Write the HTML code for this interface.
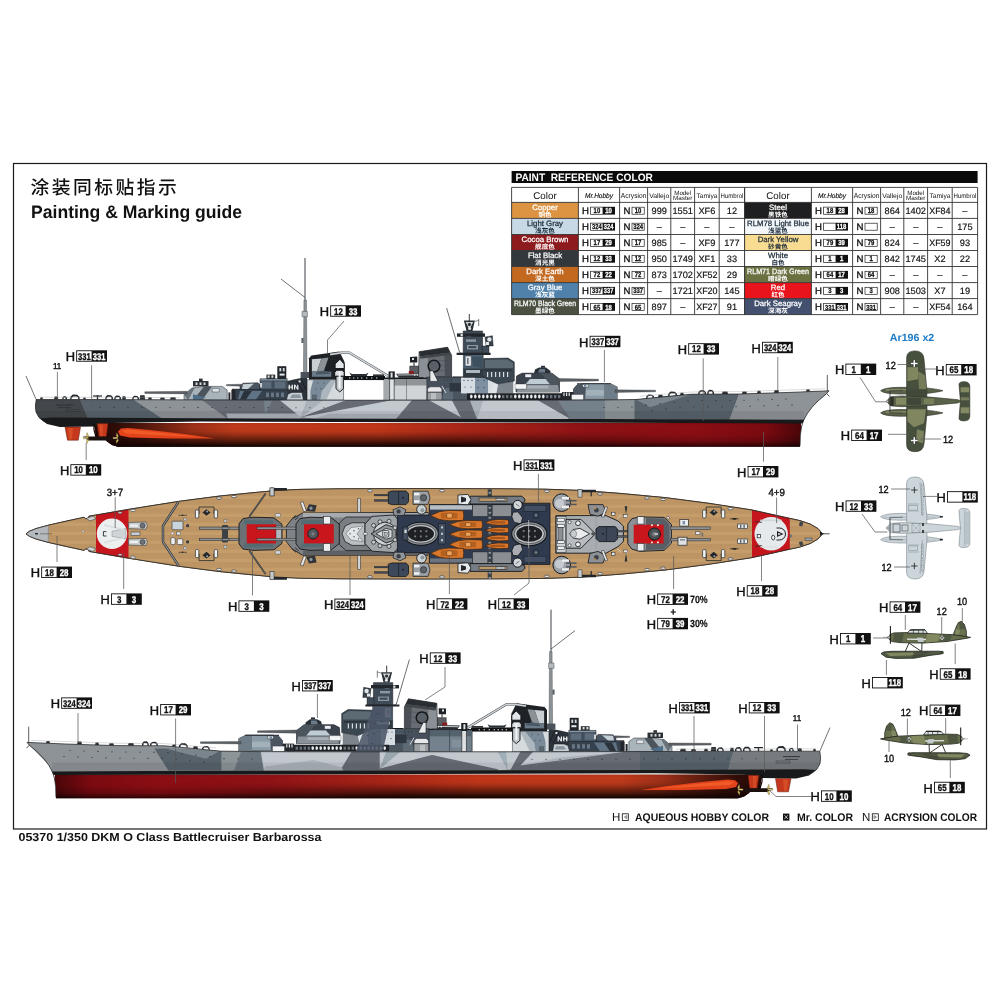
<!DOCTYPE html>
<html lang="zh"><head><meta charset="utf-8"><title>05370 1/350 DKM O Class Battlecruiser Barbarossa - Painting &amp; Marking guide</title>
<style>
html,body{margin:0;padding:0;background:#fff;}
body{width:1000px;height:1000px;overflow:hidden;position:relative;font-family:"Liberation Sans","Noto Sans CJK SC",sans-serif;}
svg{position:absolute;left:0;top:0;display:block;will-change:transform;text-rendering:geometricPrecision}
svg text{font-family:"Liberation Sans","Noto Sans CJK SC",sans-serif;}
.b{font-weight:bold}
</style></head><body>
<svg width="1000" height="1000" viewBox="0 0 1000 1000">
<defs>
<linearGradient id="redTop" x1="0" y1="0" x2="1" y2="0">
 <stop offset="0" stop-color="#5a1810"/><stop offset="0.08" stop-color="#7e2614"/><stop offset="0.2" stop-color="#c23c1c"/><stop offset="0.4" stop-color="#c4381a"/><stop offset="0.55" stop-color="#a82418"/><stop offset="0.7" stop-color="#921216"/><stop offset="0.85" stop-color="#8c0e14"/><stop offset="0.95" stop-color="#7c0a10"/><stop offset="1" stop-color="#4a0608"/>
</linearGradient>
<linearGradient id="redBot" x1="1" y1="0" x2="0" y2="0">
 <stop offset="0" stop-color="#5a1810"/><stop offset="0.08" stop-color="#7e2614"/><stop offset="0.2" stop-color="#c23c1c"/><stop offset="0.4" stop-color="#c4381a"/><stop offset="0.55" stop-color="#a82418"/><stop offset="0.7" stop-color="#921216"/><stop offset="0.85" stop-color="#8c0e14"/><stop offset="0.95" stop-color="#7c0a10"/><stop offset="1" stop-color="#4a0608"/>
</linearGradient>
<linearGradient id="shadeV" x1="0" y1="0" x2="0" y2="1">
 <stop offset="0" stop-color="#000" stop-opacity="0.10"/><stop offset="0.12" stop-color="#000" stop-opacity="0"/><stop offset="0.5" stop-color="#000" stop-opacity="0.04"/><stop offset="0.78" stop-color="#000" stop-opacity="0.22"/><stop offset="0.92" stop-color="#000" stop-opacity="0.5"/><stop offset="1" stop-color="#000" stop-opacity="0.8"/>
</linearGradient>
<linearGradient id="shadeMid" x1="0" y1="0" x2="0" y2="1">
 <stop offset="0" stop-color="#000" stop-opacity="0"/><stop offset="0.35" stop-color="#000" stop-opacity="0.03"/><stop offset="0.7" stop-color="#000" stop-opacity="0.38"/><stop offset="1" stop-color="#000" stop-opacity="0.7"/>
</linearGradient>
<linearGradient id="fadeR" x1="0" y1="0" x2="1" y2="0">
 <stop offset="0" stop-color="#fff" stop-opacity="1"/><stop offset="0.6" stop-color="#fff" stop-opacity="1"/><stop offset="1" stop-color="#fff" stop-opacity="0"/>
</linearGradient>
<linearGradient id="fadeL" x1="1" y1="0" x2="0" y2="0">
 <stop offset="0" stop-color="#fff" stop-opacity="1"/><stop offset="0.6" stop-color="#fff" stop-opacity="1"/><stop offset="1" stop-color="#fff" stop-opacity="0"/>
</linearGradient>
<mask id="mMidT" maskUnits="userSpaceOnUse" x="0" y="0" width="1000" height="1000"><rect x="90" y="400" width="600" height="60" fill="url(#fadeR)"/></mask>
<mask id="mMidB" maskUnits="userSpaceOnUse" x="0" y="0" width="1000" height="1000"><rect x="166" y="750" width="600" height="60" fill="url(#fadeL)"/></mask>

<linearGradient id="sternDark" x1="0" y1="0" x2="1" y2="0">
 <stop offset="0" stop-color="#1a0604" stop-opacity="0.85"/><stop offset="0.12" stop-color="#1a0604" stop-opacity="0.7"/><stop offset="0.3" stop-color="#1a0604" stop-opacity="0.3"/><stop offset="0.5" stop-color="#1a0604" stop-opacity="0"/><stop offset="1" stop-color="#1a0604" stop-opacity="0"/>
</linearGradient>
<linearGradient id="sternDarkM" x1="1" y1="0" x2="0" y2="0">
 <stop offset="0" stop-color="#1a0604" stop-opacity="0.85"/><stop offset="0.12" stop-color="#1a0604" stop-opacity="0.7"/><stop offset="0.3" stop-color="#1a0604" stop-opacity="0.3"/><stop offset="0.5" stop-color="#1a0604" stop-opacity="0"/><stop offset="1" stop-color="#1a0604" stop-opacity="0"/>
</linearGradient>
<linearGradient id="wood" x1="0" y1="0" x2="0" y2="1">
 <stop offset="0" stop-color="#b98f5e"/><stop offset="0.5" stop-color="#c49a68"/><stop offset="1" stop-color="#b98f5e"/>
</linearGradient>
<pattern id="planks" width="60" height="9" patternUnits="userSpaceOnUse">
 <rect width="60" height="9" fill="#c49d6b"/><rect y="4.5" width="60" height="4.5" fill="#bd9564"/><rect y="0" width="60" height="0.5" fill="#a98252" opacity="0.5"/><rect y="4.5" width="60" height="0.5" fill="#a98252" opacity="0.4"/><rect x="29.6" y="0" width="0.5" height="4.5" fill="#a98252" opacity="0.35"/><rect x="0" y="4.5" width="0.5" height="4.5" fill="#a98252" opacity="0.35"/>
</pattern>
</defs>
<rect x="13.5" y="163.5" width="973" height="665.5" fill="#fff" stroke="#1a1a1a" stroke-width="1.2"/>
<text x="30.4" y="193.8" font-size="18.8" letter-spacing="2.5" font-weight="500" fill="#111">涂装同标贴指示</text>
<text x="31" y="217.6" font-size="18" class="b" fill="#111" textLength="211" lengthAdjust="spacingAndGlyphs">Painting &amp; Marking guide</text>
<text x="18.5" y="841.3" font-size="11.6" class="b" fill="#111" textLength="303" lengthAdjust="spacingAndGlyphs">05370 1/350 DKM O Class Battlecruiser Barbarossa</text>
<rect x="511.6" y="171" width="466" height="12" fill="#0a0a0a"/>
<text x="515.4" y="181" font-size="10.8" class="b" fill="#fff" textLength="137.5" lengthAdjust="spacingAndGlyphs" xml:space="preserve">PAINT  REFERENCE COLOR</text>
<text x="545.0" y="199.4" font-size="9.8" text-anchor="middle" fill="#111">Color</text>
<text x="599.0" y="197.6" font-size="6.8" font-style="italic" text-anchor="middle" fill="#111" stroke="#111" stroke-width="0.15" textLength="28" lengthAdjust="spacingAndGlyphs">Mr.Hobby</text>
<text x="633.6" y="198" font-size="7.2" text-anchor="middle" fill="#111" textLength="25.5" lengthAdjust="spacingAndGlyphs">Acrysion</text>
<text x="659.2" y="197.6" font-size="6.6" text-anchor="middle" fill="#111" textLength="20" lengthAdjust="spacingAndGlyphs">Vallejo</text>
<text x="682.7" y="194.6" font-size="6.2" text-anchor="middle" fill="#111" textLength="17" lengthAdjust="spacingAndGlyphs">Model</text>
<text x="682.7" y="200.2" font-size="6.2" text-anchor="middle" fill="#111" textLength="19.5" lengthAdjust="spacingAndGlyphs">Master</text>
<text x="706.9" y="197.6" font-size="6.6" text-anchor="middle" fill="#111" textLength="21" lengthAdjust="spacingAndGlyphs">Tamiya</text>
<text x="731.9" y="197.8" font-size="6.6" text-anchor="middle" fill="#111" textLength="23" lengthAdjust="spacingAndGlyphs">Humbrol</text>
<rect x="511.6" y="202.4" width="66.8" height="16.03" fill="#dd9442"/>
<text x="545.0" y="209.6" font-size="7.8" text-anchor="middle" fill="#fff" stroke="#fff" stroke-width="0.25">Copper</text>
<text x="545.0" y="217.0" font-size="6.6" class="b" text-anchor="middle" fill="#fff" font-family="'Liberation Sans','Noto Sans CJK SC',sans-serif">铜色</text>
<text x="589.0" y="214.0" font-size="9.6" text-anchor="end" fill="#111" stroke="#111" stroke-width="0.32">H</text><rect x="590.2" y="206.8" width="24.8" height="7.8" fill="#111"/><rect x="590.85" y="207.45" width="11.75" height="6.50" fill="#fff"/><text x="596.9" y="213.3" font-size="7.3" class="b" text-anchor="middle" fill="#111" stroke="#111" stroke-width="0.26" textLength="6.6" lengthAdjust="spacingAndGlyphs">10</text><text x="608.6" y="213.3" font-size="7.3" class="b" text-anchor="middle" fill="#fff" stroke="#fff" stroke-width="0.26" textLength="6.6" lengthAdjust="spacingAndGlyphs">10</text>
<text x="630.4" y="214.0" font-size="9.6" text-anchor="end" fill="#111" stroke="#111" stroke-width="0.32">N</text><rect x="632.0" y="207.2" width="12.2" height="7.0" fill="#fff" stroke="#111" stroke-width="0.65"/><text x="638.1" y="213.3" font-size="7.3" class="b" text-anchor="middle" fill="#111" stroke="#111" stroke-width="0.26" textLength="6.6" lengthAdjust="spacingAndGlyphs">10</text>
<text x="659.2" y="214.0" font-size="9.2" text-anchor="middle" fill="#111" stroke="#111" stroke-width="0.18">999</text>
<text x="682.7" y="214.0" font-size="9.2" text-anchor="middle" fill="#111" stroke="#111" stroke-width="0.18" textLength="20.6" lengthAdjust="spacingAndGlyphs">1551</text>
<text x="706.9" y="214.0" font-size="9.2" text-anchor="middle" fill="#111" stroke="#111" stroke-width="0.18">XF6</text>
<text x="731.9" y="214.0" font-size="9.2" text-anchor="middle" fill="#111" stroke="#111" stroke-width="0.18">12</text>
<rect x="511.6" y="218.4" width="66.8" height="16.03" fill="#c6d9e5"/>
<text x="545.0" y="225.6" font-size="7.8" text-anchor="middle" fill="#1c2b3a" stroke="#1c2b3a" stroke-width="0.25">Light Gray</text>
<text x="545.0" y="233.0" font-size="6.6" class="b" text-anchor="middle" fill="#1c2b3a" font-family="'Liberation Sans','Noto Sans CJK SC',sans-serif">浅灰色</text>
<text x="589.0" y="230.0" font-size="9.6" text-anchor="end" fill="#111" stroke="#111" stroke-width="0.32">H</text><rect x="590.2" y="222.8" width="24.8" height="7.8" fill="#111"/><rect x="590.85" y="223.48" width="11.75" height="6.50" fill="#fff"/><text x="596.9" y="229.3" font-size="7.3" class="b" text-anchor="middle" fill="#111" stroke="#111" stroke-width="0.26" textLength="9.6" lengthAdjust="spacingAndGlyphs">324</text><text x="608.6" y="229.3" font-size="7.3" class="b" text-anchor="middle" fill="#fff" stroke="#fff" stroke-width="0.26" textLength="9.6" lengthAdjust="spacingAndGlyphs">324</text>
<text x="630.4" y="230.0" font-size="9.6" text-anchor="end" fill="#111" stroke="#111" stroke-width="0.32">N</text><rect x="632.0" y="223.2" width="12.2" height="7.0" fill="#fff" stroke="#111" stroke-width="0.65"/><text x="638.1" y="229.3" font-size="7.3" class="b" text-anchor="middle" fill="#111" stroke="#111" stroke-width="0.26" textLength="9.9" lengthAdjust="spacingAndGlyphs">324</text>
<text x="659.2" y="229.6" font-size="9.2" text-anchor="middle" fill="#111" stroke="#111" stroke-width="0.2">–</text>
<text x="682.7" y="229.6" font-size="9.2" text-anchor="middle" fill="#111" stroke="#111" stroke-width="0.2">–</text>
<text x="706.9" y="229.6" font-size="9.2" text-anchor="middle" fill="#111" stroke="#111" stroke-width="0.2">–</text>
<text x="731.9" y="229.6" font-size="9.2" text-anchor="middle" fill="#111" stroke="#111" stroke-width="0.2">–</text>
<rect x="511.6" y="234.5" width="66.8" height="16.03" fill="#8d1b1d"/>
<text x="545.0" y="241.7" font-size="7.8" text-anchor="middle" fill="#fff" stroke="#fff" stroke-width="0.25">Cocoa Brown</text>
<text x="545.0" y="249.1" font-size="6.6" class="b" text-anchor="middle" fill="#fff" font-family="'Liberation Sans','Noto Sans CJK SC',sans-serif">舰底色</text>
<text x="589.0" y="246.1" font-size="9.6" text-anchor="end" fill="#111" stroke="#111" stroke-width="0.32">H</text><rect x="590.2" y="238.9" width="24.8" height="7.8" fill="#111"/><rect x="590.85" y="239.51" width="11.75" height="6.50" fill="#fff"/><text x="596.9" y="245.4" font-size="7.3" class="b" text-anchor="middle" fill="#111" stroke="#111" stroke-width="0.26" textLength="6.6" lengthAdjust="spacingAndGlyphs">17</text><text x="608.6" y="245.4" font-size="7.3" class="b" text-anchor="middle" fill="#fff" stroke="#fff" stroke-width="0.26" textLength="6.6" lengthAdjust="spacingAndGlyphs">29</text>
<text x="630.4" y="246.1" font-size="9.6" text-anchor="end" fill="#111" stroke="#111" stroke-width="0.32">N</text><rect x="632.0" y="239.3" width="12.2" height="7.0" fill="#fff" stroke="#111" stroke-width="0.65"/><text x="638.1" y="245.4" font-size="7.3" class="b" text-anchor="middle" fill="#111" stroke="#111" stroke-width="0.26" textLength="6.6" lengthAdjust="spacingAndGlyphs">17</text>
<text x="659.2" y="246.1" font-size="9.2" text-anchor="middle" fill="#111" stroke="#111" stroke-width="0.18">985</text>
<text x="682.7" y="245.7" font-size="9.2" text-anchor="middle" fill="#111" stroke="#111" stroke-width="0.2">–</text>
<text x="706.9" y="246.1" font-size="9.2" text-anchor="middle" fill="#111" stroke="#111" stroke-width="0.18">XF9</text>
<text x="731.9" y="246.1" font-size="9.2" text-anchor="middle" fill="#111" stroke="#111" stroke-width="0.18">177</text>
<rect x="511.6" y="250.5" width="66.8" height="16.03" fill="#33383d"/>
<text x="545.0" y="257.7" font-size="7.8" text-anchor="middle" fill="#fff" stroke="#fff" stroke-width="0.25">Flat Black</text>
<text x="545.0" y="265.1" font-size="6.6" class="b" text-anchor="middle" fill="#fff" font-family="'Liberation Sans','Noto Sans CJK SC',sans-serif">消光黑</text>
<text x="589.0" y="262.1" font-size="9.6" text-anchor="end" fill="#111" stroke="#111" stroke-width="0.32">H</text><rect x="590.2" y="254.9" width="24.8" height="7.8" fill="#111"/><rect x="590.85" y="255.54" width="11.75" height="6.50" fill="#fff"/><text x="596.9" y="261.4" font-size="7.3" class="b" text-anchor="middle" fill="#111" stroke="#111" stroke-width="0.26" textLength="6.6" lengthAdjust="spacingAndGlyphs">12</text><text x="608.6" y="261.4" font-size="7.3" class="b" text-anchor="middle" fill="#fff" stroke="#fff" stroke-width="0.26" textLength="6.6" lengthAdjust="spacingAndGlyphs">33</text>
<text x="630.4" y="262.1" font-size="9.6" text-anchor="end" fill="#111" stroke="#111" stroke-width="0.32">N</text><rect x="632.0" y="255.3" width="12.2" height="7.0" fill="#fff" stroke="#111" stroke-width="0.65"/><text x="638.1" y="261.4" font-size="7.3" class="b" text-anchor="middle" fill="#111" stroke="#111" stroke-width="0.26" textLength="6.6" lengthAdjust="spacingAndGlyphs">12</text>
<text x="659.2" y="262.1" font-size="9.2" text-anchor="middle" fill="#111" stroke="#111" stroke-width="0.18">950</text>
<text x="682.7" y="262.1" font-size="9.2" text-anchor="middle" fill="#111" stroke="#111" stroke-width="0.18" textLength="20.6" lengthAdjust="spacingAndGlyphs">1749</text>
<text x="706.9" y="262.1" font-size="9.2" text-anchor="middle" fill="#111" stroke="#111" stroke-width="0.18">XF1</text>
<text x="731.9" y="262.1" font-size="9.2" text-anchor="middle" fill="#111" stroke="#111" stroke-width="0.18">33</text>
<rect x="511.6" y="266.5" width="66.8" height="16.03" fill="#c3691f"/>
<text x="545.0" y="273.7" font-size="7.8" text-anchor="middle" fill="#fff" stroke="#fff" stroke-width="0.25">Dark Earth</text>
<text x="545.0" y="281.1" font-size="6.6" class="b" text-anchor="middle" fill="#fff" font-family="'Liberation Sans','Noto Sans CJK SC',sans-serif">深土色</text>
<text x="589.0" y="278.1" font-size="9.6" text-anchor="end" fill="#111" stroke="#111" stroke-width="0.32">H</text><rect x="590.2" y="270.9" width="24.8" height="7.8" fill="#111"/><rect x="590.85" y="271.57" width="11.75" height="6.50" fill="#fff"/><text x="596.9" y="277.4" font-size="7.3" class="b" text-anchor="middle" fill="#111" stroke="#111" stroke-width="0.26" textLength="6.6" lengthAdjust="spacingAndGlyphs">72</text><text x="608.6" y="277.4" font-size="7.3" class="b" text-anchor="middle" fill="#fff" stroke="#fff" stroke-width="0.26" textLength="6.6" lengthAdjust="spacingAndGlyphs">22</text>
<text x="630.4" y="278.1" font-size="9.6" text-anchor="end" fill="#111" stroke="#111" stroke-width="0.32">N</text><rect x="632.0" y="271.3" width="12.2" height="7.0" fill="#fff" stroke="#111" stroke-width="0.65"/><text x="638.1" y="277.4" font-size="7.3" class="b" text-anchor="middle" fill="#111" stroke="#111" stroke-width="0.26" textLength="6.6" lengthAdjust="spacingAndGlyphs">72</text>
<text x="659.2" y="278.1" font-size="9.2" text-anchor="middle" fill="#111" stroke="#111" stroke-width="0.18">873</text>
<text x="682.7" y="278.1" font-size="9.2" text-anchor="middle" fill="#111" stroke="#111" stroke-width="0.18" textLength="20.6" lengthAdjust="spacingAndGlyphs">1702</text>
<text x="706.9" y="278.1" font-size="9.2" text-anchor="middle" fill="#111" stroke="#111" stroke-width="0.18" textLength="21.4" lengthAdjust="spacingAndGlyphs">XF52</text>
<text x="731.9" y="278.1" font-size="9.2" text-anchor="middle" fill="#111" stroke="#111" stroke-width="0.18">29</text>
<rect x="511.6" y="282.6" width="66.8" height="16.03" fill="#4f81ab"/>
<text x="545.0" y="289.8" font-size="7.8" text-anchor="middle" fill="#fff" stroke="#fff" stroke-width="0.25">Gray Blue</text>
<text x="545.0" y="297.2" font-size="6.6" class="b" text-anchor="middle" fill="#fff" font-family="'Liberation Sans','Noto Sans CJK SC',sans-serif">浅灰蓝</text>
<text x="589.0" y="294.1" font-size="9.6" text-anchor="end" fill="#111" stroke="#111" stroke-width="0.32">H</text><rect x="590.2" y="286.9" width="24.8" height="7.8" fill="#111"/><rect x="590.85" y="287.60" width="11.75" height="6.50" fill="#fff"/><text x="596.9" y="293.4" font-size="7.3" class="b" text-anchor="middle" fill="#111" stroke="#111" stroke-width="0.26" textLength="9.6" lengthAdjust="spacingAndGlyphs">337</text><text x="608.6" y="293.4" font-size="7.3" class="b" text-anchor="middle" fill="#fff" stroke="#fff" stroke-width="0.26" textLength="9.6" lengthAdjust="spacingAndGlyphs">337</text>
<text x="630.4" y="294.1" font-size="9.6" text-anchor="end" fill="#111" stroke="#111" stroke-width="0.32">N</text><rect x="632.0" y="287.3" width="12.2" height="7.0" fill="#fff" stroke="#111" stroke-width="0.65"/><text x="638.1" y="293.4" font-size="7.3" class="b" text-anchor="middle" fill="#111" stroke="#111" stroke-width="0.26" textLength="9.9" lengthAdjust="spacingAndGlyphs">337</text>
<text x="659.2" y="293.8" font-size="9.2" text-anchor="middle" fill="#111" stroke="#111" stroke-width="0.2">–</text>
<text x="682.7" y="294.2" font-size="9.2" text-anchor="middle" fill="#111" stroke="#111" stroke-width="0.18" textLength="20.6" lengthAdjust="spacingAndGlyphs">1721</text>
<text x="706.9" y="294.2" font-size="9.2" text-anchor="middle" fill="#111" stroke="#111" stroke-width="0.18" textLength="21.4" lengthAdjust="spacingAndGlyphs">XF20</text>
<text x="731.9" y="294.2" font-size="9.2" text-anchor="middle" fill="#111" stroke="#111" stroke-width="0.18">145</text>
<rect x="511.6" y="298.6" width="66.8" height="16.03" fill="#4b5141"/>
<text x="545.0" y="305.8" font-size="7.8" text-anchor="middle" fill="#fff" stroke="#fff" stroke-width="0.25" textLength="62" lengthAdjust="spacingAndGlyphs">RLM70 Black Green</text>
<text x="545.0" y="313.2" font-size="6.6" class="b" text-anchor="middle" fill="#fff" font-family="'Liberation Sans','Noto Sans CJK SC',sans-serif">墨绿色</text>
<text x="589.0" y="310.2" font-size="9.6" text-anchor="end" fill="#111" stroke="#111" stroke-width="0.32">H</text><rect x="590.2" y="303.0" width="24.8" height="7.8" fill="#111"/><rect x="590.85" y="303.63" width="11.75" height="6.50" fill="#fff"/><text x="596.9" y="309.5" font-size="7.3" class="b" text-anchor="middle" fill="#111" stroke="#111" stroke-width="0.26" textLength="6.6" lengthAdjust="spacingAndGlyphs">65</text><text x="608.6" y="309.5" font-size="7.3" class="b" text-anchor="middle" fill="#fff" stroke="#fff" stroke-width="0.26" textLength="6.6" lengthAdjust="spacingAndGlyphs">18</text>
<text x="630.4" y="310.2" font-size="9.6" text-anchor="end" fill="#111" stroke="#111" stroke-width="0.32">N</text><rect x="632.0" y="303.4" width="12.2" height="7.0" fill="#fff" stroke="#111" stroke-width="0.65"/><text x="638.1" y="309.5" font-size="7.3" class="b" text-anchor="middle" fill="#111" stroke="#111" stroke-width="0.26" textLength="6.6" lengthAdjust="spacingAndGlyphs">65</text>
<text x="659.2" y="310.2" font-size="9.2" text-anchor="middle" fill="#111" stroke="#111" stroke-width="0.18">897</text>
<text x="682.7" y="309.8" font-size="9.2" text-anchor="middle" fill="#111" stroke="#111" stroke-width="0.2">–</text>
<text x="706.9" y="310.2" font-size="9.2" text-anchor="middle" fill="#111" stroke="#111" stroke-width="0.18" textLength="21.4" lengthAdjust="spacingAndGlyphs">XF27</text>
<text x="731.9" y="310.2" font-size="9.2" text-anchor="middle" fill="#111" stroke="#111" stroke-width="0.18">91</text>
<path d="M511.6 187.4 V314.6" stroke="#333" stroke-width="0.9"/>
<path d="M578.4 187.4 V314.6" stroke="#333" stroke-width="0.9"/>
<path d="M619.6 187.4 V314.6" stroke="#333" stroke-width="0.9"/>
<path d="M647.6 187.4 V314.6" stroke="#333" stroke-width="0.9"/>
<path d="M670.8 187.4 V314.6" stroke="#333" stroke-width="0.9"/>
<path d="M694.6 187.4 V314.6" stroke="#333" stroke-width="0.9"/>
<path d="M719.2 187.4 V314.6" stroke="#333" stroke-width="0.9"/>
<path d="M744.6 187.4 V314.6" stroke="#333" stroke-width="0.9"/>
<text x="778.0" y="199.4" font-size="9.8" text-anchor="middle" fill="#111">Color</text>
<text x="832.0" y="197.6" font-size="6.8" font-style="italic" text-anchor="middle" fill="#111" stroke="#111" stroke-width="0.15" textLength="28" lengthAdjust="spacingAndGlyphs">Mr.Hobby</text>
<text x="866.6" y="198" font-size="7.2" text-anchor="middle" fill="#111" textLength="25.5" lengthAdjust="spacingAndGlyphs">Acrysion</text>
<text x="892.2" y="197.6" font-size="6.6" text-anchor="middle" fill="#111" textLength="20" lengthAdjust="spacingAndGlyphs">Vallejo</text>
<text x="915.7" y="194.6" font-size="6.2" text-anchor="middle" fill="#111" textLength="17" lengthAdjust="spacingAndGlyphs">Model</text>
<text x="915.7" y="200.2" font-size="6.2" text-anchor="middle" fill="#111" textLength="19.5" lengthAdjust="spacingAndGlyphs">Master</text>
<text x="939.9" y="197.6" font-size="6.6" text-anchor="middle" fill="#111" textLength="21" lengthAdjust="spacingAndGlyphs">Tamiya</text>
<text x="964.9" y="197.8" font-size="6.6" text-anchor="middle" fill="#111" textLength="23" lengthAdjust="spacingAndGlyphs">Humbrol</text>
<rect x="744.6" y="202.4" width="66.8" height="16.03" fill="#1e1f21"/>
<text x="778.0" y="209.6" font-size="7.8" text-anchor="middle" fill="#fff" stroke="#fff" stroke-width="0.25">Steel</text>
<text x="778.0" y="217.0" font-size="6.6" class="b" text-anchor="middle" fill="#fff" font-family="'Liberation Sans','Noto Sans CJK SC',sans-serif">黑铁色</text>
<text x="822.0" y="214.0" font-size="9.6" text-anchor="end" fill="#111" stroke="#111" stroke-width="0.32">H</text><rect x="823.2" y="206.8" width="24.8" height="7.8" fill="#111"/><rect x="823.85" y="207.45" width="11.75" height="6.50" fill="#fff"/><text x="829.9" y="213.3" font-size="7.3" class="b" text-anchor="middle" fill="#111" stroke="#111" stroke-width="0.26" textLength="6.6" lengthAdjust="spacingAndGlyphs">18</text><text x="841.6" y="213.3" font-size="7.3" class="b" text-anchor="middle" fill="#fff" stroke="#fff" stroke-width="0.26" textLength="6.6" lengthAdjust="spacingAndGlyphs">28</text>
<text x="863.4" y="214.0" font-size="9.6" text-anchor="end" fill="#111" stroke="#111" stroke-width="0.32">N</text><rect x="865.0" y="207.2" width="12.2" height="7.0" fill="#fff" stroke="#111" stroke-width="0.65"/><text x="871.1" y="213.3" font-size="7.3" class="b" text-anchor="middle" fill="#111" stroke="#111" stroke-width="0.26" textLength="6.6" lengthAdjust="spacingAndGlyphs">18</text>
<text x="892.2" y="214.0" font-size="9.2" text-anchor="middle" fill="#111" stroke="#111" stroke-width="0.18">864</text>
<text x="915.7" y="214.0" font-size="9.2" text-anchor="middle" fill="#111" stroke="#111" stroke-width="0.18" textLength="20.6" lengthAdjust="spacingAndGlyphs">1402</text>
<text x="939.9" y="214.0" font-size="9.2" text-anchor="middle" fill="#111" stroke="#111" stroke-width="0.18" textLength="21.4" lengthAdjust="spacingAndGlyphs">XF84</text>
<text x="964.9" y="213.6" font-size="9.2" text-anchor="middle" fill="#111" stroke="#111" stroke-width="0.2">–</text>
<rect x="744.6" y="218.4" width="66.8" height="16.03" fill="#f4f7fa"/>
<text x="778.0" y="225.6" font-size="7.8" text-anchor="middle" fill="#1c2b3a" stroke="#1c2b3a" stroke-width="0.25" textLength="62" lengthAdjust="spacingAndGlyphs">RLM78 Light Blue</text>
<text x="778.0" y="233.0" font-size="6.6" class="b" text-anchor="middle" fill="#1c2b3a" font-family="'Liberation Sans','Noto Sans CJK SC',sans-serif">浅蓝色</text>
<text x="822.0" y="230.0" font-size="9.6" text-anchor="end" fill="#111" stroke="#111" stroke-width="0.32">H</text><rect x="823.2" y="222.8" width="24.8" height="7.8" fill="#111"/><rect x="823.85" y="223.48" width="11.75" height="6.50" fill="#fff"/><text x="841.6" y="229.3" font-size="7.3" class="b" text-anchor="middle" fill="#fff" stroke="#fff" stroke-width="0.26" textLength="9.6" lengthAdjust="spacingAndGlyphs">118</text>
<text x="863.4" y="230.0" font-size="9.6" text-anchor="end" fill="#111" stroke="#111" stroke-width="0.32">N</text><rect x="865.0" y="223.2" width="12.2" height="7.0" fill="#fff" stroke="#111" stroke-width="0.65"/>
<text x="892.2" y="229.6" font-size="9.2" text-anchor="middle" fill="#111" stroke="#111" stroke-width="0.2">–</text>
<text x="915.7" y="229.6" font-size="9.2" text-anchor="middle" fill="#111" stroke="#111" stroke-width="0.2">–</text>
<text x="939.9" y="229.6" font-size="9.2" text-anchor="middle" fill="#111" stroke="#111" stroke-width="0.2">–</text>
<text x="964.9" y="230.0" font-size="9.2" text-anchor="middle" fill="#111" stroke="#111" stroke-width="0.18">175</text>
<rect x="744.6" y="234.5" width="66.8" height="16.03" fill="#f7dc92"/>
<text x="778.0" y="241.7" font-size="7.8" text-anchor="middle" fill="#1c2b3a" stroke="#1c2b3a" stroke-width="0.25">Dark Yellow</text>
<text x="778.0" y="249.1" font-size="6.6" class="b" text-anchor="middle" fill="#1c2b3a" font-family="'Liberation Sans','Noto Sans CJK SC',sans-serif">砂黄色</text>
<text x="822.0" y="246.1" font-size="9.6" text-anchor="end" fill="#111" stroke="#111" stroke-width="0.32">H</text><rect x="823.2" y="238.9" width="24.8" height="7.8" fill="#111"/><rect x="823.85" y="239.51" width="11.75" height="6.50" fill="#fff"/><text x="829.9" y="245.4" font-size="7.3" class="b" text-anchor="middle" fill="#111" stroke="#111" stroke-width="0.26" textLength="6.6" lengthAdjust="spacingAndGlyphs">79</text><text x="841.6" y="245.4" font-size="7.3" class="b" text-anchor="middle" fill="#fff" stroke="#fff" stroke-width="0.26" textLength="6.6" lengthAdjust="spacingAndGlyphs">39</text>
<text x="863.4" y="246.1" font-size="9.6" text-anchor="end" fill="#111" stroke="#111" stroke-width="0.32">N</text><rect x="865.0" y="239.3" width="12.2" height="7.0" fill="#fff" stroke="#111" stroke-width="0.65"/><text x="871.1" y="245.4" font-size="7.3" class="b" text-anchor="middle" fill="#111" stroke="#111" stroke-width="0.26" textLength="6.6" lengthAdjust="spacingAndGlyphs">79</text>
<text x="892.2" y="246.1" font-size="9.2" text-anchor="middle" fill="#111" stroke="#111" stroke-width="0.18">824</text>
<text x="915.7" y="245.7" font-size="9.2" text-anchor="middle" fill="#111" stroke="#111" stroke-width="0.2">–</text>
<text x="939.9" y="246.1" font-size="9.2" text-anchor="middle" fill="#111" stroke="#111" stroke-width="0.18" textLength="21.4" lengthAdjust="spacingAndGlyphs">XF59</text>
<text x="964.9" y="246.1" font-size="9.2" text-anchor="middle" fill="#111" stroke="#111" stroke-width="0.18">93</text>
<rect x="744.6" y="250.5" width="66.8" height="16.03" fill="#ffffff"/>
<text x="778.0" y="257.7" font-size="7.8" text-anchor="middle" fill="#1c2b3a" stroke="#1c2b3a" stroke-width="0.25">White</text>
<text x="778.0" y="265.1" font-size="6.6" class="b" text-anchor="middle" fill="#1c2b3a" font-family="'Liberation Sans','Noto Sans CJK SC',sans-serif">白色</text>
<text x="822.0" y="262.1" font-size="9.6" text-anchor="end" fill="#111" stroke="#111" stroke-width="0.32">H</text><rect x="823.2" y="254.9" width="24.8" height="7.8" fill="#111"/><rect x="823.85" y="255.54" width="11.75" height="6.50" fill="#fff"/><text x="829.9" y="261.4" font-size="7.3" class="b" text-anchor="middle" fill="#111" stroke="#111" stroke-width="0.26" textLength="3.3" lengthAdjust="spacingAndGlyphs">1</text><text x="841.6" y="261.4" font-size="7.3" class="b" text-anchor="middle" fill="#fff" stroke="#fff" stroke-width="0.26" textLength="3.3" lengthAdjust="spacingAndGlyphs">1</text>
<text x="863.4" y="262.1" font-size="9.6" text-anchor="end" fill="#111" stroke="#111" stroke-width="0.32">N</text><rect x="865.0" y="255.3" width="12.2" height="7.0" fill="#fff" stroke="#111" stroke-width="0.65"/><text x="871.1" y="261.4" font-size="7.3" class="b" text-anchor="middle" fill="#111" stroke="#111" stroke-width="0.26" textLength="3.3" lengthAdjust="spacingAndGlyphs">1</text>
<text x="892.2" y="262.1" font-size="9.2" text-anchor="middle" fill="#111" stroke="#111" stroke-width="0.18">842</text>
<text x="915.7" y="262.1" font-size="9.2" text-anchor="middle" fill="#111" stroke="#111" stroke-width="0.18" textLength="20.6" lengthAdjust="spacingAndGlyphs">1745</text>
<text x="939.9" y="262.1" font-size="9.2" text-anchor="middle" fill="#111" stroke="#111" stroke-width="0.18">X2</text>
<text x="964.9" y="262.1" font-size="9.2" text-anchor="middle" fill="#111" stroke="#111" stroke-width="0.18">22</text>
<rect x="744.6" y="266.5" width="66.8" height="16.03" fill="#6c7141"/>
<text x="778.0" y="273.7" font-size="7.8" text-anchor="middle" fill="#fff" stroke="#fff" stroke-width="0.25" textLength="62" lengthAdjust="spacingAndGlyphs">RLM71 Dark Green</text>
<text x="778.0" y="281.1" font-size="6.6" class="b" text-anchor="middle" fill="#fff" font-family="'Liberation Sans','Noto Sans CJK SC',sans-serif">暗绿色</text>
<text x="822.0" y="278.1" font-size="9.6" text-anchor="end" fill="#111" stroke="#111" stroke-width="0.32">H</text><rect x="823.2" y="270.9" width="24.8" height="7.8" fill="#111"/><rect x="823.85" y="271.57" width="11.75" height="6.50" fill="#fff"/><text x="829.9" y="277.4" font-size="7.3" class="b" text-anchor="middle" fill="#111" stroke="#111" stroke-width="0.26" textLength="6.6" lengthAdjust="spacingAndGlyphs">64</text><text x="841.6" y="277.4" font-size="7.3" class="b" text-anchor="middle" fill="#fff" stroke="#fff" stroke-width="0.26" textLength="6.6" lengthAdjust="spacingAndGlyphs">17</text>
<text x="863.4" y="278.1" font-size="9.6" text-anchor="end" fill="#111" stroke="#111" stroke-width="0.32">N</text><rect x="865.0" y="271.3" width="12.2" height="7.0" fill="#fff" stroke="#111" stroke-width="0.65"/><text x="871.1" y="277.4" font-size="7.3" class="b" text-anchor="middle" fill="#111" stroke="#111" stroke-width="0.26" textLength="6.6" lengthAdjust="spacingAndGlyphs">64</text>
<text x="892.2" y="277.7" font-size="9.2" text-anchor="middle" fill="#111" stroke="#111" stroke-width="0.2">–</text>
<text x="915.7" y="277.7" font-size="9.2" text-anchor="middle" fill="#111" stroke="#111" stroke-width="0.2">–</text>
<text x="939.9" y="277.7" font-size="9.2" text-anchor="middle" fill="#111" stroke="#111" stroke-width="0.2">–</text>
<text x="964.9" y="277.7" font-size="9.2" text-anchor="middle" fill="#111" stroke="#111" stroke-width="0.2">–</text>
<rect x="744.6" y="282.6" width="66.8" height="16.03" fill="#e8131b"/>
<text x="778.0" y="289.8" font-size="7.8" text-anchor="middle" fill="#fff" stroke="#fff" stroke-width="0.25">Red</text>
<text x="778.0" y="297.2" font-size="6.6" class="b" text-anchor="middle" fill="#fff" font-family="'Liberation Sans','Noto Sans CJK SC',sans-serif">红色</text>
<text x="822.0" y="294.1" font-size="9.6" text-anchor="end" fill="#111" stroke="#111" stroke-width="0.32">H</text><rect x="823.2" y="286.9" width="24.8" height="7.8" fill="#111"/><rect x="823.85" y="287.60" width="11.75" height="6.50" fill="#fff"/><text x="829.9" y="293.4" font-size="7.3" class="b" text-anchor="middle" fill="#111" stroke="#111" stroke-width="0.26" textLength="3.3" lengthAdjust="spacingAndGlyphs">3</text><text x="841.6" y="293.4" font-size="7.3" class="b" text-anchor="middle" fill="#fff" stroke="#fff" stroke-width="0.26" textLength="3.3" lengthAdjust="spacingAndGlyphs">3</text>
<text x="863.4" y="294.1" font-size="9.6" text-anchor="end" fill="#111" stroke="#111" stroke-width="0.32">N</text><rect x="865.0" y="287.3" width="12.2" height="7.0" fill="#fff" stroke="#111" stroke-width="0.65"/><text x="871.1" y="293.4" font-size="7.3" class="b" text-anchor="middle" fill="#111" stroke="#111" stroke-width="0.26" textLength="3.3" lengthAdjust="spacingAndGlyphs">3</text>
<text x="892.2" y="294.2" font-size="9.2" text-anchor="middle" fill="#111" stroke="#111" stroke-width="0.18">908</text>
<text x="915.7" y="294.2" font-size="9.2" text-anchor="middle" fill="#111" stroke="#111" stroke-width="0.18" textLength="20.6" lengthAdjust="spacingAndGlyphs">1503</text>
<text x="939.9" y="294.2" font-size="9.2" text-anchor="middle" fill="#111" stroke="#111" stroke-width="0.18">X7</text>
<text x="964.9" y="294.2" font-size="9.2" text-anchor="middle" fill="#111" stroke="#111" stroke-width="0.18">19</text>
<rect x="744.6" y="298.6" width="66.8" height="16.03" fill="#43516f"/>
<text x="778.0" y="305.8" font-size="7.8" text-anchor="middle" fill="#fff" stroke="#fff" stroke-width="0.25">Dark Seagray</text>
<text x="778.0" y="313.2" font-size="6.6" class="b" text-anchor="middle" fill="#fff" font-family="'Liberation Sans','Noto Sans CJK SC',sans-serif">深海灰</text>
<text x="822.0" y="310.2" font-size="9.6" text-anchor="end" fill="#111" stroke="#111" stroke-width="0.32">H</text><rect x="823.2" y="303.0" width="24.8" height="7.8" fill="#111"/><rect x="823.85" y="303.63" width="11.75" height="6.50" fill="#fff"/><text x="829.9" y="309.5" font-size="7.3" class="b" text-anchor="middle" fill="#111" stroke="#111" stroke-width="0.26" textLength="9.6" lengthAdjust="spacingAndGlyphs">331</text><text x="841.6" y="309.5" font-size="7.3" class="b" text-anchor="middle" fill="#fff" stroke="#fff" stroke-width="0.26" textLength="9.6" lengthAdjust="spacingAndGlyphs">331</text>
<text x="863.4" y="310.2" font-size="9.6" text-anchor="end" fill="#111" stroke="#111" stroke-width="0.32">N</text><rect x="865.0" y="303.4" width="12.2" height="7.0" fill="#fff" stroke="#111" stroke-width="0.65"/><text x="871.1" y="309.5" font-size="7.3" class="b" text-anchor="middle" fill="#111" stroke="#111" stroke-width="0.26" textLength="9.9" lengthAdjust="spacingAndGlyphs">331</text>
<text x="892.2" y="309.8" font-size="9.2" text-anchor="middle" fill="#111" stroke="#111" stroke-width="0.2">–</text>
<text x="915.7" y="309.8" font-size="9.2" text-anchor="middle" fill="#111" stroke="#111" stroke-width="0.2">–</text>
<text x="939.9" y="310.2" font-size="9.2" text-anchor="middle" fill="#111" stroke="#111" stroke-width="0.18" textLength="21.4" lengthAdjust="spacingAndGlyphs">XF54</text>
<text x="964.9" y="310.2" font-size="9.2" text-anchor="middle" fill="#111" stroke="#111" stroke-width="0.18">164</text>
<path d="M744.6 187.4 V314.6" stroke="#333" stroke-width="0.9"/>
<path d="M811.4 187.4 V314.6" stroke="#333" stroke-width="0.9"/>
<path d="M852.6 187.4 V314.6" stroke="#333" stroke-width="0.9"/>
<path d="M880.6 187.4 V314.6" stroke="#333" stroke-width="0.9"/>
<path d="M903.8 187.4 V314.6" stroke="#333" stroke-width="0.9"/>
<path d="M927.6 187.4 V314.6" stroke="#333" stroke-width="0.9"/>
<path d="M952.2 187.4 V314.6" stroke="#333" stroke-width="0.9"/>
<path d="M977.6 187.4 V314.6" stroke="#333" stroke-width="0.9"/>
<path d="M511.6 187.4 H977.6" stroke="#333" stroke-width="0.9"/>
<path d="M511.6 202.4 H977.6" stroke="#333" stroke-width="0.9"/>
<path d="M511.6 218.4 H977.6" stroke="#333" stroke-width="0.9"/>
<path d="M511.6 234.5 H977.6" stroke="#333" stroke-width="0.9"/>
<path d="M511.6 250.5 H977.6" stroke="#333" stroke-width="0.9"/>
<path d="M511.6 266.5 H977.6" stroke="#333" stroke-width="0.9"/>
<path d="M511.6 282.6 H977.6" stroke="#333" stroke-width="0.9"/>
<path d="M511.6 298.6 H977.6" stroke="#333" stroke-width="0.9"/>
<path d="M511.6 314.6 H977.6" stroke="#333" stroke-width="0.9"/>
<g id="ship-top"><path d="M26 376 L36.2 399.6" fill="none" stroke="#33373b" stroke-width="0.7"/>
<path d="M827.3 375 L827.3 391" fill="none" stroke="#33373b" stroke-width="0.8"/>
<path d="M826 393 L829.5 396.5" fill="none" stroke="#222" stroke-width="0.8"/>
<path d="M40 399.6 L40.6 397.2 L42.4 397.2 L43 399.6Z" fill="#2a2d31"/>
<path d="M54 399.6 L54.6 396.6 L57.8 396.6 L58.4 399.6Z" fill="#2a2d31"/>
<path d="M62 399.6 L62.6 397.56 L63.5 396.2 L65.75 396.37 L67 397.9 L67 399.6 L65.6 399.6 L65.4 398.07 L65.5 397.492 L63.75 397.56 L63.6 398.58 L63.6 399.6Z" fill="#23262a"/>
<path d="M70 399.6 L70.6 396.48 L72.88 394.4 L77.2 394.66 L79.6 397 L79.6 399.6 L78.2 399.6 L78 397.26 L76.72 396.376 L73.36 396.48 L71.6 398.04 L71.6 399.6Z" fill="#23262a"/>
<path d="M83 399.6 L83.6 397.6 L85.4 397.6 L86 399.6Z" fill="#2a2d31"/>
<path d="M93 395.4 L102 395.4 L102 396.6 L93 396.6Z" fill="#23262a"/>
<path d="M96.8 395.4 L98.2 395.4 L98.2 399.6 L96.8 399.6Z" fill="#23262a"/>
<path d="M105 399.627 L105.6 396.867 L107.4 395.027 L111 395.257 L113 397.327 L113 399.627 L111.6 399.627 L111.4 397.557 L110.6 396.775 L107.8 396.867 L106.6 398.247 L106.6 399.627Z" fill="#23262a"/>
<path d="M114 399.653 L114.6 397.133 L116.1 395.453 L119.25 395.663 L121 397.553 L121 399.653 L119.6 399.653 L119.4 397.763 L118.9 397.049 L116.45 397.133 L115.6 398.393 L115.6 399.653Z" fill="#23262a"/>
<path d="M122 399.666 L122.6 396.266 L125.4 396.266 L126 399.666Z" fill="#2a2d31"/>
<path d="M132 399.707 L132.6 397.307 L134.1 395.707 L137.25 395.906 L139 397.707 L139 399.707 L137.6 399.707 L137.4 397.906 L136.9 397.226 L134.45 397.307 L133.6 398.507 L133.6 399.707Z" fill="#23262a"/>
<path d="M139.6 399.719 L140.2 395.319 L144.6 395.319 L145.2 399.719Z" fill="#2a2d31"/>
<path d="M148 399.744 L148.6 397.144 L151.4 397.144 L152 399.744Z" fill="#2a2d31"/>
<path d="M160 399.78 L160.6 397.38 L164.4 397.38 L165 399.78Z" fill="#2a2d31"/>
<path d="M170 399.81 L170.6 397.21 L175.4 397.21 L176 399.81Z" fill="#2a2d31"/>
<path d="M646 398.1 L646.6 395.94 L648.4 394.5 L652 394.68 L654 396.3 L654 398.1 L652.6 398.1 L652.4 396.48 L651.6 395.868 L648.8 395.94 L647.6 397.02 L647.6 398.1Z" fill="#23262a"/>
<path d="M658 397.3 L658.6 394.7 L662.4 394.7 L663 397.3Z" fill="#2a2d31"/>
<path d="M668 395.933 L668.6 393.293 L670.7 391.533 L674.75 391.753 L677 393.733 L677 395.933 L675.6 395.933 L675.4 393.953 L674.3 393.205 L671.15 393.293 L669.6 394.613 L669.6 395.933Z" fill="#23262a"/>
<path d="M680 395.267 L680.6 392.867 L683.4 392.867 L684 395.267Z" fill="#2a2d31"/>
<path d="M698 394.158 L698.6 391.758 L700.4 390.158 L704 390.358 L706 392.158 L706 394.158 L704.6 394.158 L704.4 392.358 L703.6 391.678 L700.8 391.758 L699.6 392.958 L699.6 394.158Z" fill="#23262a"/>
<path d="M707 394.123 L707.6 391.483 L709.1 389.723 L712.25 389.943 L714 391.923 L714 394.123 L712.6 394.123 L712.4 392.143 L711.9 391.395 L709.45 391.483 L708.6 392.803 L708.6 394.123Z" fill="#23262a"/>
<path d="M722 394.075 L722.6 391.475 L727.4 391.475 L728 394.075Z" fill="#2a2d31"/>
<path d="M742 393.936 L742.6 391.536 L746.4 391.536 L747 393.936Z" fill="#2a2d31"/>
<path d="M757 393.456 L757.6 390.856 L760.4 390.856 L761 393.456Z" fill="#2a2d31"/>
<path d="M774 392.912 L774.6 389.912 L778.4 389.912 L779 392.912Z" fill="#2a2d31"/>
<path d="M806 391.744 L806.6 389.344 L809.4 389.344 L810 391.744Z" fill="#2a2d31"/>
<circle cx="765" cy="395.4" r="1.5" fill="#dfe3e5" stroke="#23262a" stroke-width="0.5"/>
<path d="M40 397.2 L180 397.6" fill="none" stroke="#9a9ea2" stroke-width="0.4"/>
<path d="M640 396.2 L692 392 L740 391.6 L825 388.8" fill="none" stroke="#a0a4a8" stroke-width="0.4"/>
<path d="M184 400.2 L184 394.7 L192 388 L204 386.4 L222.2 386.4 L227.2 390 L227.2 400.2Z" fill="#a9b3ba" stroke="#20242a" stroke-width="0.5" stroke-linejoin="round"/>
<path d="M204 386.4 L212 386.4 L202 400.2 L193 400.2Z" fill="#4c545c"/>
<path d="M212.2 388.4 L219.2 388.4 L219.2 392 L212.2 392Z" fill="#dfe4e6" stroke="#20242a" stroke-width="0.4" stroke-linejoin="round"/>
<path d="M184 394.7 L192 388 L195 387.6 L188 400.2Z" fill="#6a737b"/>
<path d="M193 394.2 L206 397.7 L198 400.2 L193 400.2Z" fill="#4e6e88"/>
<path d="M144.8 391.7 L187 391.3 L187 393.9 L144.8 393.5Z" fill="#5d6166" stroke="#25282c" stroke-width="0.3" stroke-linejoin="round"/>
<path d="M193 381 L208.5 381 L208.5 386.4 L193 386.4Z" fill="#2c3035"/>
<path d="M195.5 382.4 L197.5 382.4 L197.5 385 L195.5 385Z" fill="#d0d5d8"/>
<path d="M199.5 382.4 L201.5 382.4 L201.5 385 L199.5 385Z" fill="#d0d5d8"/>
<path d="M203.5 382.4 L205.5 382.4 L205.5 385 L203.5 385Z" fill="#d0d5d8"/>
<path d="M199 378.6 L202.6 378.6 L202.6 381.2 L199 381.2Z" fill="#2c3035"/>
<path d="M232 389 L290 389 L290 400.2 L232 400.2Z" fill="#36414e" stroke="#15171a" stroke-width="0.4" stroke-linejoin="round"/>
<path d="M240 389.4 L240 386 L243 383.2 L258 382.8 L260 385 L260 389.4Z" fill="#4b5561" stroke="#15171a" stroke-width="0.5" stroke-linejoin="round"/>
<path d="M243 384.2 L254 383.6 L248 389 L242 389Z" fill="#c5d0d6"/>
<path d="M226.4 384.6 L241 384.2 L241 386.2 L226.4 385.8Z" fill="#5d6166" stroke="#25282c" stroke-width="0.3" stroke-linejoin="round"/>
<path d="M231.5 390 L235.5 390 L235.5 400 L231.5 400Z" fill="#23272c"/>
<path d="M228.4 392.4 L230.4 392.4 L230.4 400 L228.4 400Z" fill="#23272c"/>
<path d="M240 391 L262 391 L256 399.6 L238 399.6Z" fill="#6a7f94" opacity="0.8"/>
<path d="M244 391 L252 391 L246 399.6 L240 399.6Z" fill="#2a323c"/>
<path d="M266 392.6 L269 392.6 L269 397 L266 397Z" fill="#8a9aa8" opacity="0.6"/>
<path d="M271 392.6 L274 392.6 L274 397 L271 397Z" fill="#8a9aa8" opacity="0.6"/>
<path d="M276 392.6 L279 392.6 L279 397 L276 397Z" fill="#8a9aa8" opacity="0.6"/>
<path d="M281 392.6 L284 392.6 L284 397 L281 397Z" fill="#8a9aa8" opacity="0.6"/>
<path d="M260 378.8 L287.2 378.8 L287.2 389.8 L260 389.8Z" fill="#4a5866" stroke="#15171a" stroke-width="0.5" stroke-linejoin="round"/>
<path d="M260.4 379.2 L286.8 379.2 L286.8 380.4 L260.4 380.4Z" fill="#8a98a4"/>
<path d="M272.4 380.4 L273.6 380.4 L273.6 389.4 L272.4 389.4Z" fill="#3b4754"/>
<path d="M262 382 L271 382 L271 388 L262 388Z" fill="#5d6c7a"/>
<path d="M275 382 L285 382 L285 388 L275 388Z" fill="#5d6c7a"/>
<path d="M260.2 383 L261.8 383 L261.8 387.6 L260.2 387.6Z" fill="#eef0f1"/>
<path d="M277.3 366.2 L286.3 366.2 L286.3 379 L277.3 379Z" fill="#22262a"/>
<path d="M279.4 368 L281.2 368 L281.2 371.4 L279.4 371.4Z" fill="#d5dade"/>
<path d="M282.8 368 L284.6 368 L284.6 371.4 L282.8 371.4Z" fill="#d5dade"/>
<path d="M279.6 373.6 L284.6 373.6 L284.6 375.6 L279.6 375.6Z" fill="#e8ebed"/>
<path d="M266.4 374.6 L275.2 374.6 L275.2 379 L266.4 379Z" fill="#2a2f34"/>
<path d="M267.6 375.4 L269.6 375.4 L269.6 377.8 L267.6 377.8Z" fill="#d5dade"/>
<path d="M271.4 375.4 L273.4 375.4 L273.4 377.8 L271.4 377.8Z" fill="#d5dade"/>
<path d="M287.2 381 L296 379 L307 377 L307 400.2 L287.2 400.2Z" fill="#2c333b"/>
<path d="M288.6 384.8 L289.9 384.8 L289.9 389.6 L288.6 389.6Z" fill="#eef0f1"/>
<path d="M291.6 384.8 L292.9 384.8 L292.9 389.6 L291.6 389.6Z" fill="#eef0f1"/>
<path d="M288.6 386.6 L292.9 386.6 L292.9 387.7 L288.6 387.7Z" fill="#eef0f1"/>
<path d="M294 384.8 L295.2 384.8 L295.2 389.6 L294 389.6Z" fill="#eef0f1"/>
<path d="M297.2 384.8 L298.4 384.8 L298.4 389.6 L297.2 389.6Z" fill="#eef0f1"/>
<path d="M294 384.8 L295.2 384.8 L298.4 389.6 L297.2 389.6Z" fill="#eef0f1"/>
<path d="M286.4 400 L288 394 L292 392.4 L302 392.4 L303.4 400Z" fill="#c8cfd5" stroke="#15171a" stroke-width="0.5" stroke-linejoin="round"/>
<path d="M290 398 L292 394.6 L300 394.6 L301 398Z" fill="#8a949c"/>
<path d="M297 381 L303 392" fill="none" stroke="#15171a" stroke-width="0.7"/>
<path d="M301 378.6 L306 390" fill="none" stroke="#15171a" stroke-width="0.7"/>
<path d="M298.6 380.4 L300.6 380.4 L300.6 382.4 L298.6 382.4Z" fill="#dfe3e6"/>
<path d="M303.9 300 L306.5 300 L307 375 L303.4 375Z" fill="#8b9298" stroke="#30343a" stroke-width="0.35" stroke-linejoin="round"/>
<path d="M305 258 L305 300" fill="none" stroke="#3c4046" stroke-width="1.0"/>
<path d="M281 279 L305 297.5" fill="none" stroke="#30343a" stroke-width="0.7"/>
<path d="M302 311.4 L307.4 311.4 L307.4 316.8 L302 316.8Z" fill="#b4bbc0" stroke="#30343a" stroke-width="0.4" stroke-linejoin="round"/>
<path d="M301.4 338 L303.6 338 L303.6 343 L301.4 343Z" fill="#5a6168"/>
<path d="M300.6 372 L309.6 372 L309.6 378 L300.6 378Z" fill="#4a5158"/>
<path d="M307.1 379.7 L343.7 379.7 L343.7 400.2 L307.1 400.2Z" fill="#d5dadd" stroke="#15171a" stroke-width="0.5" stroke-linejoin="round"/>
<path d="M313.3 379.7 L331.3 379.7 L321.8 391.5 L320.4 400.2 L310.4 400.2 L310.4 390.6Z" fill="#7a8a98"/>
<path d="M331.3 379.7 L336 379.7 L326 400.2 L320.4 400.2 L321.8 391.5Z" fill="#9aa6b0" opacity="0.7"/>
<circle cx="318" cy="383" r="0.55" fill="#3a4450"/>
<circle cx="324" cy="383" r="0.55" fill="#3a4450"/>
<circle cx="316" cy="389" r="0.55" fill="#3a4450"/>
<circle cx="321" cy="388.6" r="0.55" fill="#3a4450"/>
<path d="M312 394.6 L317 394.6 L317 400.2 L312 400.2Z" fill="#5a6670"/>
<path d="M309 377.6 L309 358.3 L311.4 355.4 L339.4 351.6 L344.6 362 L345.2 379.6 L309 379.6Z" fill="#1e2226"/>
<path d="M311.9 359.2 L321.4 358.4 L317 371.6 L311.9 371.6Z" fill="#c8ced2"/>
<path d="M321.4 358.4 L328.5 357.6 L323.7 371.6 L317 371.6Z" fill="#8a9298"/>
<path d="M311.9 371.6 L331.3 371.6 L331.3 376.8 L311.9 376.8Z" fill="#6a7a88"/>
<path d="M316 372.6 L324 370.4 L330 372.4 L330 374 L316 374.6Z" fill="#4a5865"/>
<path d="M335.1 368.6 L335.1 364 L339.9 359.2 L344.2 364 L344.2 368.6Z" fill="#e2e5e7" stroke="#111315" stroke-width="1.0" stroke-linejoin="round"/>
<path d="M334.7 376.3 L334.7 372.4 L336.6 370.2 L342.4 370.2 L344.2 372.4 L344.2 376.3Z" fill="#dadee0" stroke="#111315" stroke-width="1.0" stroke-linejoin="round"/>
<path d="M336 376.3 L343.4 376.3 L343.4 388.7 L339.8 392 L336 388.7Z" fill="#c3c8cb" stroke="#111315" stroke-width="0.9" stroke-linejoin="round"/>
<path d="M338.6 371.4 L340.6 371.4 L340.6 388.4 L338.6 388.4Z" fill="#f2f3f4"/>
<path d="M330 354.5 L341.8 352.7 L349.4 352.6 L388.8 376.3" fill="none" stroke="#4a4e52" stroke-width="2.4"/>
<path d="M330 354.5 L341.8 352.7 L349.4 352.6 L388.8 376.3" fill="none" stroke="#d0d4d7" stroke-width="1.5"/>
<path d="M344 376 L385 376 L385 380.2 L344 380.2Z" fill="#101214"/>
<path d="M349 377.6 L350.4 377.6 L350.4 378.6 L349 378.6Z" fill="#dfe3e5"/>
<path d="M353 377.6 L354.4 377.6 L354.4 378.6 L353 378.6Z" fill="#dfe3e5"/>
<path d="M357 377.6 L358.4 377.6 L358.4 378.6 L357 378.6Z" fill="#dfe3e5"/>
<path d="M361 377.6 L362.4 377.6 L362.4 378.6 L361 378.6Z" fill="#dfe3e5"/>
<path d="M366 377.6 L367.4 377.6 L367.4 378.6 L366 378.6Z" fill="#dfe3e5"/>
<path d="M371 377.6 L372.4 377.6 L372.4 378.6 L371 378.6Z" fill="#dfe3e5"/>
<path d="M376 377.6 L377.4 377.6 L377.4 378.6 L376 378.6Z" fill="#dfe3e5"/>
<path d="M349.4 372.6 L352 374 L366 374 L368.4 372.6 L366.6 376.2 L351.4 376.2Z" fill="#2a2e32"/>
<path d="M373 374.4 L384 374.4 L384 376.2 L373 376.2Z" fill="#2d3237"/>
<path d="M344.3 380.2 L384 380.2 L384 400.9 L366 400.9 L362 399.6 L344.3 400.9Z" fill="#ffffff"/>
<path d="M384 378.7 L427.3 378.7 L427.3 400.2 L384 400.2Z" fill="#d0d4d6" stroke="#15171a" stroke-width="0.5" stroke-linejoin="round"/>
<path d="M384 378.7 L427.3 378.7 L427.3 385.5 L384 385.5Z" fill="#909498"/>
<path d="M384 378.7 L390 378.7 L390 400.2 L384 400.2Z" fill="#a4a9ad"/>
<path d="M406.5 378.7 L406.5 400" fill="none" stroke="#4a4e52" stroke-width="0.5"/>
<path d="M384 377.4 L427.3 377.4 L427.3 378.9 L384 378.9Z" fill="#15171a"/>
<path d="M389.6 378 L394.2 378 L394.2 400 L389.6 400Z" fill="#e0e3e5" stroke="#15171a" stroke-width="0.6" stroke-linejoin="round"/>
<path d="M388.6 371.4 L394.8 371.4 L394.8 379.4 L388.6 379.4Z" fill="#1d2024"/>
<path d="M390.6 372.6 L392.6 372.6 L392.6 377.6 L390.6 377.6Z" fill="#dfe3e5"/>
<path d="M396.6 374.2 L425.5 373.6 L423 377.6 L399 377.6Z" fill="#c0c6ca" stroke="#15171a" stroke-width="0.7" stroke-linejoin="round"/>
<path d="M398 375.6 L424.4 375.2 L423 377.6 L399 377.6Z" fill="#2a2e32"/>
<path d="M414 374.4 L415.4 374.4 L415.4 375.8 L414 375.8Z" fill="#e8eaec"/>
<path d="M417 374.4 L418.4 374.4 L418.4 375.8 L417 375.8Z" fill="#e8eaec"/>
<path d="M420 374.4 L421.4 374.4 L421.4 375.8 L420 375.8Z" fill="#e8eaec"/>
<path d="M409.7 366 L419.3 366 L419.3 373.4 L409.7 373.4Z" fill="#5a5e62" stroke="#15171a" stroke-width="0.4" stroke-linejoin="round"/>
<path d="M408.8 371 L413.8 371 L413.8 373.8 L408.8 373.8Z" fill="#8a1a1c"/>
<path d="M410 357 L417.3 356.6 L417.3 362.6 L410 362.6Z" fill="#1d2024"/>
<path d="M412 358 L414 358 L414 360 L412 360Z" fill="#e3e6e8"/>
<path d="M414 362.6 L414 366" fill="none" stroke="#1d2024" stroke-width="1"/>
<path d="M419.1 351.7 L447.5 347.2 L451.6 355.3 L451.6 377 L418.6 377Z" fill="#666c72" stroke="#15171a" stroke-width="0.6" stroke-linejoin="round"/>
<path d="M419.6 354 L427 352.6 L430 377 L419 377Z" fill="#8a9096"/>
<path d="M444 349 L447.5 347.2 L451.6 355.3 L451.6 377 L445 377Z" fill="#4a5056"/>
<path d="M419.1 351.7 L447.5 347.2 L450 352.4 L420 356.4Z" fill="#2a2d31"/>
<path d="M420 356.4 L450 352.4 L451 354.8 L420.4 358.8Z" fill="#40454a"/>
<path d="M428 361 L451 360.4" fill="none" stroke="#454a50" stroke-width="0.4"/>
<path d="M428 366 L451 365.4" fill="none" stroke="#454a50" stroke-width="0.4"/>
<path d="M428 371 L451 370.4" fill="none" stroke="#454a50" stroke-width="0.4"/>
<path d="M426.8 377 L453.8 377 L453.8 400.2 L426.8 400.2Z" fill="#46505c" stroke="#15171a" stroke-width="0.4" stroke-linejoin="round"/>
<circle cx="444" cy="380" r="0.55" fill="#2a3038"/>
<circle cx="447.6" cy="380" r="0.55" fill="#2a3038"/>
<circle cx="451.2" cy="380" r="0.55" fill="#2a3038"/>
<circle cx="445" cy="386" r="0.55" fill="#2a3038"/>
<circle cx="451" cy="386" r="0.55" fill="#2a3038"/>
<path d="M446 388 L453.8 388 L453.8 400.2 L440 400.2Z" fill="#5d6a76"/>
<path d="M427.3 400.2 L427.3 392 L442 392 L442 400.2Z" fill="#9a9ea2" stroke="#15171a" stroke-width="0.5" stroke-linejoin="round"/>
<path d="M427.3 392 L427.6 388.6 L430 386.8 L439.4 386.8 L441.8 388.6 L442 392Z" fill="#e6e8ea" stroke="#15171a" stroke-width="0.5" stroke-linejoin="round"/>
<path d="M431 393 L436 393 L436 399.6 L431 399.6Z" fill="#c8ccce" opacity="0.7"/>
<path d="M442 386 L446 393" fill="none" stroke="#e6e8ea" stroke-width="0.9"/>
<circle cx="434" cy="366.1" r="5.8" fill="#5a6068" stroke="#15171a" stroke-width="1.5"/>
<path d="M430 370.8 L432.8 370.8 L438 381.4 L430 381.4Z" fill="#e8eaec" stroke="#15171a" stroke-width="0.6" stroke-linejoin="round"/>
<path d="M446.6 308 L459.6 352.4" fill="none" stroke="#2c3035" stroke-width="0.7"/>
<path d="M459.6 352.4 L463 354" fill="none" stroke="#2c3035" stroke-width="0.7"/>
<path d="M453 377 L461.4 377 L461.4 400.2 L453 400.2Z" fill="#4a5664"/>
<path d="M449.5 383 L461 383 L461 391.5 L449.5 391.5Z" fill="#2e3640"/>
<path d="M461 377 L475 377 L475 393.4 L461 393.4Z" fill="#d5dce2"/>
<path d="M475 377 L488 377 L488 393.4 L475 393.4Z" fill="#7d8fa0"/>
<path d="M488 377 L498 377 L496.4 393.4 L488 393.4Z" fill="#d8dfe4"/>
<path d="M490 393.4 L494 384 L497 384 L496.4 393.4Z" fill="#dfe5e9"/>
<path d="M496.4 393.4 L498 384 L513.3 381 L513.3 393.4Z" fill="#7c848c"/>
<circle cx="456" cy="380" r="0.6" fill="#3a4654"/>
<circle cx="459" cy="380" r="0.6" fill="#3a4654"/>
<circle cx="464" cy="380.4" r="0.6" fill="#3a4654"/>
<circle cx="468" cy="380.4" r="0.6" fill="#3a4654"/>
<circle cx="472" cy="380.4" r="0.6" fill="#3a4654"/>
<circle cx="465" cy="387" r="0.6" fill="#3a4654"/>
<circle cx="471" cy="387" r="0.6" fill="#3a4654"/>
<circle cx="478" cy="380.4" r="0.6" fill="#3a4654"/>
<circle cx="484" cy="380.4" r="0.6" fill="#3a4654"/>
<circle cx="478" cy="387.6" r="0.6" fill="#3a4654"/>
<circle cx="484" cy="387.6" r="0.6" fill="#3a4654"/>
<circle cx="492" cy="380.6" r="0.6" fill="#3a4654"/>
<path d="M453 393.4 L467 393.4 L467 400.2 L453 400.2Z" fill="#4a5560"/>
<path d="M453 376.4 L513 376.4 L513 377.4 L453 377.4Z" fill="#15171a"/>
<path d="M463.4 354 L483.2 354 L483.2 377 L463.4 377Z" fill="#4a6070" stroke="#15171a" stroke-width="0.5" stroke-linejoin="round"/>
<path d="M472 357 L482 357 L482 368 L473 366Z" fill="#3d5060"/>
<path d="M463.4 368.6 L483.2 368.6 L483.2 377 L463.4 377Z" fill="#303840"/>
<path d="M466 370 L480 370 L480 373 L466 373Z" fill="#aeb8c0"/>
<path d="M465.2 356 L471.4 356 L471.4 366 L465.2 366Z" fill="#dfe3e6" stroke="#15171a" stroke-width="0.4" stroke-linejoin="round"/>
<path d="M467 358 L468.6 358 L468.6 364 L467 364Z" fill="#6a7680"/>
<path d="M463.2 331 L482.6 331 L482.6 353.4 L463.2 353.4Z" fill="#3f4c58" stroke="#15171a" stroke-width="0.5" stroke-linejoin="round"/>
<path d="M482 346 L489 346 L489 353.4 L482 353.4Z" fill="#3f4c58" stroke="#15171a" stroke-width="0.4" stroke-linejoin="round"/>
<path d="M466 339.4 L476 339.4 L476 341.8 L466 341.8Z" fill="#8b98a3"/>
<path d="M467 345 L478 345 L478 349.4 L467 349.4Z" fill="#8e9aa6"/>
<path d="M468.4 346 L476.4 346 L476.4 348.2 L468.4 348.2Z" fill="#3f4c58"/>
<path d="M466.6 334.4 L471.2 334.4 L471.2 336.8 L466.6 336.8Z" fill="#d6dbde"/>
<path d="M456.6 352.8 L490.6 352.8 L490.6 355 L456.6 355Z" fill="#23272b"/>
<path d="M457 333.4 L485 333.4 L485 336.8 L457 336.8Z" fill="#23272b"/>
<path d="M460.6 334 L462.8 334 L462.8 336.2 L460.6 336.2Z" fill="#dfe3e6"/>
<path d="M466.5 331 L463.9 320.6 L474.9 320.6 L472.5 331Z" fill="#2c3136"/>
<path d="M465.6 322 L469.4 329.6 L473.2 322Z" fill="#cfd4d8"/>
<circle cx="469.4" cy="324.4" r="1.6" fill="#2c3136"/>
<circle cx="469.6" cy="328.6" r="1.5" fill="#e6e9eb"/>
<path d="M469.3 314 L469.3 321" fill="none" stroke="#23272b" stroke-width="0.9"/>
<path d="M478.7 319 L478.7 326" fill="none" stroke="#23272b" stroke-width="0.6"/>
<path d="M474.9 321.4 L478.7 320.4" fill="none" stroke="#23272b" stroke-width="0.5"/>
<path d="M485 337 L492.4 335.7 L493.2 346 L486 346Z" fill="#39424b" stroke="#15171a" stroke-width="0.4" stroke-linejoin="round"/>
<circle cx="489.4" cy="339.4" r="2.2" fill="#e3e7ea"/>
<path d="M486 342 L489 342 L489 345 L486 345Z" fill="#e3e7ea"/>
<path d="M483.6 358.6 L508 358 L514.3 362 L514.3 381 L498 384 L483.6 377.4Z" fill="#3a4650" stroke="#15171a" stroke-width="0.5" stroke-linejoin="round"/>
<path d="M485 360 L507 359.4 L513 363 L513 368 L485 368Z" fill="#5c6a74"/>
<path d="M484 369.4 L512 369.4 L512 370.8 L484 370.8Z" fill="#2b3036"/>
<path d="M487 372 L488.2 372 L488.2 377 L487 377Z" fill="#d6dbde"/>
<path d="M491 372 L492.2 372 L492.2 377 L491 377Z" fill="#d6dbde"/>
<path d="M495 372 L496.2 372 L496.2 377 L495 377Z" fill="#d6dbde"/>
<path d="M499 372 L500.2 372 L500.2 377 L499 377Z" fill="#d6dbde"/>
<path d="M503 372 L504.2 372 L504.2 377 L503 377Z" fill="#d6dbde"/>
<path d="M507 372 L508.2 372 L508.2 377 L507 377Z" fill="#d6dbde"/>
<path d="M467 393.2 L568.5 393.2 L568.5 400.2 L467 400.2Z" fill="#1d2126"/>
<ellipse cx="471.3" cy="396.5" rx="1.3" ry="1.9" fill="#e8ebed"/>
<ellipse cx="475.3" cy="396.5" rx="1.3" ry="1.9" fill="#e8ebed"/>
<ellipse cx="479.3" cy="396.5" rx="1.3" ry="1.9" fill="#e8ebed"/>
<ellipse cx="483.3" cy="396.5" rx="1.3" ry="1.9" fill="#e8ebed"/>
<ellipse cx="487.3" cy="396.5" rx="1.3" ry="1.9" fill="#e8ebed"/>
<ellipse cx="491.3" cy="396.5" rx="1.3" ry="1.9" fill="#e8ebed"/>
<ellipse cx="495.3" cy="396.5" rx="1.3" ry="1.9" fill="#e8ebed"/>
<ellipse cx="499.3" cy="396.5" rx="1.3" ry="1.9" fill="#e8ebed"/>
<path d="M502 395 L504.4 395 L504.4 398.2 L502 398.2Z" fill="#8a949c" opacity="0.7"/>
<path d="M506 395 L508.4 395 L508.4 398.2 L506 398.2Z" fill="#8a949c" opacity="0.7"/>
<path d="M510 395 L512.4 395 L512.4 398.2 L510 398.2Z" fill="#8a949c" opacity="0.7"/>
<ellipse cx="515.3" cy="396.5" rx="1.3" ry="1.9" fill="#e8ebed"/>
<ellipse cx="519.3" cy="396.5" rx="1.3" ry="1.9" fill="#e8ebed"/>
<ellipse cx="523.3" cy="396.5" rx="1.3" ry="1.9" fill="#e8ebed"/>
<ellipse cx="527.3" cy="396.5" rx="1.3" ry="1.9" fill="#e8ebed"/>
<ellipse cx="531.3" cy="396.5" rx="1.3" ry="1.9" fill="#e8ebed"/>
<ellipse cx="535.3" cy="396.5" rx="1.3" ry="1.9" fill="#e8ebed"/>
<ellipse cx="539.3" cy="396.5" rx="1.3" ry="1.9" fill="#e8ebed"/>
<ellipse cx="543.3" cy="396.5" rx="1.3" ry="1.9" fill="#e8ebed"/>
<path d="M546 395 L548.4 395 L548.4 398.2 L546 398.2Z" fill="#8a949c" opacity="0.7"/>
<path d="M550 395 L552.4 395 L552.4 398.2 L550 398.2Z" fill="#8a949c" opacity="0.7"/>
<path d="M554 395 L556.4 395 L556.4 398.2 L554 398.2Z" fill="#8a949c" opacity="0.7"/>
<path d="M558 395 L560.4 395 L560.4 398.2 L558 398.2Z" fill="#8a949c" opacity="0.7"/>
<path d="M562 395 L564.4 395 L564.4 398.2 L562 398.2Z" fill="#8a949c" opacity="0.7"/>
<path d="M516 392 L516 384 L516.6 376 L522 373.2 L552 373.2 L559.5 379 L559.5 392Z" fill="#5a6672" stroke="#15171a" stroke-width="0.6" stroke-linejoin="round"/>
<path d="M516.6 376 L522 373.2 L540 373.2 L548 379 L530 379 L524 384 L516 384Z" fill="#3a424c"/>
<path d="M530 379 L552 379 L556 384 L526 384Z" fill="#c0ccd4"/>
<path d="M541 373.2 L552 373.2 L559.5 379 L559.5 392 L556 392Z" fill="#4c545c"/>
<path d="M518 385 L558 385 L559 392 L517 392Z" fill="#8a9298"/>
<path d="M528 385.6 L548 385.6 L549 388.4 L527 388.4Z" fill="#b5bcc2" opacity="0.7"/>
<path d="M525 374 L531.5 374 L531.5 377.5 L525 377.5Z" fill="#eef1f3" stroke="#15171a" stroke-width="0.4" stroke-linejoin="round"/>
<path d="M534 373.2 L535 369.6 L539 367.6 L546 367.6 L550.5 371 L550.5 373.2Z" fill="#2a3038"/>
<path d="M538 372.6 L539.6 369 L545 369 L545 372.6Z" fill="#6a7a88"/>
<path d="M541 365.8 L545 365.8 L545 367.8 L541 367.8Z" fill="#2a3038"/>
<path d="M559 378.4 L598.5 379.2 L598.5 380.9 L559 381.6Z" fill="#5a6066" stroke="#25282c" stroke-width="0.3" stroke-linejoin="round"/>
<path d="M515 384 L526.5 384 L526.5 389 L515 389Z" fill="#f2f4f5" stroke="#15171a" stroke-width="0.3" stroke-linejoin="round"/>
<path d="M573.5 399.4 L573.5 389 L577 384.8 L583 383.5 L610 383.5 L617.2 387 L617.2 399.4Z" fill="#8a9aa6" stroke="#15171a" stroke-width="0.6" stroke-linejoin="round"/>
<path d="M573.5 389 L577 384.8 L583 383.5 L586 383.5 L585 399.4 L573.5 399.4Z" fill="#4a5560"/>
<path d="M604 383.5 L610 383.5 L617.2 387 L617.2 399.4 L604 399.4Z" fill="#6f7d88"/>
<path d="M577 383.2 L611 383.2 L611 384.3 L577 384.3Z" fill="#343a42"/>
<path d="M586 390 L604 390 L604 395.6 L586 395.6Z" fill="#a9b6c0" opacity="0.8"/>
<path d="M582.5 384.4 L588.5 384.4 L588.5 387.2 L582.5 387.2Z" fill="#dfe6ec" stroke="#15171a" stroke-width="0.4" stroke-linejoin="round"/>
<path d="M584 385 L586.4 385 L586.4 386.6 L584 386.6Z" fill="#6a7fa0"/>
<path d="M615 389.8 L655.6 390.2 L655.6 391.8 L615 392.4Z" fill="#5d6166" stroke="#25282c" stroke-width="0.3" stroke-linejoin="round"/>
<path d="M562 392 L573.6 392 L573.6 400.2 L562 400.2Z" fill="#262a30"/>
<path d="M571.5 394.5 L583.5 394.5 L583.5 399.9 L571.5 399.9Z" fill="#f2f4f5" stroke="#15171a" stroke-width="0.3" stroke-linejoin="round"/>
<path d="M563.4 392.6 L564.6 392.6 L564.6 396 L563.4 396Z" fill="#e0e3e5"/>
<path d="M566 392.6 L567.2 392.6 L567.2 396 L566 396Z" fill="#e0e3e5"/>
<path d="M568.6 392.6 L569.8 392.6 L569.8 396 L568.6 396Z" fill="#e0e3e5"/>
<path d="M94 423 L800.9 423 L801.5 427 L800.3 435 L800 446.7 L118 446.7 L112 445 L107 441.5 L104 438 L96 438 L95 430Z" fill="url(#redTop)"/>
<path d="M94 423 L800.9 423 L801.5 427 L800.3 435 L800 446.7 L118 446.7 L112 445 L107 441.5 L104 438 L96 438 L95 430Z" fill="url(#shadeV)"/>
<g mask="url(#mMidT)"><path d="M94 423 L800.9 423 L801.5 427 L800.3 435 L800 446.7 L118 446.7 L112 445 L107 441.5 L104 438 L96 438 L95 430Z" fill="url(#shadeMid)"/></g>
<path d="M94 423 L290 423 L290 446.7 L118 446.7 L112 445 L107 441.5 L104 438 L96 438 L95 430Z" fill="url(#sternDark)"/>
<path d="M118 431.5 L121 428.6 L128 428 L150 430 L185 434 L215 438.5 L170 438.5 L130 437.5 L120 435.5Z" fill="#e2431b"/><path d="M122 430.5 L128 429.6 L160 432.5 L200 437 L160 435.2 L126 433.5Z" fill="#f2602a" opacity="0.8"/>
<path d="M36.2 399.6 L100 399.6 L300 400.2 L560 400.2 L600 400 L636 399.5 L665 396.6 L692 394.2 L740 394 L790 392.4 L829 390.8 L826 394.2 L818 401 L812 407.2 L807 414 L804.2 419.3 L60 419.3 L44 421.5 L39 417.5 L36 412 L35.4 406Z" fill="#8e9398"/>
<path d="M36.2 399.6 L80.2 399.6 L88.4 419 L44 421.5 L39 417.5 L36 412 L35.4 406Z" fill="#43474b"/>
<path d="M80.2 399.6 L133.8 399.7 L163 419 L88.4 419Z" fill="#58626b"/>
<path d="M133.8 399.7 L202 399.9 L228 419 L163 419Z" fill="#8e9398"/>
<path d="M202 399.9 L280 400.2 L301 417.2 L300 419 L228 419Z" fill="#676b74"/>
<path d="M226 413.4 L298 413.4 L301 417.2 L300.5 419 L228 419Z" fill="#aab3ba"/>
<path d="M264 400.2 L272.5 400.2 L265 414.5Z" fill="#74808a"/>
<path d="M280 400.2 L307 400.2 L301 417.2Z" fill="#c2c9ce"/>
<path d="M307 400.2 L323 400.2 L301 417.2Z" fill="#aab3ba"/>
<path d="M323 400.2 L346 400.2 L301 417.2Z" fill="#c2c9ce"/>
<path d="M346 400.2 L392 400.2 L316 419 L301 417.2Z" fill="#676b74"/>
<path d="M392 400.2 L412 400.2 L396 419 L316 419 L301 417.2Z" fill="#c2c9ce"/>
<path d="M330 413.8 L400.5 413.8 L396 419 L312 419Z" fill="#aab3ba"/>
<path d="M412 400.2 L429 400.2 L461 417.2 L462 419 L396 419Z" fill="#676b74"/>
<path d="M429 400.2 L452 400.2 L461 417.2Z" fill="#c2c9ce"/>
<path d="M452 400.2 L470 400.2 L477 419 L462 419 L461 417.2Z" fill="#676b74"/>
<path d="M470 400.2 L483 400.2 L477 419Z" fill="#aab3ba"/>
<path d="M483 400.2 L538 400.2 L568 417.4 L568 419 L477 419Z" fill="#c2c9ce"/>
<path d="M538 400.2 L558 400.2 L570 417.6 L568 417.4Z" fill="#676b74"/>
<path d="M558 400.2 L580 400.2 L572 419 L568 419 L570 417.6Z" fill="#74808a"/>
<path d="M580 400.2 L605 400 L605 419 L572 419Z" fill="#74808a"/>
<path d="M605 400 L634.5 399.5 L634.5 419.3 L605 419Z" fill="#8b9497"/>
<path d="M634.5 399.5 L636 399.5 L665 396.6 L692 394.2 L739 394 L729.4 420 L634.5 419.3Z" fill="#58626b"/>
<path d="M636 399.5 L692 394.2 L650 407.2Z" fill="#7b858c"/>
<path d="M739 394 L790 392.4 L829 390.8 L826 394.2 L818 401 L812 407.2 L807 414 L804.2 419.6 L729.4 420Z" fill="#8e9398"/>
<path d="M36 411 L804 411 L804 419.3 L40 419.3Z" fill="#000" opacity="0.07"/>
<path d="M56 404.6 L73 404.6 L73 405.5 L56 405.5Z" fill="#2a2d31"/>
<path d="M58 407.4 L71 407.4 L71 408.1 L58 408.1Z" fill="#2a2d31"/>
<path d="M66 409.4 L80 409.4 L80 411.4 L66 411.4Z" fill="none" stroke="#2a2d31" stroke-width="0.4" stroke-linejoin="round"/>
<path d="M52 417.6 L200 418.3 L600 419.1 L804.4 419.6 L802.3 423.4 L600 422.8 L200 421.6 L112 423 L94 426.5 L60 427 L47 424 L40 418.5Z" fill="#17191b"/>
<path d="M36.2 399.6 L100 399.6 L300 400.2 L560 400.2 L600 400 L636 399.5 L665 396.6 L692 394.2 L740 394 L790 392.4 L829 390.8 L826 394.2 L818 401 L812 407.2 L807 414 L803.5 420.5 L801.5 427 L800.3 435 L800 445.8" fill="none" stroke="#1c1e20" stroke-width="0.7"/>
<path d="M52 424 L44 421.5 L39 417.5 L36 412 L35.4 406 L36.2 399.6" fill="none" stroke="#1c1e20" stroke-width="0.7"/>
<circle cx="100" cy="407.1" r="0.55" fill="#23262a"/>
<circle cx="114" cy="407.142" r="0.55" fill="#23262a"/>
<circle cx="128" cy="407.184" r="0.55" fill="#23262a"/>
<circle cx="142" cy="407.226" r="0.55" fill="#23262a"/>
<circle cx="156" cy="407.268" r="0.55" fill="#23262a"/>
<circle cx="170" cy="407.31" r="0.55" fill="#23262a"/>
<circle cx="184" cy="407.352" r="0.55" fill="#23262a"/>
<circle cx="198" cy="407.394" r="0.55" fill="#23262a"/>
<circle cx="212" cy="407.436" r="0.55" fill="#23262a"/>
<circle cx="226" cy="407.478" r="0.55" fill="#23262a"/>
<circle cx="240" cy="407.52" r="0.55" fill="#23262a"/>
<circle cx="254" cy="407.562" r="0.55" fill="#23262a"/>
<circle cx="268" cy="407.604" r="0.55" fill="#23262a"/>
<circle cx="282" cy="407.646" r="0.55" fill="#23262a"/>
<circle cx="296" cy="407.688" r="0.55" fill="#23262a"/>
<circle cx="310" cy="407.7" r="0.55" fill="#23262a"/>
<circle cx="324" cy="407.7" r="0.55" fill="#23262a"/>
<circle cx="604" cy="407.444" r="0.55" fill="#23262a"/>
<circle cx="618" cy="407.25" r="0.55" fill="#23262a"/>
<circle cx="632" cy="407.056" r="0.55" fill="#23262a"/>
<circle cx="646" cy="404.9" r="0.55" fill="#23262a"/>
<circle cx="652" cy="410.5" r="0.55" fill="#23262a"/>
<circle cx="660" cy="403.5" r="0.55" fill="#23262a"/>
<circle cx="666" cy="409.111" r="0.55" fill="#23262a"/>
<circle cx="674" cy="402.2" r="0.55" fill="#23262a"/>
<circle cx="680" cy="407.867" r="0.55" fill="#23262a"/>
<circle cx="688" cy="400.956" r="0.55" fill="#23262a"/>
<circle cx="694" cy="406.792" r="0.55" fill="#23262a"/>
<circle cx="702" cy="400.558" r="0.55" fill="#23262a"/>
<circle cx="708" cy="406.733" r="0.55" fill="#23262a"/>
<circle cx="716" cy="400.5" r="0.55" fill="#23262a"/>
<circle cx="722" cy="406.675" r="0.55" fill="#23262a"/>
<circle cx="730" cy="400.442" r="0.55" fill="#23262a"/>
<circle cx="736" cy="406.617" r="0.55" fill="#23262a"/>
<circle cx="744" cy="400.272" r="0.55" fill="#23262a"/>
<circle cx="750" cy="406.28" r="0.55" fill="#23262a"/>
<circle cx="758" cy="399.824" r="0.55" fill="#23262a"/>
<circle cx="764" cy="405.832" r="0.55" fill="#23262a"/>
<circle cx="772" cy="399.376" r="0.55" fill="#23262a"/>
<circle cx="778" cy="405.384" r="0.55" fill="#23262a"/>
<circle cx="786" cy="398.928" r="0.55" fill="#23262a"/>
<circle cx="792" cy="404.918" r="0.55" fill="#23262a"/>
<path d="M65 427 L80.5 427 L78.3 440.2 L67.5 440.2Z" fill="#c6381b" stroke="#5a1a10" stroke-width="0.5" stroke-linejoin="round"/>
<path d="M68 428 L73 428 L72 439.5 L69 439.5Z" fill="#e05a30" opacity="0.6"/>
<path d="M97 423.6 L108 423.6 L106.3 437 L99 437Z" fill="#c6381b" stroke="#5a1a10" stroke-width="0.5" stroke-linejoin="round"/>
<path d="M99.5 424.5 L103 424.5 L102.5 436.5 L100.5 436.5Z" fill="#e05a30" opacity="0.6"/>
<path d="M83 436.6 L111 436.6 L113 440.4 L88 440.4Z" fill="#1b1210"/>
<path d="M87.1 432.6 L88.7 436 L88.1 438 L86.5 435.5Z" fill="#d9c36a" stroke="#4a3c10" stroke-width="0.3" stroke-linejoin="round"/>
<path d="M86.9 443.6 L88.7 440.4 L88.1 438.6 L86.3 441Z" fill="#d9c36a" stroke="#4a3c10" stroke-width="0.3" stroke-linejoin="round"/>
<path d="M83 437.4 L87.5 437 L88.5 438.4 L83.5 439Z" fill="#e8d98a" stroke="#4a3c10" stroke-width="0.3" stroke-linejoin="round"/>
<path d="M116.8 432.6 L118.4 436 L117.8 438 L116.2 435.5Z" fill="#d9c36a" stroke="#4a3c10" stroke-width="0.3" stroke-linejoin="round"/>
<path d="M116.6 443.6 L118.4 440.4 L117.8 438.6 L116 441Z" fill="#d9c36a" stroke="#4a3c10" stroke-width="0.3" stroke-linejoin="round"/>
<path d="M112.7 437.4 L117.2 437 L118.2 438.4 L113.2 439Z" fill="#e8d98a" stroke="#4a3c10" stroke-width="0.3" stroke-linejoin="round"/>
<path d="M94 423.5 L94 430 L96 437" fill="none" stroke="#120808" stroke-width="1.2"/></g>
<g id="ship-deck"><path d="M26 533.8 L29.5 531.2 L36 528.6 L48 525.3 L66 521.2 L84 517.3 L85.5 518.6 L88 518.4 L89 516.2 L96 515 L128.5 509.4 L180 501.2 L220 496 L250 493 L275 490.6 L300 489.4 L340 488.8 L420 488.6 L500 488.8 L545 489.2 L580 490.4 L620 493.4 L665 497.6 L708 503.2 L752 510 L789.8 518.4 L800 520.6 L810 524 L818 528.6 L822.5 533.8 L818 539 L810 543.6 L800 547 L789.8 549.2 L752 557.6 L708 564.4 L665 570 L620 574.2 L580 577.2 L545 578.4 L500 578.8 L420 579 L340 578.8 L300 578.2 L275 577 L250 574.6 L220 571.6 L180 566.4 L128.5 558.2 L96 552.6 L89 551.4 L88 549.2 L85.5 549 L84 550.3 L66 546.4 L48 542.3 L36 539 L29.5 536.4Z" fill="#c19a68" stroke="#2a2622" stroke-width="0.8" stroke-linejoin="round"/>
<clipPath id="deckclip"><path d="M26 533.8 L29.5 531.2 L36 528.6 L48 525.3 L66 521.2 L84 517.3 L85.5 518.6 L88 518.4 L89 516.2 L96 515 L128.5 509.4 L180 501.2 L220 496 L250 493 L275 490.6 L300 489.4 L340 488.8 L420 488.6 L500 488.8 L545 489.2 L580 490.4 L620 493.4 L665 497.6 L708 503.2 L752 510 L789.8 518.4 L800 520.6 L810 524 L818 528.6 L822.5 533.8 L818 539 L810 543.6 L800 547 L789.8 549.2 L752 557.6 L708 564.4 L665 570 L620 574.2 L580 577.2 L545 578.4 L500 578.8 L420 579 L340 578.8 L300 578.2 L275 577 L250 574.6 L220 571.6 L180 566.4 L128.5 558.2 L96 552.6 L89 551.4 L88 549.2 L85.5 549 L84 550.3 L66 546.4 L48 542.3 L36 539 L29.5 536.4Z" fill="#000"/></clipPath>
<g clip-path="url(#deckclip)">
<rect x="20" y="484.3" width="810" height="99" fill="url(#planks)"/>
<rect x="20" y="500" width="28.4" height="70" fill="#b3b9bd"/>
<rect x="47.8" y="500" width="0.9" height="70" fill="#8a8f94"/>
<rect x="96" y="490" width="32.5" height="90" fill="#c4161c"/>
<rect x="752" y="490" width="37.8" height="90" fill="#c4161c"/>
</g>
<path d="M26 533.8 L29.5 531.2 L36 528.6 L48 525.3 L66 521.2 L84 517.3 L85.5 518.6 L88 518.4 L89 516.2 L96 515 L128.5 509.4 L180 501.2 L220 496 L250 493 L275 490.6 L300 489.4 L340 488.8 L420 488.6 L500 488.8 L545 489.2 L580 490.4 L620 493.4 L665 497.6 L708 503.2 L752 510 L789.8 518.4 L800 520.6 L810 524 L818 528.6 L822.5 533.8 L818 539 L810 543.6 L800 547 L789.8 549.2 L752 557.6 L708 564.4 L665 570 L620 574.2 L580 577.2 L545 578.4 L500 578.8 L420 579 L340 578.8 L300 578.2 L275 577 L250 574.6 L220 571.6 L180 566.4 L128.5 558.2 L96 552.6 L89 551.4 L88 549.2 L85.5 549 L84 550.3 L66 546.4 L48 542.3 L36 539 L29.5 536.4Z" fill="none" stroke="#2a2622" stroke-width="0.8" stroke-linejoin="round"/>
<circle cx="112" cy="533.8" r="15.2" fill="#eceff0"/>
<circle cx="771.2" cy="533.8" r="16.7" fill="#e6e9eb"/>
<path d="M112 531.2 L126 528.6 L126 539 L112 536.4Z" fill="#cfd4d7" stroke="#70757a" stroke-width="0.4" stroke-linejoin="round"/>
<path d="M104 524 L124 529 L124 530.4 L104 526Z" fill="#d9dde0" opacity="0.9"/>
<path d="M104 543.6 L124 538.6 L124 537.2 L104 541.6Z" fill="#d9dde0" opacity="0.9"/>
<path d="M106.4 531.6 h-3 v4.4 h3" fill="none" stroke="#2a2d30" stroke-width="0.9" stroke-linejoin="round"/>
<path d="M776.5 528 h3 a6 6 0 0 1 0 12 h-3" fill="none" stroke="#1d1f21" stroke-width="1.0" stroke-linejoin="round"/>
<path d="M777 531 L783.5 534 L777 537Z" fill="#1d1f21"/>
<path d="M778.2 532.8 L781 534 L778.2 535.2Z" fill="#e6e9eb"/>
<ellipse cx="773.2" cy="537.6" rx="1.6" ry="2.4" fill="#f4f5f6" stroke="#1d1f21" stroke-width="0.8"/>
<rect x="757.2" y="534.4" width="3.4" height="3.4" fill="#f4f5f6" stroke="#1d1f21" stroke-width="0.7"/>
<path d="M755 521.6 L762 522.4" fill="none" stroke="#2a2d30" stroke-width="0.8"/>
<path d="M755 546.4 L762 545.6" fill="none" stroke="#2a2d30" stroke-width="0.8"/>
<rect x="760" y="519.6" width="22" height="1.6" fill="#c9d3d8" opacity="0.8"/>
<rect x="760" y="546.4" width="18" height="1.2" fill="#d4d9dc" opacity="0.6"/>
<path d="M822 533.8 L829.6 533.8" fill="none" stroke="#222" stroke-width="0.8"/>
<path d="M820 531.8 L824 533.8 L820 535.8Z" fill="#222"/>
<path d="M800 521.6 L803.4 522.4 L802.2 526.4 L798.8 525.6Z" fill="#3e444a"/>
<path d="M800 546 L803.4 545.2 L802.2 541.2 L798.8 542Z" fill="#3e444a"/>
<rect x="805" y="538" width="7" height="2.6" fill="#9aa3aa" stroke="#33373b" stroke-width="0.5"/>
<ellipse cx="790.8" cy="536" rx="1.2" ry="1.8" fill="#6b7278"/>
<path d="M40 533.8 L52 533.8" fill="none" stroke="#5a5148" stroke-width="0.6"/>
<rect x="35" y="533" width="3" height="1.6" fill="#1d1f21" rx="0.8"/>
<circle cx="83" cy="531.4" r="1.1" fill="#e8ebec" stroke="#555" stroke-width="0.4"/>
<path d="M86 518.4 L93 516.2 L96 518.8 L90 520.8Z" fill="#cfd4d7" stroke="#2a2d30" stroke-width="0.5" stroke-linejoin="round"/>
<path d="M86 549.2 L93 551.4 L96 548.8 L90 546.8Z" fill="#cfd4d7" stroke="#2a2d30" stroke-width="0.5" stroke-linejoin="round"/>
<path d="M128.5 522.6 L146 522 L147.4 525.6 L146 529.2 L128.5 528.6Z" fill="#c9cdd0" stroke="#2a2d30" stroke-width="0.5" stroke-linejoin="round"/>
<circle cx="142.6" cy="525.6" r="2.6" fill="#6d7276" stroke="#2a2d30" stroke-width="0.5"/>
<rect x="130" y="524.6" width="8" height="2" fill="#eef0f1"/>
<ellipse cx="133" cy="510.4" rx="2.6" ry="1.2" fill="#e4e7e9" stroke="#2a2d30" stroke-width="0.5"/>
<ellipse cx="120" cy="512.8" rx="2.2" ry="1" fill="#e4e7e9" stroke="#2a2d30" stroke-width="0.5"/>
<path d="M128.5 539 L146 538.4 L147.4 542 L146 545.6 L128.5 545Z" fill="#c9cdd0" stroke="#2a2d30" stroke-width="0.5" stroke-linejoin="round"/>
<circle cx="142.6" cy="542" r="2.6" fill="#6d7276" stroke="#2a2d30" stroke-width="0.5"/>
<rect x="130" y="541" width="8" height="2" fill="#eef0f1"/>
<ellipse cx="133" cy="557.2" rx="2.6" ry="1.2" fill="#e4e7e9" stroke="#2a2d30" stroke-width="0.5"/>
<ellipse cx="120" cy="554.8" rx="2.2" ry="1" fill="#e4e7e9" stroke="#2a2d30" stroke-width="0.5"/>
<rect x="131" y="532" width="9" height="3.6" fill="#c9cdd0" stroke="#2a2d30" stroke-width="0.5"/>
<path d="M178.5 501.8 L163 525.8 L163 541.8 L178.5 565.6" fill="none" stroke="#2a2d30" stroke-width="2.4"/>
<path d="M178.5 501.8 L163 525.8 L163 541.8 L178.5 565.6" fill="none" stroke="#8d9297" stroke-width="1.1"/>
<rect x="172" y="521.2" width="11" height="8.6" fill="#c9d4db" rx="1" stroke="#2a2d30" stroke-width="0.6"/>
<rect x="170.8" y="537.6" width="4.4" height="7" fill="#eceeef" rx="1.4" stroke="#2a2d30" stroke-width="0.6"/>
<rect x="177.2" y="538.8" width="5.6" height="5.8" fill="#eceeef" rx="1" stroke="#2a2d30" stroke-width="0.6"/>
<rect x="176.6" y="532" width="4" height="3" fill="#dfe3e5" stroke="#2a2d30" stroke-width="0.4"/>
<circle cx="172.4" cy="533.4" r="1.3" fill="#f0f1f2" stroke="#555" stroke-width="0.4"/>
<circle cx="187.6" cy="525.7" r="1.6" fill="#3a3d40"/>
<rect x="183.6" y="518.1" width="3" height="2.6" fill="#c9cdd0" stroke="#555" stroke-width="0.4"/>
<path d="M178.4 515.3 L187 515.3" fill="none" stroke="#222" stroke-width="0.6"/>
<circle cx="182.6" cy="515.3" r="0.8" fill="#222"/>
<rect x="224" y="519.4" width="2.8" height="2.8" fill="#c9cdd0" stroke="#555" stroke-width="0.4"/>
<path d="M199 513.8 L199 507 L214 507 L214 513.8" fill="none" stroke="#23262a" stroke-width="0.8"/>
<rect x="195.4" y="510" width="3.4" height="8" fill="#f2f3f4" rx="1" stroke="#23262a" stroke-width="0.7"/>
<rect x="214.2" y="510" width="3.4" height="8" fill="#f2f3f4" rx="1" stroke="#23262a" stroke-width="0.7"/>
<path d="M202.5 512.4 L206.5 509.2 L210.5 512.4 L206.5 515.8Z" fill="#23272c"/>
<circle cx="207.1" cy="511.4" r="1" fill="#9aa0a6"/>
<ellipse cx="219" cy="498.13" rx="2.6" ry="1.2" fill="#e4e7e9" stroke="#2a2d30" stroke-width="0.6"/>
<ellipse cx="234" cy="496.6" rx="2.6" ry="1.2" fill="#e4e7e9" stroke="#2a2d30" stroke-width="0.6"/>
<circle cx="187.6" cy="541.9" r="1.6" fill="#3a3d40"/>
<rect x="183.6" y="546.9" width="3" height="2.6" fill="#c9cdd0" stroke="#555" stroke-width="0.4"/>
<path d="M178.4 552.3 L187 552.3" fill="none" stroke="#222" stroke-width="0.6"/>
<circle cx="182.6" cy="552.3" r="0.8" fill="#222"/>
<rect x="224" y="545.4" width="2.8" height="2.8" fill="#c9cdd0" stroke="#555" stroke-width="0.4"/>
<path d="M199 553.8 L199 560.6 L214 560.6 L214 553.8" fill="none" stroke="#23262a" stroke-width="0.8"/>
<rect x="195.4" y="549.6" width="3.4" height="8" fill="#f2f3f4" rx="1" stroke="#23262a" stroke-width="0.7"/>
<rect x="214.2" y="549.6" width="3.4" height="8" fill="#f2f3f4" rx="1" stroke="#23262a" stroke-width="0.7"/>
<path d="M202.5 555.2 L206.5 558.4 L210.5 555.2 L206.5 551.8Z" fill="#23272c"/>
<circle cx="207.1" cy="556.2" r="1" fill="#9aa0a6"/>
<ellipse cx="219" cy="569.47" rx="2.6" ry="1.2" fill="#e4e7e9" stroke="#2a2d30" stroke-width="0.6"/>
<ellipse cx="234" cy="571" rx="2.6" ry="1.2" fill="#e4e7e9" stroke="#2a2d30" stroke-width="0.6"/>
<rect x="199.3" y="527.05" width="41.7" height="2.3" fill="#8d9195" stroke="#25282b" stroke-width="0.5"/>
<rect x="199.3" y="538.45" width="41.7" height="2.3" fill="#8d9195" stroke="#25282b" stroke-width="0.5"/>
<rect x="222" y="525" width="6" height="17.6" fill="#3d4146" rx="1"/>
<rect x="222" y="527.05" width="7" height="2.3" fill="#8d9195" stroke="#25282b" stroke-width="0.5"/>
<rect x="222" y="538.45" width="7" height="2.3" fill="#8d9195" stroke="#25282b" stroke-width="0.5"/>
<path d="M239 523.8 L243 518.6 L253 517.2 L274 517.8 L282 524.3 L282 543.3 L274 549.8 L253 550.4 L243 549 L239 543.8Z" fill="#6c7176" stroke="#17191b" stroke-width="0.9" stroke-linejoin="round"/>
<path d="M244 520.2 L273 520.2 L273 524.2 L244 524.2Z" fill="#4f6a72" opacity="0.8"/>
<path d="M244 547.4 L273 547.4 L273 543.4 L244 543.4Z" fill="#4f6a72" opacity="0.8"/>
<rect x="246.7" y="524.2" width="29.3" height="19.2" fill="#c9161d"/>
<rect x="276" y="526" width="5.4" height="15.6" fill="#b4b8bc" stroke="#23262a" stroke-width="0.4"/>
<path d="M265.6 493.5 L249.3 516.8" fill="none" stroke="#2a2d30" stroke-width="1.6"/>
<path d="M265.6 493.5 L249.3 516.8" fill="none" stroke="#7a7f84" stroke-width="0.6"/>
<rect x="270" y="487.9" width="17" height="2.6" fill="#24272a" rx="0.6"/>
<rect x="270" y="487.9" width="4" height="8" fill="#c5cacd" stroke="#24272a" stroke-width="0.5"/>
<rect x="270" y="487.9" width="4" height="8" fill="#c5cacd" stroke="#24272a" stroke-width="0.5"/>
<rect x="275.3" y="513.5" width="5.2" height="3.4" fill="#d4d8db" rx="0.8" stroke="#555" stroke-width="0.5"/>
<path d="M265.6 574.1 L249.3 550.8" fill="none" stroke="#2a2d30" stroke-width="1.6"/>
<path d="M265.6 574.1 L249.3 550.8" fill="none" stroke="#7a7f84" stroke-width="0.6"/>
<rect x="270" y="577.1" width="17" height="2.6" fill="#24272a" rx="0.6"/>
<rect x="270" y="577.1" width="4" height="2.6" fill="#c5cacd" stroke="#24272a" stroke-width="0.5"/>
<rect x="270" y="571.7" width="4" height="8" fill="#c5cacd" stroke="#24272a" stroke-width="0.5"/>
<rect x="275.3" y="550.7" width="5.2" height="3.4" fill="#d4d8db" rx="0.8" stroke="#555" stroke-width="0.5"/>
<path d="M286.4 526 L292.2 518.8 L302.6 513 L428 512.4 L428 555.2 L302.6 555.2 L292.2 549 L286.4 541.6Z" fill="#7f8388" stroke="#1d1f21" stroke-width="0.9" stroke-linejoin="round"/>
<rect x="303" y="513" width="125" height="4.4" fill="#a7abaf"/>
<rect x="303" y="550.6" width="125" height="4.2" fill="#5e6267"/>
<rect x="257" y="527.05" width="42" height="2.3" fill="#8d9195" stroke="#25282b" stroke-width="0.5"/>
<rect x="257" y="538.45" width="42" height="2.3" fill="#8d9195" stroke="#25282b" stroke-width="0.5"/>
<path d="M296 523.8 L300 518.6 L310 517.2 L331.4 517.8 L339.4 524.3 L339.4 543.3 L331.4 549.8 L310 550.4 L300 549 L296 543.8Z" fill="#6c7176" stroke="#17191b" stroke-width="0.9" stroke-linejoin="round"/>
<path d="M301 520.2 L330.4 520.2 L330.4 524.2 L301 524.2Z" fill="#4f6a72" opacity="0.8"/>
<path d="M301 547.4 L330.4 547.4 L330.4 543.4 L301 543.4Z" fill="#4f6a72" opacity="0.8"/>
<rect x="304" y="524.2" width="29.8" height="19.2" fill="#c9161d"/>
<circle cx="313" cy="533.8" r="5.2" fill="#55595d" stroke="#1b1d1f" stroke-width="1.0"/>
<circle cx="313" cy="533.8" r="1.6" fill="#7d8185"/>
<rect x="323.4" y="516.4" width="7.2" height="7.6" fill="#eceeef" stroke="#23262a" stroke-width="0.6"/>
<path d="M300.4 502.6 L303 501.6 L306.4 510.8 L303.8 511.8Z" fill="#eceeef" stroke="#23262a" stroke-width="0.6" stroke-linejoin="round"/>
<path d="M306 511.2 L315 511.8 L316.6 505.2 L309 504.2Z" fill="#2f3338"/>
<circle cx="311" cy="508.2" r="1.6" fill="#8d949a"/>
<path d="M292.4 518.3 L296.2 515.2" fill="none" stroke="#222" stroke-width="0.9"/>
<path d="M295 520 L298.6 516.8" fill="none" stroke="#222" stroke-width="0.9"/>
<rect x="357.8" y="498.2" width="2.6" height="14" fill="#d3d7da" stroke="#23262a" stroke-width="0.5"/>
<rect x="323.4" y="543.6" width="7.2" height="7.6" fill="#eceeef" stroke="#23262a" stroke-width="0.6"/>
<path d="M300.4 565 L303 566 L306.4 556.8 L303.8 555.8Z" fill="#eceeef" stroke="#23262a" stroke-width="0.6" stroke-linejoin="round"/>
<path d="M306 556.4 L315 555.8 L316.6 562.4 L309 563.4Z" fill="#2f3338"/>
<circle cx="311" cy="559.4" r="1.6" fill="#8d949a"/>
<path d="M292.4 549.3 L296.2 552.4" fill="none" stroke="#222" stroke-width="0.9"/>
<path d="M295 547.6 L298.6 550.8" fill="none" stroke="#222" stroke-width="0.9"/>
<rect x="357.8" y="555.4" width="2.6" height="14" fill="#d3d7da" stroke="#23262a" stroke-width="0.5"/>
<path d="M339.4 523 L346 517 L372 517 L372 550.6 L346 550.6 L339.4 544.6Z" fill="#7a7f84" stroke="#1d1f21" stroke-width="0.8" stroke-linejoin="round"/>
<path d="M342 533.8 L345 526 L352 522.8 L365 522.8 L365 545.4 L352 545.4 L345 541.6Z" fill="#babec2" stroke="#1d1f21" stroke-width="0.8" stroke-linejoin="round"/>
<path d="M346 533.8 L351 527.6 L363 526 L357 533.8 L363 541.6 L351 540Z" fill="#e3e6e8" stroke="#55595d" stroke-width="0.5" stroke-linejoin="round"/>
<circle cx="350" cy="533.8" r="0.7" fill="#4a4e52"/>
<circle cx="354" cy="530.8" r="0.7" fill="#4a4e52"/>
<circle cx="354" cy="536.8" r="0.7" fill="#4a4e52"/>
<circle cx="358.5" cy="528.8" r="0.7" fill="#4a4e52"/>
<circle cx="358.5" cy="538.8" r="0.7" fill="#4a4e52"/>
<path d="M365 524 L372 516.4 L394 515 L400 522 L400 546 L394 552.6 L372 551.2 L365 543.6Z" fill="#9ea3a7" stroke="#1d1f21" stroke-width="0.9" stroke-linejoin="round"/>
<circle cx="385" cy="533.8" r="11.6" fill="#cdd1d4" stroke="#1d1f21" stroke-width="0.9"/>
<path d="M371 533.8 L386 524.6 L396 528 L396 539.6 L386 543Z" fill="#8f9498" stroke="#1d1f21" stroke-width="0.9" stroke-linejoin="round"/>
<path d="M376 533.8 L386 528.4 L392 530 L392 537.6 L386 539.2Z" fill="#d5d9dc" stroke="#1d1f21" stroke-width="0.7" stroke-linejoin="round"/>
<rect x="382.8" y="530.6" width="6" height="6.4" fill="#f2f3f4" rx="1" stroke="#1d1f21" stroke-width="0.8"/>
<rect x="384.4" y="532.2" width="2.8" height="3.2" fill="#b9bec2" stroke="#1d1f21" stroke-width="0.4"/>
<rect x="363.4" y="532.6" width="4" height="2.4" fill="#f2f3f4" rx="1" stroke="#1d1f21" stroke-width="0.5"/>
<circle cx="373.6" cy="525.4" r="2" fill="#c8cdd0" stroke="#1d1f21" stroke-width="0.7"/>
<circle cx="380" cy="521.8" r="2" fill="#c8cdd0" stroke="#1d1f21" stroke-width="0.7"/>
<circle cx="389" cy="521.2" r="2" fill="#c8cdd0" stroke="#1d1f21" stroke-width="0.7"/>
<circle cx="373.6" cy="542.2" r="2" fill="#c8cdd0" stroke="#1d1f21" stroke-width="0.7"/>
<circle cx="380" cy="545.8" r="2" fill="#c8cdd0" stroke="#1d1f21" stroke-width="0.7"/>
<circle cx="389" cy="546.4" r="2" fill="#c8cdd0" stroke="#1d1f21" stroke-width="0.7"/>
<circle cx="395" cy="527.8" r="2" fill="#c8cdd0" stroke="#1d1f21" stroke-width="0.7"/>
<circle cx="395" cy="539.8" r="2" fill="#c8cdd0" stroke="#1d1f21" stroke-width="0.7"/>
<path d="M397.4 515 L429.3 515 L429.3 504.5 L511.7 504.5 L522 503.2 L550 503.2 L550 564.4 L522 564.4 L511.7 563.2 L429.3 563.2 L429.3 552.6 L397.4 552.6Z" fill="#2f3a4e" stroke="#14171b" stroke-width="0.8" stroke-linejoin="round"/>
<rect x="430" y="505.2" width="42" height="4.4" fill="#b6bec4"/>
<rect x="430" y="558.4" width="42" height="4.2" fill="#6d7680"/>
<rect x="472.7" y="504.9" width="15.2" height="11.4" fill="#8b8f93" stroke="#23262a" stroke-width="0.4"/>
<rect x="492.2" y="504.9" width="19" height="11.4" fill="#8b8f93" stroke="#23262a" stroke-width="0.4"/>
<rect x="472.7" y="552" width="15.2" height="11.4" fill="#8b8f93" stroke="#23262a" stroke-width="0.4"/>
<rect x="492.2" y="552" width="19" height="11.4" fill="#8b8f93" stroke="#23262a" stroke-width="0.4"/>
<rect x="487.7" y="489.2" width="4.1" height="89.4" fill="#3b4149"/>
<rect x="488.6" y="492" width="2.3" height="1.6" fill="#aab2b8" opacity="0.8"/>
<rect x="488.6" y="497" width="2.3" height="1.6" fill="#aab2b8" opacity="0.8"/>
<rect x="488.6" y="502" width="2.3" height="1.6" fill="#aab2b8" opacity="0.8"/>
<rect x="488.6" y="507" width="2.3" height="1.6" fill="#aab2b8" opacity="0.8"/>
<rect x="488.6" y="512" width="2.3" height="1.6" fill="#aab2b8" opacity="0.8"/>
<rect x="488.6" y="517" width="2.3" height="1.6" fill="#aab2b8" opacity="0.8"/>
<rect x="488.6" y="522" width="2.3" height="1.6" fill="#aab2b8" opacity="0.8"/>
<rect x="488.6" y="527" width="2.3" height="1.6" fill="#aab2b8" opacity="0.8"/>
<rect x="488.6" y="532" width="2.3" height="1.6" fill="#aab2b8" opacity="0.8"/>
<rect x="488.6" y="537" width="2.3" height="1.6" fill="#aab2b8" opacity="0.8"/>
<rect x="488.6" y="542" width="2.3" height="1.6" fill="#aab2b8" opacity="0.8"/>
<rect x="488.6" y="547" width="2.3" height="1.6" fill="#aab2b8" opacity="0.8"/>
<rect x="488.6" y="552" width="2.3" height="1.6" fill="#aab2b8" opacity="0.8"/>
<rect x="488.6" y="557" width="2.3" height="1.6" fill="#aab2b8" opacity="0.8"/>
<rect x="488.6" y="562" width="2.3" height="1.6" fill="#aab2b8" opacity="0.8"/>
<rect x="488.6" y="567" width="2.3" height="1.6" fill="#aab2b8" opacity="0.8"/>
<rect x="488.6" y="572" width="2.3" height="1.6" fill="#aab2b8" opacity="0.8"/>
<rect x="488.6" y="577" width="2.3" height="1.6" fill="#aab2b8" opacity="0.8"/>
<path d="M388.3 492.2 L392 491 L406 491 L408.5 493.8 L408.5 501.8 L406 504.6 L392 504.6 L388.3 503.4Z" fill="#3d485b" stroke="#14171b" stroke-width="0.8" stroke-linejoin="round"/>
<path d="M398.6 491 L398.6 504.6" fill="none" stroke="#14171b" stroke-width="0.6"/>
<rect x="374.7" y="494.4" width="14" height="1.5" fill="#3d485b" stroke="#14171b" stroke-width="0.4"/>
<rect x="374.7" y="499.7" width="14" height="1.5" fill="#3d485b" stroke="#14171b" stroke-width="0.4"/>
<circle cx="403" cy="497.8" r="1" fill="#1d222b"/>
<path d="M413 491.2 L428 491.2 L430 497.8 L428 504.4 L413 504.4Z" fill="#9ba1a6" stroke="#14171b" stroke-width="0.7" stroke-linejoin="round"/>
<rect x="414" y="492.8" width="5.4" height="2.6" fill="#eef0f1"/>
<rect x="414" y="500.2" width="5.4" height="2.6" fill="#eef0f1"/>
<circle cx="423.6" cy="497.8" r="3.2" fill="#5b6268" stroke="#14171b" stroke-width="0.5"/>
<circle cx="421.5" cy="509.4" r="4.8" fill="#c9d1d5" stroke="#14171b" stroke-width="0.9"/>
<circle cx="422.4" cy="510.2" r="2" fill="#8d979d"/>
<path d="M394 515.4 L404 515.4 L406 509.8 L400 506.8 L393 509.8Z" fill="#8f9498" stroke="#14171b" stroke-width="0.7" stroke-linejoin="round"/>
<circle cx="398.6" cy="511.4" r="2.2" fill="#3a3f45"/>
<path d="M388.3 564.2 L392 563 L406 563 L408.5 565.8 L408.5 573.8 L406 576.6 L392 576.6 L388.3 575.4Z" fill="#3d485b" stroke="#14171b" stroke-width="0.8" stroke-linejoin="round"/>
<path d="M398.6 563 L398.6 576.6" fill="none" stroke="#14171b" stroke-width="0.6"/>
<rect x="374.7" y="566.4" width="14" height="1.5" fill="#3d485b" stroke="#14171b" stroke-width="0.4"/>
<rect x="374.7" y="571.7" width="14" height="1.5" fill="#3d485b" stroke="#14171b" stroke-width="0.4"/>
<circle cx="403" cy="569.8" r="1" fill="#1d222b"/>
<path d="M413 563.2 L428 563.2 L430 569.8 L428 576.4 L413 576.4Z" fill="#9ba1a6" stroke="#14171b" stroke-width="0.7" stroke-linejoin="round"/>
<rect x="414" y="564.8" width="5.4" height="2.6" fill="#eef0f1"/>
<rect x="414" y="572.2" width="5.4" height="2.6" fill="#eef0f1"/>
<circle cx="423.6" cy="569.8" r="3.2" fill="#5b6268" stroke="#14171b" stroke-width="0.5"/>
<circle cx="421.5" cy="558.2" r="4.8" fill="#c9d1d5" stroke="#14171b" stroke-width="0.9"/>
<circle cx="422.4" cy="557.4" r="2" fill="#8d979d"/>
<path d="M394 552.2 L404 552.2 L406 557.8 L400 560.8 L393 557.8Z" fill="#8f9498" stroke="#14171b" stroke-width="0.7" stroke-linejoin="round"/>
<circle cx="398.6" cy="556.2" r="2.2" fill="#3a3f45"/>
<ellipse cx="420.8" cy="533.8" rx="17.6" ry="11.6" fill="#8c9094" stroke="#14171b" stroke-width="1.1"/>
<ellipse cx="420.8" cy="533.8" rx="15.2" ry="9.4" fill="#c3c7ca" stroke="#14171b" stroke-width="0.6"/>
<ellipse cx="420.8" cy="533.8" rx="13.2" ry="7.6" fill="#1e2024"/>
<rect x="414.3" y="530.3" width="1.8" height="1.8" fill="#7c8186"/>
<rect x="414.3" y="535.5" width="1.8" height="1.8" fill="#7c8186"/>
<rect x="419.9" y="530.3" width="1.8" height="1.8" fill="#7c8186"/>
<rect x="419.9" y="535.5" width="1.8" height="1.8" fill="#7c8186"/>
<rect x="425.5" y="530.3" width="1.8" height="1.8" fill="#7c8186"/>
<rect x="425.5" y="535.5" width="1.8" height="1.8" fill="#7c8186"/>
<rect x="403" y="527" width="5" height="13" fill="#434e60" stroke="#14171b" stroke-width="0.5"/>
<rect x="404.4" y="529.6" width="2.2" height="3.4" fill="#d5d9dc"/>
<rect x="438.6" y="523.6" width="7" height="20.4" fill="#434e60" stroke="#14171b" stroke-width="0.5"/>
<rect x="441" y="526.4" width="2" height="2" fill="#c5cacd"/>
<rect x="441" y="532.8" width="2" height="2" fill="#c5cacd"/>
<rect x="441" y="539.2" width="2" height="2" fill="#c5cacd"/>
<path d="M430.6 515.6 Q439.025 510.4 449.135 510.4 L463.3 510.8 Q464.3 515.6 463.3 520.4 L449.135 520.8 Q439.025 520.8 430.6 515.6Z" fill="#d9772c" stroke="#3a220e" stroke-width="0.7" stroke-linejoin="round"/>
<rect x="440.71" y="512.74" width="16.85" height="5.72" fill="#b4601e" rx="1.5"/>
<rect x="446.776" y="513.26" width="5.392" height="4.68" fill="#f0a45a" rx="1" stroke="#3a220e" stroke-width="0.4"/>
<path d="M449.3 524.6 Q457.725 520.4 467.835 520.4 L482 520.8 Q483 524.6 482 528.4 L467.835 528.8 Q457.725 528.8 449.3 524.6Z" fill="#d9772c" stroke="#3a220e" stroke-width="0.7" stroke-linejoin="round"/>
<rect x="459.41" y="522.29" width="16.85" height="4.62" fill="#b4601e" rx="1.5"/>
<rect x="465.476" y="522.71" width="5.392" height="3.78" fill="#f0a45a" rx="1" stroke="#3a220e" stroke-width="0.4"/>
<path d="M449.3 534.2 Q457.725 529.9 467.835 529.9 L482 530.3 Q483 534.2 482 538.1 L467.835 538.5 Q457.725 538.5 449.3 534.2Z" fill="#d9772c" stroke="#3a220e" stroke-width="0.7" stroke-linejoin="round"/>
<rect x="459.41" y="531.835" width="16.85" height="4.73" fill="#b4601e" rx="1.5"/>
<rect x="465.476" y="532.265" width="5.392" height="3.87" fill="#f0a45a" rx="1" stroke="#3a220e" stroke-width="0.4"/>
<path d="M449.3 544.5 Q457.725 539.6 467.835 539.6 L482 540 Q483 544.5 482 549 L467.835 549.4 Q457.725 549.4 449.3 544.5Z" fill="#d9772c" stroke="#3a220e" stroke-width="0.7" stroke-linejoin="round"/>
<rect x="459.41" y="541.805" width="16.85" height="5.39" fill="#b4601e" rx="1.5"/>
<rect x="465.476" y="542.295" width="5.392" height="4.41" fill="#f0a45a" rx="1" stroke="#3a220e" stroke-width="0.4"/>
<path d="M430.6 553.25 Q439.025 548 449.135 548 L463.3 548.4 Q464.3 553.25 463.3 558.1 L449.135 558.5 Q439.025 558.5 430.6 553.25Z" fill="#d9772c" stroke="#3a220e" stroke-width="0.7" stroke-linejoin="round"/>
<rect x="440.71" y="550.362" width="16.85" height="5.775" fill="#b4601e" rx="1.5"/>
<rect x="446.776" y="550.888" width="5.392" height="4.725" fill="#f0a45a" rx="1" stroke="#3a220e" stroke-width="0.4"/>
<path d="M485 522.4 Q491.05 519.5 498.31 519.5 L508.2 519.9 Q509.2 522.4 508.2 524.9 L498.31 525.3 Q491.05 525.3 485 522.4Z" fill="#d9772c" stroke="#3a220e" stroke-width="0.7" stroke-linejoin="round"/>
<rect x="490" y="521.3" width="15.2" height="2.2" fill="#a8551a" rx="1"/>
<path d="M485 530.15 Q491.05 527.3 498.31 527.3 L508.2 527.7 Q509.2 530.15 508.2 532.6 L498.31 533 Q491.05 533 485 530.15Z" fill="#d9772c" stroke="#3a220e" stroke-width="0.7" stroke-linejoin="round"/>
<rect x="490" y="529.05" width="15.2" height="2.2" fill="#a8551a" rx="1"/>
<path d="M485 538 Q491.05 535 498.31 535 L508.2 535.4 Q509.2 538 508.2 540.6 L498.31 541 Q491.05 541 485 538Z" fill="#d9772c" stroke="#3a220e" stroke-width="0.7" stroke-linejoin="round"/>
<rect x="490" y="536.9" width="15.2" height="2.2" fill="#a8551a" rx="1"/>
<path d="M485 545.8 Q491.05 542.9 498.31 542.9 L508.2 543.3 Q509.2 545.8 508.2 548.3 L498.31 548.7 Q491.05 548.7 485 545.8Z" fill="#d9772c" stroke="#3a220e" stroke-width="0.7" stroke-linejoin="round"/>
<rect x="490" y="544.7" width="15.2" height="2.2" fill="#a8551a" rx="1"/>
<path d="M470 496.2 L522 496.2 L524.8 499 L524.8 501.6 L520 504 L470 504Z" fill="#757c83" stroke="#14171b" stroke-width="0.9" stroke-linejoin="round"/>
<rect x="479" y="498" width="28" height="3.2" fill="#c19a69" stroke="#14171b" stroke-width="0.5" opacity="0.95"/>
<rect x="496" y="498.5" width="9" height="2.2" fill="#c5ccd1" stroke="#14171b" stroke-width="0.4"/>
<path d="M458 495 L468 494.4 L471 499.6 L468 504.8 L458 504.2Z" fill="#e6e9eb" stroke="#14171b" stroke-width="0.8" stroke-linejoin="round"/>
<path d="M461 496.6 L466 498 L466 501.2 L461 502.6Z" fill="#23272b"/>
<circle cx="517.6" cy="505" r="4.6" fill="#d3d8db" stroke="#14171b" stroke-width="1.0"/>
<path d="M515.6 503.8 L519.4 506.4" fill="none" stroke="#4a4e52" stroke-width="0.7"/>
<path d="M513 512.2 L518 511.8 L522.6 517.8 L521 524 L514 522.2 L511.8 516.8Z" fill="#a9adb1" stroke="#14171b" stroke-width="0.8" stroke-linejoin="round"/>
<ellipse cx="442" cy="490.655" rx="2.6" ry="1.2" fill="#e4e7e9" stroke="#2a2d30" stroke-width="0.6"/>
<ellipse cx="546.8" cy="491.262" rx="2.6" ry="1.2" fill="#e4e7e9" stroke="#2a2d30" stroke-width="0.6"/>
<ellipse cx="370" cy="490.725" rx="2.6" ry="1.2" fill="#e4e7e9" stroke="#2a2d30" stroke-width="0.6"/>
<path d="M470 571.4 L522 571.4 L524.8 568.6 L524.8 566 L520 563.6 L470 563.6Z" fill="#757c83" stroke="#14171b" stroke-width="0.9" stroke-linejoin="round"/>
<rect x="479" y="566.4" width="28" height="3.2" fill="#c19a69" stroke="#14171b" stroke-width="0.5" opacity="0.95"/>
<rect x="496" y="566.9" width="9" height="2.2" fill="#c5ccd1" stroke="#14171b" stroke-width="0.4"/>
<path d="M458 563.4 L468 562.8 L471 568 L468 573.2 L458 572.6Z" fill="#e6e9eb" stroke="#14171b" stroke-width="0.8" stroke-linejoin="round"/>
<path d="M461 565 L466 566.4 L466 569.6 L461 571Z" fill="#23272b"/>
<circle cx="517.6" cy="562.6" r="4.6" fill="#d3d8db" stroke="#14171b" stroke-width="1.0"/>
<path d="M515.6 563.8 L519.4 561.2" fill="none" stroke="#4a4e52" stroke-width="0.7"/>
<path d="M513 555.4 L518 555.8 L522.6 549.8 L521 543.6 L514 545.4 L511.8 550.8Z" fill="#a9adb1" stroke="#14171b" stroke-width="0.8" stroke-linejoin="round"/>
<ellipse cx="442" cy="576.945" rx="2.6" ry="1.2" fill="#e4e7e9" stroke="#2a2d30" stroke-width="0.6"/>
<ellipse cx="546.8" cy="576.338" rx="2.6" ry="1.2" fill="#e4e7e9" stroke="#2a2d30" stroke-width="0.6"/>
<ellipse cx="370" cy="576.875" rx="2.6" ry="1.2" fill="#e4e7e9" stroke="#2a2d30" stroke-width="0.6"/>
<ellipse cx="529.3" cy="533.8" rx="17.6" ry="12" fill="#8c9094" stroke="#14171b" stroke-width="1.1"/>
<ellipse cx="529.3" cy="533.8" rx="15.2" ry="9.8" fill="#c3c7ca" stroke="#14171b" stroke-width="0.6"/>
<ellipse cx="529.3" cy="533.8" rx="13" ry="8" fill="#1e2024"/>
<rect x="522.8" y="530.1" width="1.8" height="1.8" fill="#7c8186"/>
<rect x="522.8" y="535.7" width="1.8" height="1.8" fill="#7c8186"/>
<rect x="528.4" y="530.1" width="1.8" height="1.8" fill="#7c8186"/>
<rect x="528.4" y="535.7" width="1.8" height="1.8" fill="#7c8186"/>
<rect x="534" y="530.1" width="1.8" height="1.8" fill="#7c8186"/>
<rect x="534" y="535.7" width="1.8" height="1.8" fill="#7c8186"/>
<path d="M528.6 520 L528.6 548" fill="none" stroke="#c9cdd0" stroke-width="0.7"/>
<circle cx="536" cy="515.2" r="3" fill="#3b4760" stroke="#14171b" stroke-width="0.6"/>
<circle cx="536" cy="515.2" r="1" fill="#8b8f6a"/>
<rect x="524" y="505.2" width="22" height="6" fill="#434e62" stroke="#14171b" stroke-width="0.4"/>
<circle cx="536" cy="552.4" r="3" fill="#3b4760" stroke="#14171b" stroke-width="0.6"/>
<circle cx="536" cy="552.4" r="1" fill="#8b8f6a"/>
<rect x="524" y="556.4" width="22" height="6" fill="#434e62" stroke="#14171b" stroke-width="0.4"/>
<circle cx="561.7" cy="502.6" r="8.8" fill="#9ba1a6" stroke="#14171b" stroke-width="1.0"/>
<circle cx="559.6" cy="503.6" r="4.6" fill="#c4cacf"/>
<rect x="562" y="497" width="7" height="2.4" fill="#eef0f1"/>
<rect x="562" y="505.8" width="7" height="2.4" fill="#eef0f1"/>
<rect x="566" y="500" width="10.6" height="1.5" fill="#50565c"/>
<rect x="566" y="503.7" width="10.6" height="1.5" fill="#50565c"/>
<circle cx="561.7" cy="565" r="8.8" fill="#9ba1a6" stroke="#14171b" stroke-width="1.0"/>
<circle cx="559.6" cy="564" r="4.6" fill="#c4cacf"/>
<rect x="562" y="559.4" width="7" height="2.4" fill="#eef0f1"/>
<rect x="562" y="568.2" width="7" height="2.4" fill="#eef0f1"/>
<rect x="566" y="562.4" width="10.6" height="1.5" fill="#50565c"/>
<rect x="566" y="566.1" width="10.6" height="1.5" fill="#50565c"/>
<path d="M555.8 515.6 L606 515.6 L618 521 L623.4 526 L623.4 541.6 L618 546.6 L606 553.2 L555.8 553.2Z" fill="#a9adb1" stroke="#14171b" stroke-width="0.9" stroke-linejoin="round"/>
<rect x="556.4" y="516.6" width="9.6" height="35.6" fill="#d3d7da" stroke="#14171b" stroke-width="0.5"/>
<rect x="557.6" y="518.2" width="6.6" height="3.2" fill="#f1f2f3" stroke="#14171b" stroke-width="0.5"/>
<rect x="557.6" y="524.2" width="6.6" height="3.2" fill="#f1f2f3" stroke="#14171b" stroke-width="0.5"/>
<rect x="557.6" y="540.2" width="6.6" height="3.2" fill="#f1f2f3" stroke="#14171b" stroke-width="0.5"/>
<rect x="557.6" y="546.2" width="6.6" height="3.2" fill="#f1f2f3" stroke="#14171b" stroke-width="0.5"/>
<rect x="558" y="527.6" width="5" height="12.6" fill="#8d9196" stroke="#14171b" stroke-width="0.5"/>
<path d="M566 519.4 L581 519.4 L595.4 533.8 L581 548.2 L566 548.2Z" fill="#b9bdc1" stroke="#14171b" stroke-width="0.9" stroke-linejoin="round"/>
<path d="M569.6 533.8 L573 529.6 L580 528.4 L589.6 533.8 L580 539.2 L573 538Z" fill="#e9ebec" stroke="#14171b" stroke-width="0.8" stroke-linejoin="round"/>
<ellipse cx="573.6" cy="533.8" rx="3" ry="3.6" fill="#c9cdd0" stroke="#55595d" stroke-width="0.5"/>
<circle cx="578" cy="523.2" r="2.4" fill="#f1f2f3" stroke="#14171b" stroke-width="0.8"/>
<circle cx="569.6" cy="522.2" r="1.6" fill="#f1f2f3" stroke="#14171b" stroke-width="0.6"/>
<circle cx="578" cy="544.4" r="2.4" fill="#f1f2f3" stroke="#14171b" stroke-width="0.8"/>
<circle cx="569.6" cy="545.4" r="1.6" fill="#f1f2f3" stroke="#14171b" stroke-width="0.6"/>
<circle cx="593" cy="533.8" r="1.8" fill="#50565c"/>
<path d="M596 516 L596 551" fill="none" stroke="#8d9196" stroke-width="0.5"/>
<path d="M596 529 L599 526.6 L615 526.6 L617.6 529 L617.6 538.6 L615 541.6 L599 541.6 L596 538.6Z" fill="#3c4656" stroke="#14171b" stroke-width="0.9" stroke-linejoin="round"/>
<path d="M606.4 526.6 L606.4 541.6" fill="none" stroke="#14171b" stroke-width="0.5"/>
<circle cx="603" cy="533.8" r="0.9" fill="#141a24"/>
<rect x="617" y="530.4" width="11.6" height="1.6" fill="#555b62" stroke="#14171b" stroke-width="0.4"/>
<rect x="617" y="535.6" width="11.6" height="1.6" fill="#555b62" stroke="#14171b" stroke-width="0.4"/>
<path d="M588 504.6 L590 514.2 L598 516.2 L606 512.2 L603 504.6Z" fill="#8d9196" stroke="#14171b" stroke-width="0.8" stroke-linejoin="round"/>
<path d="M601.4 516.8 L603.8 517.2 L607.6 507.2 L605.4 506.6Z" fill="#e6e9eb" stroke="#14171b" stroke-width="0.5" stroke-linejoin="round"/>
<circle cx="596.4" cy="510.2" r="2.4" fill="#3c4147"/>
<circle cx="595" cy="508.2" r="1.2" fill="#b48c5c"/>
<rect x="611.6" y="512.2" width="3.4" height="3.2" fill="#dfe3e5" stroke="#14171b" stroke-width="0.5"/>
<path d="M617 519.2 L621 515.4" fill="none" stroke="#c9cdd0" stroke-width="1.0"/>
<path d="M624.6 506.2 L626 514.2 L627.4 506.2Z" fill="#2b2f33"/>
<rect x="623.4" y="514.8" width="4.2" height="2.8" fill="#e6e9eb" stroke="#14171b" stroke-width="0.4"/>
<rect x="578" y="489.725" width="18" height="2.6" fill="#24272a" rx="0.6"/>
<rect x="578" y="489.725" width="4" height="7.4" fill="#c5cacd" stroke="#24272a" stroke-width="0.5"/>
<rect x="590.6" y="490.325" width="1.2" height="6" fill="#24272a"/>
<ellipse cx="600" cy="493.9" rx="2.6" ry="1.2" fill="#e4e7e9" stroke="#2a2d30" stroke-width="0.6"/>
<ellipse cx="663" cy="499.413" rx="2.6" ry="1.2" fill="#e4e7e9" stroke="#2a2d30" stroke-width="0.6"/>
<ellipse cx="730.5" cy="508.677" rx="2.6" ry="1.2" fill="#e4e7e9" stroke="#2a2d30" stroke-width="0.6"/>
<ellipse cx="647" cy="497.92" rx="2.6" ry="1.2" fill="#e4e7e9" stroke="#2a2d30" stroke-width="0.6"/>
<path d="M588 563 L590 553.4 L598 551.4 L606 555.4 L603 563Z" fill="#8d9196" stroke="#14171b" stroke-width="0.8" stroke-linejoin="round"/>
<path d="M601.4 550.8 L603.8 550.4 L607.6 560.4 L605.4 561Z" fill="#e6e9eb" stroke="#14171b" stroke-width="0.5" stroke-linejoin="round"/>
<circle cx="596.4" cy="557.4" r="2.4" fill="#3c4147"/>
<circle cx="595" cy="559.4" r="1.2" fill="#b48c5c"/>
<rect x="611.6" y="552.2" width="3.4" height="3.2" fill="#dfe3e5" stroke="#14171b" stroke-width="0.5"/>
<path d="M617 548.4 L621 552.2" fill="none" stroke="#c9cdd0" stroke-width="1.0"/>
<path d="M624.6 561.4 L626 553.4 L627.4 561.4Z" fill="#2b2f33"/>
<rect x="623.4" y="550" width="4.2" height="2.8" fill="#e6e9eb" stroke="#14171b" stroke-width="0.4"/>
<rect x="578" y="574.675" width="18" height="2.6" fill="#24272a" rx="0.6"/>
<rect x="578" y="569.875" width="4" height="7.4" fill="#c5cacd" stroke="#24272a" stroke-width="0.5"/>
<rect x="590.6" y="571.075" width="1.2" height="6" fill="#24272a"/>
<ellipse cx="600" cy="573.7" rx="2.6" ry="1.2" fill="#e4e7e9" stroke="#2a2d30" stroke-width="0.6"/>
<ellipse cx="663" cy="568.187" rx="2.6" ry="1.2" fill="#e4e7e9" stroke="#2a2d30" stroke-width="0.6"/>
<ellipse cx="730.5" cy="558.923" rx="2.6" ry="1.2" fill="#e4e7e9" stroke="#2a2d30" stroke-width="0.6"/>
<ellipse cx="647" cy="569.68" rx="2.6" ry="1.2" fill="#e4e7e9" stroke="#2a2d30" stroke-width="0.6"/>
<path d="M627.8 524 L632 518.6 L640 516.9 L664 517.4 L671.4 524.4 L671.4 543.2 L664 550.4 L640 551.3 L632 549.2 L627.8 543.6Z" fill="#8b9095" stroke="#14171b" stroke-width="0.9" stroke-linejoin="round"/>
<path d="M646 518 L663.6 518.4 L669.6 524.6 L669.6 543 L663.6 549.6 L646 550Z" fill="#50565c" opacity="0.85"/>
<rect x="633.7" y="524.7" width="29.9" height="18.8" fill="#c9161d"/>
<circle cx="654.4" cy="534" r="6" fill="#4b4f53" stroke="#14171b" stroke-width="1.0"/>
<circle cx="654.4" cy="534" r="2.6" fill="#70757a"/>
<rect x="654.4" y="533.2" width="3.6" height="1.6" fill="#c9cdd0"/>
<rect x="637.2" y="516.7" width="6.8" height="7.4" fill="#eceeef" stroke="#23262a" stroke-width="0.6"/>
<rect x="651" y="524.4" width="1.8" height="1.6" fill="#eef0f1"/>
<rect x="657" y="524.4" width="1.8" height="1.6" fill="#eef0f1"/>
<rect x="637.2" y="543.5" width="6.8" height="7.4" fill="#eceeef" stroke="#23262a" stroke-width="0.6"/>
<rect x="651" y="541.6" width="1.8" height="1.6" fill="#eef0f1"/>
<rect x="657" y="541.6" width="1.8" height="1.6" fill="#eef0f1"/>
<rect x="670.4" y="526.9" width="40" height="2.6" fill="#8d9195" stroke="#25282b" stroke-width="0.5"/>
<rect x="670.4" y="538.3" width="40" height="2.6" fill="#8d9195" stroke="#25282b" stroke-width="0.5"/>
<rect x="679.8" y="519.5" width="8.6" height="6.6" fill="#eceeef" stroke="#23262a" stroke-width="0.7"/>
<rect x="682.6" y="521" width="2.4" height="3.4" fill="#7a8fb0"/>
<rect x="678" y="537.2" width="9" height="8" fill="#dfe3e5" stroke="#23262a" stroke-width="0.7"/>
<rect x="680" y="539" width="5" height="1.6" fill="#8a8f94"/>
<rect x="695.4" y="531.8" width="4.6" height="2.8" fill="#eceeef" stroke="#23262a" stroke-width="0.5"/>
<rect x="701.6" y="532.6" width="1.6" height="4" fill="#6b6f73"/>
<circle cx="668.2" cy="517.8" r="1.4" fill="#f1f2f3" stroke="#23262a" stroke-width="0.5"/>
<path d="M706.2 513.8 L706.2 507 L721.2 507 L721.2 513.8" fill="none" stroke="#23262a" stroke-width="0.8"/>
<rect x="702.6" y="510" width="3.4" height="8" fill="#f2f3f4" rx="1" stroke="#23262a" stroke-width="0.7"/>
<rect x="721.4" y="510" width="3.4" height="8" fill="#f2f3f4" rx="1" stroke="#23262a" stroke-width="0.7"/>
<path d="M709.7 512.4 L713.7 509.2 L717.7 512.4 L713.7 515.8Z" fill="#23272c"/>
<circle cx="714.3" cy="511.4" r="1" fill="#9aa0a6"/>
<rect x="737.7" y="524" width="9.8" height="4.6" fill="#e6e9eb" stroke="#23262a" stroke-width="0.6"/>
<rect x="740" y="524.7" width="1.4" height="3.2" fill="#5b6167"/>
<rect x="743.4" y="524.7" width="1.4" height="3.2" fill="#5b6167"/>
<path d="M730 518.8 L738.6 518.8" fill="none" stroke="#222" stroke-width="0.7"/>
<ellipse cx="734.4" cy="518.8" rx="2.2" ry="0.9" fill="#222"/>
<path d="M706.2 553.8 L706.2 560.6 L721.2 560.6 L721.2 553.8" fill="none" stroke="#23262a" stroke-width="0.8"/>
<rect x="702.6" y="549.6" width="3.4" height="8" fill="#f2f3f4" rx="1" stroke="#23262a" stroke-width="0.7"/>
<rect x="721.4" y="549.6" width="3.4" height="8" fill="#f2f3f4" rx="1" stroke="#23262a" stroke-width="0.7"/>
<path d="M709.7 555.2 L713.7 558.4 L717.7 555.2 L713.7 551.8Z" fill="#23272c"/>
<circle cx="714.3" cy="556.2" r="1" fill="#9aa0a6"/>
<rect x="737.7" y="539" width="9.8" height="4.6" fill="#e6e9eb" stroke="#23262a" stroke-width="0.6"/>
<rect x="740" y="539.7" width="1.4" height="3.2" fill="#5b6167"/>
<rect x="743.4" y="539.7" width="1.4" height="3.2" fill="#5b6167"/>
<path d="M730 548.8 L738.6 548.8" fill="none" stroke="#222" stroke-width="0.7"/>
<ellipse cx="734.4" cy="548.8" rx="2.2" ry="0.9" fill="#222"/></g>
<g id="ship-bot"><path d="M830 727.6 L819.8 751.2" fill="none" stroke="#33373b" stroke-width="0.7"/>
<path d="M28.7 726.6 L28.7 742.6" fill="none" stroke="#33373b" stroke-width="0.8"/>
<path d="M30 744.6 L26.5 748.1" fill="none" stroke="#222" stroke-width="0.8"/>
<path d="M816 751.2 L815.4 748.8 L813.6 748.8 L813 751.2Z" fill="#2a2d31"/>
<path d="M802 751.2 L801.4 748.2 L798.2 748.2 L797.6 751.2Z" fill="#2a2d31"/>
<path d="M794 751.2 L793.4 749.16 L792.5 747.8 L790.25 747.97 L789 749.5 L789 751.2 L790.4 751.2 L790.6 749.67 L790.5 749.092 L792.25 749.16 L792.4 750.18 L792.4 751.2Z" fill="#23262a"/>
<path d="M786 751.2 L785.4 748.08 L783.12 746 L778.8 746.26 L776.4 748.6 L776.4 751.2 L777.8 751.2 L778 748.86 L779.28 747.976 L782.64 748.08 L784.4 749.64 L784.4 751.2Z" fill="#23262a"/>
<path d="M773 751.2 L772.4 749.2 L770.6 749.2 L770 751.2Z" fill="#2a2d31"/>
<path d="M763 747 L754 747 L754 748.2 L763 748.2Z" fill="#23262a"/>
<path d="M759.2 747 L757.8 747 L757.8 751.2 L759.2 751.2Z" fill="#23262a"/>
<path d="M751 751.227 L750.4 748.467 L748.6 746.627 L745 746.857 L743 748.927 L743 751.227 L744.4 751.227 L744.6 749.157 L745.4 748.375 L748.2 748.467 L749.4 749.847 L749.4 751.227Z" fill="#23262a"/>
<path d="M742 751.253 L741.4 748.733 L739.9 747.053 L736.75 747.263 L735 749.153 L735 751.253 L736.4 751.253 L736.6 749.363 L737.1 748.649 L739.55 748.733 L740.4 749.993 L740.4 751.253Z" fill="#23262a"/>
<path d="M734 751.266 L733.4 747.866 L730.6 747.866 L730 751.266Z" fill="#2a2d31"/>
<path d="M724 751.307 L723.4 748.907 L721.9 747.307 L718.75 747.506 L717 749.307 L717 751.307 L718.4 751.307 L718.6 749.506 L719.1 748.827 L721.55 748.907 L722.4 750.107 L722.4 751.307Z" fill="#23262a"/>
<path d="M716.4 751.319 L715.8 746.919 L711.4 746.919 L710.8 751.319Z" fill="#2a2d31"/>
<path d="M708 751.344 L707.4 748.744 L704.6 748.744 L704 751.344Z" fill="#2a2d31"/>
<path d="M696 751.38 L695.4 748.98 L691.6 748.98 L691 751.38Z" fill="#2a2d31"/>
<path d="M686 751.41 L685.4 748.81 L680.6 748.81 L680 751.41Z" fill="#2a2d31"/>
<path d="M210 749.7 L209.4 747.54 L207.6 746.1 L204 746.28 L202 747.9 L202 749.7 L203.4 749.7 L203.6 748.08 L204.4 747.468 L207.2 747.54 L208.4 748.62 L208.4 749.7Z" fill="#23262a"/>
<path d="M198 748.9 L197.4 746.3 L193.6 746.3 L193 748.9Z" fill="#2a2d31"/>
<path d="M188 747.533 L187.4 744.893 L185.3 743.133 L181.25 743.353 L179 745.333 L179 747.533 L180.4 747.533 L180.6 745.553 L181.7 744.805 L184.85 744.893 L186.4 746.213 L186.4 747.533Z" fill="#23262a"/>
<path d="M176 746.867 L175.4 744.467 L172.6 744.467 L172 746.867Z" fill="#2a2d31"/>
<path d="M158 745.758 L157.4 743.358 L155.6 741.758 L152 741.958 L150 743.758 L150 745.758 L151.4 745.758 L151.6 743.958 L152.4 743.278 L155.2 743.358 L156.4 744.558 L156.4 745.758Z" fill="#23262a"/>
<path d="M149 745.723 L148.4 743.083 L146.9 741.323 L143.75 741.543 L142 743.523 L142 745.723 L143.4 745.723 L143.6 743.743 L144.1 742.995 L146.55 743.083 L147.4 744.403 L147.4 745.723Z" fill="#23262a"/>
<path d="M134 745.675 L133.4 743.075 L128.6 743.075 L128 745.675Z" fill="#2a2d31"/>
<path d="M114 745.536 L113.4 743.136 L109.6 743.136 L109 745.536Z" fill="#2a2d31"/>
<path d="M99 745.056 L98.4 742.456 L95.6 742.456 L95 745.056Z" fill="#2a2d31"/>
<path d="M82 744.512 L81.4 741.512 L77.6 741.512 L77 744.512Z" fill="#2a2d31"/>
<path d="M50 743.344 L49.4 740.944 L46.6 740.944 L46 743.344Z" fill="#2a2d31"/>
<circle cx="91" cy="747" r="1.5" fill="#dfe3e5" stroke="#23262a" stroke-width="0.5"/>
<path d="M816 748.8 L676 749.2" fill="none" stroke="#9a9ea2" stroke-width="0.4"/>
<path d="M216 747.8 L164 743.6 L116 743.2 L31 740.4" fill="none" stroke="#a0a4a8" stroke-width="0.4"/>
<path d="M672 751.8 L672 746.3 L664 739.6 L652 738 L633.8 738 L628.8 741.6 L628.8 751.8Z" fill="#a9b3ba" stroke="#20242a" stroke-width="0.5" stroke-linejoin="round"/>
<path d="M652 738 L644 738 L654 751.8 L663 751.8Z" fill="#4c545c"/>
<path d="M643.8 740 L636.8 740 L636.8 743.6 L643.8 743.6Z" fill="#dfe4e6" stroke="#20242a" stroke-width="0.4" stroke-linejoin="round"/>
<path d="M672 746.3 L664 739.6 L661 739.2 L668 751.8Z" fill="#6a737b"/>
<path d="M663 745.8 L650 749.3 L658 751.8 L663 751.8Z" fill="#4e6e88"/>
<path d="M711.2 743.3 L669 742.9 L669 745.5 L711.2 745.1Z" fill="#5d6166" stroke="#25282c" stroke-width="0.3" stroke-linejoin="round"/>
<path d="M663 732.6 L647.5 732.6 L647.5 738 L663 738Z" fill="#2c3035"/>
<path d="M660.5 734 L658.5 734 L658.5 736.6 L660.5 736.6Z" fill="#d0d5d8"/>
<path d="M656.5 734 L654.5 734 L654.5 736.6 L656.5 736.6Z" fill="#d0d5d8"/>
<path d="M652.5 734 L650.5 734 L650.5 736.6 L652.5 736.6Z" fill="#d0d5d8"/>
<path d="M657 730.2 L653.4 730.2 L653.4 732.8 L657 732.8Z" fill="#2c3035"/>
<path d="M624 740.6 L566 740.6 L566 751.8 L624 751.8Z" fill="#36414e" stroke="#15171a" stroke-width="0.4" stroke-linejoin="round"/>
<path d="M616 741 L616 737.6 L613 734.8 L598 734.4 L596 736.6 L596 741Z" fill="#4b5561" stroke="#15171a" stroke-width="0.5" stroke-linejoin="round"/>
<path d="M613 735.8 L602 735.2 L608 740.6 L614 740.6Z" fill="#c5d0d6"/>
<path d="M629.6 736.2 L615 735.8 L615 737.8 L629.6 737.4Z" fill="#5d6166" stroke="#25282c" stroke-width="0.3" stroke-linejoin="round"/>
<path d="M624.5 741.6 L620.5 741.6 L620.5 751.6 L624.5 751.6Z" fill="#23272c"/>
<path d="M627.6 744 L625.6 744 L625.6 751.6 L627.6 751.6Z" fill="#23272c"/>
<path d="M616 742.6 L594 742.6 L600 751.2 L618 751.2Z" fill="#6a7f94" opacity="0.8"/>
<path d="M612 742.6 L604 742.6 L610 751.2 L616 751.2Z" fill="#2a323c"/>
<path d="M590 744.2 L587 744.2 L587 748.6 L590 748.6Z" fill="#8a9aa8" opacity="0.6"/>
<path d="M585 744.2 L582 744.2 L582 748.6 L585 748.6Z" fill="#8a9aa8" opacity="0.6"/>
<path d="M580 744.2 L577 744.2 L577 748.6 L580 748.6Z" fill="#8a9aa8" opacity="0.6"/>
<path d="M575 744.2 L572 744.2 L572 748.6 L575 748.6Z" fill="#8a9aa8" opacity="0.6"/>
<path d="M596 730.4 L568.8 730.4 L568.8 741.4 L596 741.4Z" fill="#4a5866" stroke="#15171a" stroke-width="0.5" stroke-linejoin="round"/>
<path d="M595.6 730.8 L569.2 730.8 L569.2 732 L595.6 732Z" fill="#8a98a4"/>
<path d="M583.6 732 L582.4 732 L582.4 741 L583.6 741Z" fill="#3b4754"/>
<path d="M594 733.6 L585 733.6 L585 739.6 L594 739.6Z" fill="#5d6c7a"/>
<path d="M581 733.6 L571 733.6 L571 739.6 L581 739.6Z" fill="#5d6c7a"/>
<path d="M595.8 734.6 L594.2 734.6 L594.2 739.2 L595.8 739.2Z" fill="#eef0f1"/>
<path d="M578.7 717.8 L569.7 717.8 L569.7 730.6 L578.7 730.6Z" fill="#22262a"/>
<path d="M576.6 719.6 L574.8 719.6 L574.8 723 L576.6 723Z" fill="#d5dade"/>
<path d="M573.2 719.6 L571.4 719.6 L571.4 723 L573.2 723Z" fill="#d5dade"/>
<path d="M576.4 725.2 L571.4 725.2 L571.4 727.2 L576.4 727.2Z" fill="#e8ebed"/>
<path d="M589.6 726.2 L580.8 726.2 L580.8 730.6 L589.6 730.6Z" fill="#2a2f34"/>
<path d="M588.4 727 L586.4 727 L586.4 729.4 L588.4 729.4Z" fill="#d5dade"/>
<path d="M584.6 727 L582.6 727 L582.6 729.4 L584.6 729.4Z" fill="#d5dade"/>
<path d="M568.8 732.6 L560 730.6 L549 728.6 L549 751.8 L568.8 751.8Z" fill="#2c333b"/>
<path d="M567.4 736.4 L566.1 736.4 L566.1 741.2 L567.4 741.2Z" fill="#eef0f1"/>
<path d="M564.4 736.4 L563.1 736.4 L563.1 741.2 L564.4 741.2Z" fill="#eef0f1"/>
<path d="M567.4 738.2 L563.1 738.2 L563.1 739.3 L567.4 739.3Z" fill="#eef0f1"/>
<path d="M562 736.4 L560.8 736.4 L560.8 741.2 L562 741.2Z" fill="#eef0f1"/>
<path d="M558.8 736.4 L557.6 736.4 L557.6 741.2 L558.8 741.2Z" fill="#eef0f1"/>
<path d="M558.8 736.4 L557.6 736.4 L560.8 741.2 L562 741.2Z" fill="#eef0f1"/>
<path d="M569.6 751.6 L568 745.6 L564 744 L554 744 L552.6 751.6Z" fill="#c8cfd5" stroke="#15171a" stroke-width="0.5" stroke-linejoin="round"/>
<path d="M566 749.6 L564 746.2 L556 746.2 L555 749.6Z" fill="#8a949c"/>
<path d="M559 732.6 L553 743.6" fill="none" stroke="#15171a" stroke-width="0.7"/>
<path d="M555 730.2 L550 741.6" fill="none" stroke="#15171a" stroke-width="0.7"/>
<path d="M557.4 732 L555.4 732 L555.4 734 L557.4 734Z" fill="#dfe3e6"/>
<path d="M552.1 651.6 L549.5 651.6 L549 726.6 L552.6 726.6Z" fill="#8b9298" stroke="#30343a" stroke-width="0.35" stroke-linejoin="round"/>
<path d="M551 609.6 L551 651.6" fill="none" stroke="#3c4046" stroke-width="1.0"/>
<path d="M575 630.6 L551 649.1" fill="none" stroke="#30343a" stroke-width="0.7"/>
<path d="M554 663 L548.6 663 L548.6 668.4 L554 668.4Z" fill="#b4bbc0" stroke="#30343a" stroke-width="0.4" stroke-linejoin="round"/>
<path d="M554.6 689.6 L552.4 689.6 L552.4 694.6 L554.6 694.6Z" fill="#5a6168"/>
<path d="M555.4 723.6 L546.4 723.6 L546.4 729.6 L555.4 729.6Z" fill="#4a5158"/>
<path d="M548.9 731.3 L512.3 731.3 L512.3 751.8 L548.9 751.8Z" fill="#d5dadd" stroke="#15171a" stroke-width="0.5" stroke-linejoin="round"/>
<path d="M542.7 731.3 L524.7 731.3 L534.2 743.1 L535.6 751.8 L545.6 751.8 L545.6 742.2Z" fill="#7a8a98"/>
<path d="M524.7 731.3 L520 731.3 L530 751.8 L535.6 751.8 L534.2 743.1Z" fill="#9aa6b0" opacity="0.7"/>
<circle cx="538" cy="734.6" r="0.55" fill="#3a4450"/>
<circle cx="532" cy="734.6" r="0.55" fill="#3a4450"/>
<circle cx="540" cy="740.6" r="0.55" fill="#3a4450"/>
<circle cx="535" cy="740.2" r="0.55" fill="#3a4450"/>
<path d="M544 746.2 L539 746.2 L539 751.8 L544 751.8Z" fill="#5a6670"/>
<path d="M547 729.2 L547 709.9 L544.6 707 L516.6 703.2 L511.4 713.6 L510.8 731.2 L547 731.2Z" fill="#1e2226"/>
<path d="M544.1 710.8 L534.6 710 L539 723.2 L544.1 723.2Z" fill="#c8ced2"/>
<path d="M534.6 710 L527.5 709.2 L532.3 723.2 L539 723.2Z" fill="#8a9298"/>
<path d="M544.1 723.2 L524.7 723.2 L524.7 728.4 L544.1 728.4Z" fill="#6a7a88"/>
<path d="M540 724.2 L532 722 L526 724 L526 725.6 L540 726.2Z" fill="#4a5865"/>
<path d="M520.9 720.2 L520.9 715.6 L516.1 710.8 L511.8 715.6 L511.8 720.2Z" fill="#e2e5e7" stroke="#111315" stroke-width="1.0" stroke-linejoin="round"/>
<path d="M521.3 727.9 L521.3 724 L519.4 721.8 L513.6 721.8 L511.8 724 L511.8 727.9Z" fill="#dadee0" stroke="#111315" stroke-width="1.0" stroke-linejoin="round"/>
<path d="M520 727.9 L512.6 727.9 L512.6 740.3 L516.2 743.6 L520 740.3Z" fill="#c3c8cb" stroke="#111315" stroke-width="0.9" stroke-linejoin="round"/>
<path d="M517.4 723 L515.4 723 L515.4 740 L517.4 740Z" fill="#f2f3f4"/>
<path d="M526 706.1 L514.2 704.3 L506.6 704.2 L467.2 727.9" fill="none" stroke="#4a4e52" stroke-width="2.4"/>
<path d="M526 706.1 L514.2 704.3 L506.6 704.2 L467.2 727.9" fill="none" stroke="#d0d4d7" stroke-width="1.5"/>
<path d="M512 727.6 L471 727.6 L471 731.8 L512 731.8Z" fill="#101214"/>
<path d="M507 729.2 L505.6 729.2 L505.6 730.2 L507 730.2Z" fill="#dfe3e5"/>
<path d="M503 729.2 L501.6 729.2 L501.6 730.2 L503 730.2Z" fill="#dfe3e5"/>
<path d="M499 729.2 L497.6 729.2 L497.6 730.2 L499 730.2Z" fill="#dfe3e5"/>
<path d="M495 729.2 L493.6 729.2 L493.6 730.2 L495 730.2Z" fill="#dfe3e5"/>
<path d="M490 729.2 L488.6 729.2 L488.6 730.2 L490 730.2Z" fill="#dfe3e5"/>
<path d="M485 729.2 L483.6 729.2 L483.6 730.2 L485 730.2Z" fill="#dfe3e5"/>
<path d="M480 729.2 L478.6 729.2 L478.6 730.2 L480 730.2Z" fill="#dfe3e5"/>
<path d="M506.6 724.2 L504 725.6 L490 725.6 L487.6 724.2 L489.4 727.8 L504.6 727.8Z" fill="#2a2e32"/>
<path d="M483 726 L472 726 L472 727.8 L483 727.8Z" fill="#2d3237"/>
<path d="M511.7 731.8 L472 731.8 L472 752.5 L490 752.5 L494 751.2 L511.7 752.5Z" fill="#ffffff"/>
<path d="M472 730.3 L428.7 730.3 L428.7 751.8 L472 751.8Z" fill="#d0d4d6" stroke="#15171a" stroke-width="0.5" stroke-linejoin="round"/>
<path d="M472 730.3 L428.7 730.3 L428.7 737.1 L472 737.1Z" fill="#909498"/>
<path d="M472 730.3 L466 730.3 L466 751.8 L472 751.8Z" fill="#a4a9ad"/>
<path d="M449.5 730.3 L449.5 751.6" fill="none" stroke="#4a4e52" stroke-width="0.5"/>
<path d="M472 729 L428.7 729 L428.7 730.5 L472 730.5Z" fill="#15171a"/>
<path d="M472 730.3 L428.7 730.3 L428.7 751.8 L472 751.8Z" fill="#6a7a86" stroke="#15171a" stroke-width="0.5" stroke-linejoin="round" opacity="0.9"/>
<path d="M472 730.3 L428.7 730.3 L428.7 736.3 L472 736.3Z" fill="#54626e"/>
<path d="M464 739.6 L452 739.6 L452 747.6 L464 747.6Z" fill="#8694a0" opacity="0.8"/>
<path d="M449.5 730.3 L449.5 751.6" fill="none" stroke="#2a3038" stroke-width="0.5"/>
<path d="M466.4 729.6 L461.8 729.6 L461.8 751.6 L466.4 751.6Z" fill="#e0e3e5" stroke="#15171a" stroke-width="0.6" stroke-linejoin="round"/>
<path d="M467.4 723 L461.2 723 L461.2 731 L467.4 731Z" fill="#1d2024"/>
<path d="M465.4 724.2 L463.4 724.2 L463.4 729.2 L465.4 729.2Z" fill="#dfe3e5"/>
<path d="M459.4 725.8 L430.5 725.2 L433 729.2 L457 729.2Z" fill="#c0c6ca" stroke="#15171a" stroke-width="0.7" stroke-linejoin="round"/>
<path d="M458 727.2 L431.6 726.8 L433 729.2 L457 729.2Z" fill="#2a2e32"/>
<path d="M442 726 L440.6 726 L440.6 727.4 L442 727.4Z" fill="#e8eaec"/>
<path d="M439 726 L437.6 726 L437.6 727.4 L439 727.4Z" fill="#e8eaec"/>
<path d="M436 726 L434.6 726 L434.6 727.4 L436 727.4Z" fill="#e8eaec"/>
<path d="M446.3 717.6 L436.7 717.6 L436.7 725 L446.3 725Z" fill="#5a5e62" stroke="#15171a" stroke-width="0.4" stroke-linejoin="round"/>
<path d="M447.2 722.6 L442.2 722.6 L442.2 725.4 L447.2 725.4Z" fill="#8a1a1c"/>
<path d="M446 708.6 L438.7 708.2 L438.7 714.2 L446 714.2Z" fill="#1d2024"/>
<path d="M444 709.6 L442 709.6 L442 711.6 L444 711.6Z" fill="#e3e6e8"/>
<path d="M442 714.2 L442 717.6" fill="none" stroke="#1d2024" stroke-width="1"/>
<path d="M436.9 703.3 L408.5 698.8 L404.4 706.9 L404.4 728.6 L437.4 728.6Z" fill="#666c72" stroke="#15171a" stroke-width="0.6" stroke-linejoin="round"/>
<path d="M436.4 705.6 L429 704.2 L426 728.6 L437 728.6Z" fill="#8a9096"/>
<path d="M412 700.6 L408.5 698.8 L404.4 706.9 L404.4 728.6 L411 728.6Z" fill="#4a5056"/>
<path d="M436.9 703.3 L408.5 698.8 L406 704 L436 708Z" fill="#2a2d31"/>
<path d="M436 708 L406 704 L405 706.4 L435.6 710.4Z" fill="#40454a"/>
<path d="M428 712.6 L405 712" fill="none" stroke="#454a50" stroke-width="0.4"/>
<path d="M428 717.6 L405 717" fill="none" stroke="#454a50" stroke-width="0.4"/>
<path d="M428 722.6 L405 722" fill="none" stroke="#454a50" stroke-width="0.4"/>
<path d="M429.2 728.6 L402.2 728.6 L402.2 751.8 L429.2 751.8Z" fill="#46505c" stroke="#15171a" stroke-width="0.4" stroke-linejoin="round"/>
<circle cx="412" cy="731.6" r="0.55" fill="#2a3038"/>
<circle cx="408.4" cy="731.6" r="0.55" fill="#2a3038"/>
<circle cx="404.8" cy="731.6" r="0.55" fill="#2a3038"/>
<circle cx="411" cy="737.6" r="0.55" fill="#2a3038"/>
<circle cx="405" cy="737.6" r="0.55" fill="#2a3038"/>
<path d="M410 739.6 L402.2 739.6 L402.2 751.8 L416 751.8Z" fill="#5d6a76"/>
<path d="M428.7 751.8 L428.7 743.6 L414 743.6 L414 751.8Z" fill="#9a9ea2" stroke="#15171a" stroke-width="0.5" stroke-linejoin="round"/>
<path d="M428.7 743.6 L428.4 740.2 L426 738.4 L416.6 738.4 L414.2 740.2 L414 743.6Z" fill="#e6e8ea" stroke="#15171a" stroke-width="0.5" stroke-linejoin="round"/>
<path d="M425 744.6 L420 744.6 L420 751.2 L425 751.2Z" fill="#c8ccce" opacity="0.7"/>
<path d="M414 737.6 L410 744.6" fill="none" stroke="#e6e8ea" stroke-width="0.9"/>
<circle cx="422" cy="717.7" r="5.8" fill="#5a6068" stroke="#15171a" stroke-width="1.5"/>
<path d="M426 722.4 L423.2 722.4 L418 733 L426 733Z" fill="#e8eaec" stroke="#15171a" stroke-width="0.6" stroke-linejoin="round"/>
<path d="M409.4 659.6 L396.4 704" fill="none" stroke="#2c3035" stroke-width="0.7"/>
<path d="M396.4 704 L393 705.6" fill="none" stroke="#2c3035" stroke-width="0.7"/>
<path d="M403 728.6 L394.6 728.6 L394.6 751.8 L403 751.8Z" fill="#4a5664"/>
<path d="M406.5 734.6 L395 734.6 L395 743.1 L406.5 743.1Z" fill="#2e3640"/>
<path d="M395 728.6 L381 728.6 L381 745 L395 745Z" fill="#d5dce2"/>
<path d="M381 728.6 L368 728.6 L368 745 L381 745Z" fill="#7d8fa0"/>
<path d="M368 728.6 L358 728.6 L359.6 745 L368 745Z" fill="#d8dfe4"/>
<path d="M366 745 L362 735.6 L359 735.6 L359.6 745Z" fill="#dfe5e9"/>
<path d="M359.6 745 L358 735.6 L342.7 732.6 L342.7 745Z" fill="#7c848c"/>
<circle cx="400" cy="731.6" r="0.6" fill="#3a4654"/>
<circle cx="397" cy="731.6" r="0.6" fill="#3a4654"/>
<circle cx="392" cy="732" r="0.6" fill="#3a4654"/>
<circle cx="388" cy="732" r="0.6" fill="#3a4654"/>
<circle cx="384" cy="732" r="0.6" fill="#3a4654"/>
<circle cx="391" cy="738.6" r="0.6" fill="#3a4654"/>
<circle cx="385" cy="738.6" r="0.6" fill="#3a4654"/>
<circle cx="378" cy="732" r="0.6" fill="#3a4654"/>
<circle cx="372" cy="732" r="0.6" fill="#3a4654"/>
<circle cx="378" cy="739.2" r="0.6" fill="#3a4654"/>
<circle cx="372" cy="739.2" r="0.6" fill="#3a4654"/>
<circle cx="364" cy="732.2" r="0.6" fill="#3a4654"/>
<path d="M403 745 L389 745 L389 751.8 L403 751.8Z" fill="#4a5560"/>
<path d="M403 728 L343 728 L343 729 L403 729Z" fill="#15171a"/>
<path d="M392.6 705.6 L372.8 705.6 L372.8 728.6 L392.6 728.6Z" fill="#4a6070" stroke="#15171a" stroke-width="0.5" stroke-linejoin="round"/>
<path d="M384 708.6 L374 708.6 L374 719.6 L383 717.6Z" fill="#3d5060"/>
<path d="M392.6 720.2 L372.8 720.2 L372.8 728.6 L392.6 728.6Z" fill="#303840"/>
<path d="M390 721.6 L376 721.6 L376 724.6 L390 724.6Z" fill="#aeb8c0"/>
<path d="M390.8 707.6 L384.6 707.6 L384.6 717.6 L390.8 717.6Z" fill="#dfe3e6" stroke="#15171a" stroke-width="0.4" stroke-linejoin="round"/>
<path d="M389 709.6 L387.4 709.6 L387.4 715.6 L389 715.6Z" fill="#6a7680"/>
<path d="M392.8 682.6 L373.4 682.6 L373.4 705 L392.8 705Z" fill="#3f4c58" stroke="#15171a" stroke-width="0.5" stroke-linejoin="round"/>
<path d="M374 697.6 L367 697.6 L367 705 L374 705Z" fill="#3f4c58" stroke="#15171a" stroke-width="0.4" stroke-linejoin="round"/>
<path d="M390 691 L380 691 L380 693.4 L390 693.4Z" fill="#8b98a3"/>
<path d="M389 696.6 L378 696.6 L378 701 L389 701Z" fill="#8e9aa6"/>
<path d="M387.6 697.6 L379.6 697.6 L379.6 699.8 L387.6 699.8Z" fill="#3f4c58"/>
<path d="M389.4 686 L384.8 686 L384.8 688.4 L389.4 688.4Z" fill="#d6dbde"/>
<path d="M399.4 704.4 L365.4 704.4 L365.4 706.6 L399.4 706.6Z" fill="#23272b"/>
<path d="M399 685 L371 685 L371 688.4 L399 688.4Z" fill="#23272b"/>
<path d="M395.4 685.6 L393.2 685.6 L393.2 687.8 L395.4 687.8Z" fill="#dfe3e6"/>
<path d="M389.5 682.6 L392.1 672.2 L381.1 672.2 L383.5 682.6Z" fill="#2c3136"/>
<path d="M390.4 673.6 L386.6 681.2 L382.8 673.6Z" fill="#cfd4d8"/>
<circle cx="386.6" cy="676" r="1.6" fill="#2c3136"/>
<circle cx="386.4" cy="680.2" r="1.5" fill="#e6e9eb"/>
<path d="M386.7 665.6 L386.7 672.6" fill="none" stroke="#23272b" stroke-width="0.9"/>
<path d="M377.3 670.6 L377.3 677.6" fill="none" stroke="#23272b" stroke-width="0.6"/>
<path d="M381.1 673 L377.3 672" fill="none" stroke="#23272b" stroke-width="0.5"/>
<path d="M371 688.6 L363.6 687.3 L362.8 697.6 L370 697.6Z" fill="#39424b" stroke="#15171a" stroke-width="0.4" stroke-linejoin="round"/>
<circle cx="366.6" cy="691" r="2.2" fill="#e3e7ea"/>
<path d="M370 693.6 L367 693.6 L367 696.6 L370 696.6Z" fill="#e3e7ea"/>
<path d="M372.4 710.2 L348 709.6 L341.7 713.6 L341.7 732.6 L358 735.6 L372.4 729Z" fill="#3a4650" stroke="#15171a" stroke-width="0.5" stroke-linejoin="round"/>
<path d="M371 711.6 L349 711 L343 714.6 L343 719.6 L371 719.6Z" fill="#5c6a74"/>
<path d="M372 721 L344 721 L344 722.4 L372 722.4Z" fill="#2b3036"/>
<path d="M369 723.6 L367.8 723.6 L367.8 728.6 L369 728.6Z" fill="#d6dbde"/>
<path d="M365 723.6 L363.8 723.6 L363.8 728.6 L365 728.6Z" fill="#d6dbde"/>
<path d="M361 723.6 L359.8 723.6 L359.8 728.6 L361 728.6Z" fill="#d6dbde"/>
<path d="M357 723.6 L355.8 723.6 L355.8 728.6 L357 728.6Z" fill="#d6dbde"/>
<path d="M353 723.6 L351.8 723.6 L351.8 728.6 L353 728.6Z" fill="#d6dbde"/>
<path d="M349 723.6 L347.8 723.6 L347.8 728.6 L349 728.6Z" fill="#d6dbde"/>
<path d="M389 744.8 L287.5 744.8 L287.5 751.8 L389 751.8Z" fill="#1d2126"/>
<ellipse cx="384.7" cy="748.1" rx="1.3" ry="1.9" fill="#e8ebed"/>
<ellipse cx="380.7" cy="748.1" rx="1.3" ry="1.9" fill="#e8ebed"/>
<ellipse cx="376.7" cy="748.1" rx="1.3" ry="1.9" fill="#e8ebed"/>
<ellipse cx="372.7" cy="748.1" rx="1.3" ry="1.9" fill="#e8ebed"/>
<ellipse cx="368.7" cy="748.1" rx="1.3" ry="1.9" fill="#e8ebed"/>
<ellipse cx="364.7" cy="748.1" rx="1.3" ry="1.9" fill="#e8ebed"/>
<ellipse cx="360.7" cy="748.1" rx="1.3" ry="1.9" fill="#e8ebed"/>
<ellipse cx="356.7" cy="748.1" rx="1.3" ry="1.9" fill="#e8ebed"/>
<path d="M354 746.6 L351.6 746.6 L351.6 749.8 L354 749.8Z" fill="#8a949c" opacity="0.7"/>
<path d="M350 746.6 L347.6 746.6 L347.6 749.8 L350 749.8Z" fill="#8a949c" opacity="0.7"/>
<path d="M346 746.6 L343.6 746.6 L343.6 749.8 L346 749.8Z" fill="#8a949c" opacity="0.7"/>
<ellipse cx="340.7" cy="748.1" rx="1.3" ry="1.9" fill="#e8ebed"/>
<ellipse cx="336.7" cy="748.1" rx="1.3" ry="1.9" fill="#e8ebed"/>
<ellipse cx="332.7" cy="748.1" rx="1.3" ry="1.9" fill="#e8ebed"/>
<ellipse cx="328.7" cy="748.1" rx="1.3" ry="1.9" fill="#e8ebed"/>
<ellipse cx="324.7" cy="748.1" rx="1.3" ry="1.9" fill="#e8ebed"/>
<ellipse cx="320.7" cy="748.1" rx="1.3" ry="1.9" fill="#e8ebed"/>
<ellipse cx="316.7" cy="748.1" rx="1.3" ry="1.9" fill="#e8ebed"/>
<ellipse cx="312.7" cy="748.1" rx="1.3" ry="1.9" fill="#e8ebed"/>
<path d="M310 746.6 L307.6 746.6 L307.6 749.8 L310 749.8Z" fill="#8a949c" opacity="0.7"/>
<path d="M306 746.6 L303.6 746.6 L303.6 749.8 L306 749.8Z" fill="#8a949c" opacity="0.7"/>
<path d="M302 746.6 L299.6 746.6 L299.6 749.8 L302 749.8Z" fill="#8a949c" opacity="0.7"/>
<path d="M298 746.6 L295.6 746.6 L295.6 749.8 L298 749.8Z" fill="#8a949c" opacity="0.7"/>
<path d="M294 746.6 L291.6 746.6 L291.6 749.8 L294 749.8Z" fill="#8a949c" opacity="0.7"/>
<path d="M373.5 706.5 L393 706.5 L382.5 752 L355.5 752Z" fill="#4c5668" opacity="0.88"/>
<circle cx="378" cy="713.6" r="0.6" fill="#2a3240"/>
<circle cx="382" cy="721.6" r="0.6" fill="#2a3240"/>
<circle cx="376" cy="723.6" r="0.6" fill="#2a3240"/>
<circle cx="374" cy="733.6" r="0.6" fill="#2a3240"/>
<circle cx="368" cy="735.6" r="0.6" fill="#2a3240"/>
<circle cx="372" cy="743.6" r="0.6" fill="#2a3240"/>
<circle cx="364" cy="745.6" r="0.6" fill="#2a3240"/>
<path d="M340 743.6 L340 735.6 L339.4 727.6 L334 724.8 L304 724.8 L296.5 730.6 L296.5 743.6Z" fill="#5a6672" stroke="#15171a" stroke-width="0.6" stroke-linejoin="round"/>
<path d="M339.4 727.6 L334 724.8 L316 724.8 L308 730.6 L326 730.6 L332 735.6 L340 735.6Z" fill="#3a424c"/>
<path d="M326 730.6 L304 730.6 L300 735.6 L330 735.6Z" fill="#c0ccd4"/>
<path d="M315 724.8 L304 724.8 L296.5 730.6 L296.5 743.6 L300 743.6Z" fill="#4c545c"/>
<path d="M338 736.6 L298 736.6 L297 743.6 L339 743.6Z" fill="#8a9298"/>
<path d="M328 737.2 L308 737.2 L307 740 L329 740Z" fill="#b5bcc2" opacity="0.7"/>
<path d="M331 725.6 L324.5 725.6 L324.5 729.1 L331 729.1Z" fill="#eef1f3" stroke="#15171a" stroke-width="0.4" stroke-linejoin="round"/>
<path d="M322 724.8 L321 721.2 L317 719.2 L310 719.2 L305.5 722.6 L305.5 724.8Z" fill="#2a3038"/>
<path d="M318 724.2 L316.4 720.6 L311 720.6 L311 724.2Z" fill="#6a7a88"/>
<path d="M315 717.4 L311 717.4 L311 719.4 L315 719.4Z" fill="#2a3038"/>
<path d="M297 730 L257.5 730.8 L257.5 732.5 L297 733.2Z" fill="#5a6066" stroke="#25282c" stroke-width="0.3" stroke-linejoin="round"/>
<path d="M341 735.6 L329.5 735.6 L329.5 740.6 L341 740.6Z" fill="#f2f4f5" stroke="#15171a" stroke-width="0.3" stroke-linejoin="round"/>
<path d="M282.5 751 L282.5 740.6 L279 736.4 L273 735.1 L246 735.1 L238.8 738.6 L238.8 751Z" fill="#8a9aa6" stroke="#15171a" stroke-width="0.6" stroke-linejoin="round"/>
<path d="M282.5 740.6 L279 736.4 L273 735.1 L270 735.1 L271 751 L282.5 751Z" fill="#4a5560"/>
<path d="M252 735.1 L246 735.1 L238.8 738.6 L238.8 751 L252 751Z" fill="#6f7d88"/>
<path d="M279 734.8 L245 734.8 L245 735.9 L279 735.9Z" fill="#343a42"/>
<path d="M270 741.6 L252 741.6 L252 747.2 L270 747.2Z" fill="#a9b6c0" opacity="0.8"/>
<path d="M273.5 736 L267.5 736 L267.5 738.8 L273.5 738.8Z" fill="#dfe6ec" stroke="#15171a" stroke-width="0.4" stroke-linejoin="round"/>
<path d="M272 736.6 L269.6 736.6 L269.6 738.2 L272 738.2Z" fill="#6a7fa0"/>
<path d="M241 741.4 L200.4 741.8 L200.4 743.4 L241 744Z" fill="#5d6166" stroke="#25282c" stroke-width="0.3" stroke-linejoin="round"/>
<path d="M294 743.6 L282.4 743.6 L282.4 751.8 L294 751.8Z" fill="#262a30"/>
<path d="M284.5 746.1 L272.5 746.1 L272.5 751.5 L284.5 751.5Z" fill="#f2f4f5" stroke="#15171a" stroke-width="0.3" stroke-linejoin="round"/>
<path d="M292.6 744.2 L291.4 744.2 L291.4 747.6 L292.6 747.6Z" fill="#e0e3e5"/>
<path d="M290 744.2 L288.8 744.2 L288.8 747.6 L290 747.6Z" fill="#e0e3e5"/>
<path d="M287.4 744.2 L286.2 744.2 L286.2 747.6 L287.4 747.6Z" fill="#e0e3e5"/>
<path d="M762 774.6 L55.1 774.6 L54.5 778.6 L55.7 786.6 L56 798.3 L738 798.3 L744 796.6 L749 793.1 L752 789.6 L760 789.6 L761 781.6Z" fill="url(#redBot)"/>
<path d="M762 774.6 L55.1 774.6 L54.5 778.6 L55.7 786.6 L56 798.3 L738 798.3 L744 796.6 L749 793.1 L752 789.6 L760 789.6 L761 781.6Z" fill="url(#shadeV)"/>
<g mask="url(#mMidB)"><path d="M762 774.6 L55.1 774.6 L54.5 778.6 L55.7 786.6 L56 798.3 L738 798.3 L744 796.6 L749 793.1 L752 789.6 L760 789.6 L761 781.6Z" fill="url(#shadeMid)"/></g>
<path d="M762 774.6 L566 774.6 L566 798.3 L738 798.3 L744 796.6 L749 793.1 L752 789.6 L760 789.6 L761 781.6Z" fill="url(#sternDarkM)"/>
<path d="M738 783.1 L735 780.2 L728 779.6 L706 781.6 L671 785.6 L641 790.1 L686 790.1 L726 789.1 L736 787.1Z" fill="#e2431b"/><path d="M734 782.1 L728 781.2 L696 784.1 L656 788.6 L696 786.8 L730 785.1Z" fill="#f2602a" opacity="0.8"/>
<path d="M819.8 751.2 L756 751.2 L556 751.8 L296 751.8 L256 751.6 L220 751.1 L191 748.2 L164 745.8 L116 745.6 L66 744 L27 742.4 L30 745.8 L38 752.6 L44 758.8 L49 765.6 L51.8 770.9 L796 770.9 L812 773.1 L817 769.1 L820 763.6 L820.6 757.6Z" fill="#8e9398"/>
<path d="M27 742.4 L100 745.6 L154.4 748.6 L168.4 770.6 L52 770.6 L48 764 L38 754Z" fill="#8e9398"/>
<path d="M154.4 748.6 L164 748.4 L220 751.1 L221.6 751.5 L221.6 770.6 L168.4 770.6Z" fill="#58626b"/>
<path d="M164 748.2 L220 751.1 L206 758.8Z" fill="#7b858c"/>
<path d="M221.6 751.5 L250 751.8 L250 770.6 L221.6 770.6Z" fill="#8b9497"/>
<path d="M250 751.8 L261 751.8 L264 770.6 L250 770.6Z" fill="#74808a"/>
<path d="M241 751.8 L260 751.8 L263 770.6 L234 770.6Z" fill="#6a747c"/>
<path d="M261 751.8 L351.6 751.8 L342 767.6 L344 770.6 L264 770.6Z" fill="#c2c9ce"/>
<path d="M265 766.5 L314 760 L342 767.6 L344 770.6 L264 770.6Z" fill="#aab3ba"/>
<path d="M351.6 751.8 L379.8 751.8 L379.8 770.6 L343 770.6 L342 767.6Z" fill="#676b74"/>
<path d="M379.8 751.8 L386.4 751.8 L379.8 768.8Z" fill="#c2c9ce"/>
<path d="M386.4 751.8 L400.2 751.8 L379.8 768.8Z" fill="#9aa6ae"/>
<path d="M400.2 751.8 L498 751.8 L507.6 769.6 L498 770.6 L432 755 L379.8 768.8Z" fill="#c2c9ce"/>
<path d="M379.8 768.8 L432 755 L498 769.2 L498 770.6 L379.8 770.6Z" fill="#676b74"/>
<path d="M498 751.8 L506 751.8 L507.6 769.6Z" fill="#9fb0bb"/>
<path d="M506 751.8 L520.4 751.8 L510.8 769.6 L507.6 769.6Z" fill="#c2c9ce"/>
<path d="M520.4 751.8 L533.2 751.8 L520.4 765.6 L514 770.6 L507.6 770.6 L510.8 769.6Z" fill="#676b74"/>
<path d="M533.2 751.8 L626 751.8 L520.4 765.6Z" fill="#c2c9ce"/>
<path d="M560 757.4 L626 751.8 L520.4 765.6Z" fill="#aab3ba"/>
<path d="M520.4 765.6 L626 751.8 L640 751.8 L640 770.6 L514 770.6Z" fill="#676b74"/>
<path d="M640 751.8 L733.4 751.8 L728 770.6 L640 770.6Z" fill="#58626b"/>
<path d="M733.4 751.8 L819.6 751.7 L820.3 758 L820 764 L816 770 L811 773 L728 770.6Z" fill="#777b7f"/>
<path d="M820 762.6 L52 762.6 L52 770.9 L816 770.9Z" fill="#000" opacity="0.07"/>
<path d="M800 756.2 L783 756.2 L783 757.1 L800 757.1Z" fill="#2a2d31"/>
<path d="M798 759 L785 759 L785 759.7 L798 759.7Z" fill="#2a2d31"/>
<path d="M790 761 L776 761 L776 763 L790 763Z" fill="none" stroke="#2a2d31" stroke-width="0.4" stroke-linejoin="round"/>
<path d="M804 769.2 L656 769.9 L256 770.7 L51.6 771.2 L53.7 775 L256 774.4 L656 773.2 L744 774.6 L762 778.1 L796 778.6 L809 775.6 L816 770.1Z" fill="#17191b"/>
<path d="M819.8 751.2 L756 751.2 L556 751.8 L296 751.8 L256 751.6 L220 751.1 L191 748.2 L164 745.8 L116 745.6 L66 744 L27 742.4 L30 745.8 L38 752.6 L44 758.8 L49 765.6 L52.5 772.1 L54.5 778.6 L55.7 786.6 L56 797.4" fill="none" stroke="#1c1e20" stroke-width="0.7"/>
<path d="M804 775.6 L812 773.1 L817 769.1 L820 763.6 L820.6 757.6 L819.8 751.2" fill="none" stroke="#1c1e20" stroke-width="0.7"/>
<circle cx="756" cy="758.7" r="0.55" fill="#23262a"/>
<circle cx="742" cy="758.742" r="0.55" fill="#23262a"/>
<circle cx="728" cy="758.784" r="0.55" fill="#23262a"/>
<circle cx="714" cy="758.826" r="0.55" fill="#23262a"/>
<circle cx="700" cy="758.868" r="0.55" fill="#23262a"/>
<circle cx="686" cy="758.91" r="0.55" fill="#23262a"/>
<circle cx="672" cy="758.952" r="0.55" fill="#23262a"/>
<circle cx="658" cy="758.994" r="0.55" fill="#23262a"/>
<circle cx="644" cy="759.036" r="0.55" fill="#23262a"/>
<circle cx="630" cy="759.078" r="0.55" fill="#23262a"/>
<circle cx="616" cy="759.12" r="0.55" fill="#23262a"/>
<circle cx="602" cy="759.162" r="0.55" fill="#23262a"/>
<circle cx="588" cy="759.204" r="0.55" fill="#23262a"/>
<circle cx="574" cy="759.246" r="0.55" fill="#23262a"/>
<circle cx="560" cy="759.288" r="0.55" fill="#23262a"/>
<circle cx="546" cy="759.3" r="0.55" fill="#23262a"/>
<circle cx="532" cy="759.3" r="0.55" fill="#23262a"/>
<circle cx="252" cy="759.044" r="0.55" fill="#23262a"/>
<circle cx="238" cy="758.85" r="0.55" fill="#23262a"/>
<circle cx="224" cy="758.656" r="0.55" fill="#23262a"/>
<circle cx="210" cy="756.5" r="0.55" fill="#23262a"/>
<circle cx="204" cy="762.1" r="0.55" fill="#23262a"/>
<circle cx="196" cy="755.1" r="0.55" fill="#23262a"/>
<circle cx="190" cy="760.711" r="0.55" fill="#23262a"/>
<circle cx="182" cy="753.8" r="0.55" fill="#23262a"/>
<circle cx="176" cy="759.467" r="0.55" fill="#23262a"/>
<circle cx="168" cy="752.556" r="0.55" fill="#23262a"/>
<circle cx="162" cy="758.392" r="0.55" fill="#23262a"/>
<circle cx="154" cy="752.158" r="0.55" fill="#23262a"/>
<circle cx="148" cy="758.333" r="0.55" fill="#23262a"/>
<circle cx="140" cy="752.1" r="0.55" fill="#23262a"/>
<circle cx="134" cy="758.275" r="0.55" fill="#23262a"/>
<circle cx="126" cy="752.042" r="0.55" fill="#23262a"/>
<circle cx="120" cy="758.217" r="0.55" fill="#23262a"/>
<circle cx="112" cy="751.872" r="0.55" fill="#23262a"/>
<circle cx="106" cy="757.88" r="0.55" fill="#23262a"/>
<circle cx="98" cy="751.424" r="0.55" fill="#23262a"/>
<circle cx="92" cy="757.432" r="0.55" fill="#23262a"/>
<circle cx="84" cy="750.976" r="0.55" fill="#23262a"/>
<circle cx="78" cy="756.984" r="0.55" fill="#23262a"/>
<circle cx="70" cy="750.528" r="0.55" fill="#23262a"/>
<circle cx="64" cy="756.518" r="0.55" fill="#23262a"/>
<path d="M791 778.6 L775.5 778.6 L777.7 791.8 L788.5 791.8Z" fill="#c6381b" stroke="#5a1a10" stroke-width="0.5" stroke-linejoin="round"/>
<path d="M788 779.6 L783 779.6 L784 791.1 L787 791.1Z" fill="#e05a30" opacity="0.6"/>
<path d="M759 775.2 L748 775.2 L749.7 788.6 L757 788.6Z" fill="#c6381b" stroke="#5a1a10" stroke-width="0.5" stroke-linejoin="round"/>
<path d="M756.5 776.1 L753 776.1 L753.5 788.1 L755.5 788.1Z" fill="#e05a30" opacity="0.6"/>
<path d="M773 788.2 L745 788.2 L743 792 L768 792Z" fill="#1b1210"/>
<path d="M768.9 784.2 L767.3 787.6 L767.9 789.6 L769.5 787.1Z" fill="#d9c36a" stroke="#4a3c10" stroke-width="0.3" stroke-linejoin="round"/>
<path d="M769.1 795.2 L767.3 792 L767.9 790.2 L769.7 792.6Z" fill="#d9c36a" stroke="#4a3c10" stroke-width="0.3" stroke-linejoin="round"/>
<path d="M773 789 L768.5 788.6 L767.5 790 L772.5 790.6Z" fill="#e8d98a" stroke="#4a3c10" stroke-width="0.3" stroke-linejoin="round"/>
<path d="M739.2 784.2 L737.6 787.6 L738.2 789.6 L739.8 787.1Z" fill="#d9c36a" stroke="#4a3c10" stroke-width="0.3" stroke-linejoin="round"/>
<path d="M739.4 795.2 L737.6 792 L738.2 790.2 L740 792.6Z" fill="#d9c36a" stroke="#4a3c10" stroke-width="0.3" stroke-linejoin="round"/>
<path d="M743.3 789 L738.8 788.6 L737.8 790 L742.8 790.6Z" fill="#e8d98a" stroke="#4a3c10" stroke-width="0.3" stroke-linejoin="round"/>
<path d="M762 775.1 L762 781.6 L760 788.6" fill="none" stroke="#120808" stroke-width="1.2"/></g>
<g id="planes"><path d="M959 384.3 Q959 381.7 964 381.7 Q969.8 381.7 969.8 386.3 L969.8 416.3 Q969.8 420.9 964 420.9 Q959 420.9 959 418.3 L960.4 401.3Z" fill="#474f3d" stroke="#2b3026" stroke-width="0.6" stroke-linejoin="round"/>
<rect x="960.6" y="387.3" width="8.6" height="5" fill="#8a8f66" opacity="0.9"/>
<rect x="960.6" y="407.3" width="8.6" height="6" fill="#8a8f66" opacity="0.9"/>
<rect x="961" y="397.3" width="8" height="3" fill="#8a8f66" opacity="0.7"/>
<path d="M880.6 390.7 Q884 387.5 900 387.3 L924 387.7 Q938 389.1 943 390.7 Q938 392.3 924 393.7 L900 394.1 Q884 393.9 880.6 390.7Z" fill="#59614a" stroke="#2b3026" stroke-width="0.6" stroke-linejoin="round"/>
<path d="M886 389.1 L920 388.9 L930 390.1 L886 390.7Z" fill="#8a9066" opacity="0.8"/>
<path d="M880.6 412.9 Q884 409.7 900 409.5 L924 409.9 Q938 411.3 943 412.9 Q938 414.5 924 415.9 L900 416.3 Q884 416.1 880.6 412.9Z" fill="#59614a" stroke="#2b3026" stroke-width="0.6" stroke-linejoin="round"/>
<path d="M886 411.3 L920 411.1 L930 412.3 L886 412.9Z" fill="#8a9066" opacity="0.8"/>
<path d="M906.6 357.9 Q906.6 350.9 915 350.9 Q923.4 350.9 924 358.9 L926.8 389.3 L927 413.3 L924 443.7 Q923.4 451.7 915 451.7 Q906.6 451.7 906.6 444.7Z" fill="#474f3d" stroke="#2b3026" stroke-width="0.6" stroke-linejoin="round"/>
<path d="M907.4 367.3 L918 367.3 L918 379.3 L907.4 381.3Z" fill="#8a8f66" opacity="0.85"/>
<path d="M918 371.3 L925 375.3 L926.4 389.3 L919 389.3Z" fill="#8a8f66" opacity="0.7"/>
<path d="M907.4 409.3 L926 409.3 L924 423.3 L914 427.3 L907.4 421.3Z" fill="#8a8f66" opacity="0.85"/>
<path d="M917 429.3 L924 431.3 L923 443.3 L916 441.3Z" fill="#8a8f66" opacity="0.8"/>
<path d="M907.4 389.3 L926 389.3 L926 397.3 L907.4 395.3Z" fill="#3f4737" opacity="0.7"/>
<rect x="910.9" y="362" width="6.8" height="3" fill="#1f2320"/>
<rect x="912.8" y="360.1" width="3" height="6.8" fill="#1f2320"/>
<rect x="910.9" y="362.7" width="6.8" height="1.6" fill="#f6f7f6"/>
<rect x="913.5" y="360.1" width="1.6" height="6.8" fill="#f6f7f6"/>
<rect x="910.9" y="439" width="6.8" height="3" fill="#1f2320"/>
<rect x="912.8" y="437.1" width="3" height="6.8" fill="#1f2320"/>
<rect x="910.9" y="439.7" width="6.8" height="1.6" fill="#f6f7f6"/>
<rect x="913.5" y="437.1" width="1.6" height="6.8" fill="#f6f7f6"/>
<path d="M887.2 401.3 Q888 398.3 891 396.7 L902 395.9 L930 397.1 L958 399.7 L961 401.3 L958 402.9 L930 405.5 L902 406.7 L891 405.9 Q888 404.3 887.2 401.3Z" fill="#5a624a" stroke="#2b3026" stroke-width="0.6" stroke-linejoin="round"/>
<rect x="896" y="397.9" width="10" height="6.8" fill="#8b9166" opacity="0.85"/>
<rect x="907" y="397.7" width="14" height="7.2" fill="#3a4133" opacity="0.8"/>
<rect x="924" y="398.5" width="10" height="5.6" fill="#8b9166" opacity="0.6"/>
<rect x="890.6" y="396.9" width="3" height="8.8" fill="#2c3128"/>
<path d="M890 390.9 L890 412.7" fill="none" stroke="#24272a" stroke-width="0.8"/>
<path d="M890 390.9 L903 390.5" fill="none" stroke="#24272a" stroke-width="0.5"/>
<path d="M890 412.7 L903 413.1" fill="none" stroke="#24272a" stroke-width="0.5"/>
<circle cx="887.4" cy="401.3" r="1.1" fill="#d9dcde" stroke="#24272a" stroke-width="0.4"/>
<path d="M959 511 Q959 508.4 964 508.4 Q969.8 508.4 969.8 513 L969.8 543 Q969.8 547.6 964 547.6 Q959 547.6 959 545 L960.4 528Z" fill="#cbd5da" stroke="#7c868c" stroke-width="0.6" stroke-linejoin="round"/>
<path d="M964.8 510 L964.8 546" fill="none" stroke="#7c868c" stroke-width="0.5"/>
<rect x="965.4" y="512" width="3.6" height="32" fill="#aeb9bf" opacity="0.6"/>
<path d="M880.6 516.8 Q884 513.6 900 513.4 L924 513.8 Q938 515.2 943 516.8 Q938 518.4 924 519.8 L900 520.2 Q884 520 880.6 516.8Z" fill="#cbd5da" stroke="#7c868c" stroke-width="0.6" stroke-linejoin="round"/>
<rect x="939.6" y="516" width="3.4" height="1.6" fill="#2d3033" rx="0.8"/>
<path d="M884 517.2 L936 517.2" fill="none" stroke="#9aa5ab" stroke-width="0.5"/>
<path d="M880.6 539.6 Q884 536.4 900 536.2 L924 536.6 Q938 538 943 539.6 Q938 541.2 924 542.6 L900 543 Q884 542.8 880.6 539.6Z" fill="#cbd5da" stroke="#7c868c" stroke-width="0.6" stroke-linejoin="round"/>
<rect x="939.6" y="538.8" width="3.4" height="1.6" fill="#2d3033" rx="0.8"/>
<path d="M884 540 L936 540" fill="none" stroke="#9aa5ab" stroke-width="0.5"/>
<path d="M906.6 484 Q906.6 477 915 477 Q923.4 477 924 485 L926.8 516 L927 540 L924 571 Q923.4 579 915 579 Q906.6 579 906.6 572Z" fill="#cbd5da" stroke="#7c868c" stroke-width="0.6" stroke-linejoin="round"/>
<path d="M908 504 L919 504" fill="none" stroke="#7c868c" stroke-width="0.45"/>
<path d="M908 511 L919 511" fill="none" stroke="#7c868c" stroke-width="0.45"/>
<path d="M908 545 L919 545" fill="none" stroke="#7c868c" stroke-width="0.45"/>
<path d="M908 552 L919 552" fill="none" stroke="#7c868c" stroke-width="0.45"/>
<rect x="908.8" y="505.5" width="8.6" height="4.6" fill="none" stroke="#7c868c" stroke-width="0.5"/>
<rect x="908.8" y="546" width="8.6" height="4.6" fill="none" stroke="#7c868c" stroke-width="0.5"/>
<path d="M920 482 L922.4 516" fill="none" stroke="#7c868c" stroke-width="0.5"/>
<path d="M920 574 L922.4 540" fill="none" stroke="#7c868c" stroke-width="0.5"/>
<rect x="921.6" y="484" width="2.2" height="2.6" fill="none" stroke="#7c868c" stroke-width="0.4"/>
<rect x="921.6" y="544" width="2.2" height="2.4" fill="none" stroke="#7c868c" stroke-width="0.4"/>
<rect x="921.6" y="488" width="2.2" height="2.6" fill="none" stroke="#7c868c" stroke-width="0.4"/>
<rect x="921.6" y="547.6" width="2.2" height="2.4" fill="none" stroke="#7c868c" stroke-width="0.4"/>
<rect x="921.6" y="492" width="2.2" height="2.6" fill="none" stroke="#7c868c" stroke-width="0.4"/>
<rect x="921.6" y="551.2" width="2.2" height="2.4" fill="none" stroke="#7c868c" stroke-width="0.4"/>
<rect x="921.6" y="496" width="2.2" height="2.6" fill="none" stroke="#7c868c" stroke-width="0.4"/>
<rect x="921.6" y="554.8" width="2.2" height="2.4" fill="none" stroke="#7c868c" stroke-width="0.4"/>
<rect x="921.6" y="500" width="2.2" height="2.6" fill="none" stroke="#7c868c" stroke-width="0.4"/>
<rect x="921.6" y="558.4" width="2.2" height="2.4" fill="none" stroke="#7c868c" stroke-width="0.4"/>
<rect x="921.6" y="504" width="2.2" height="2.6" fill="none" stroke="#7c868c" stroke-width="0.4"/>
<rect x="921.6" y="562" width="2.2" height="2.4" fill="none" stroke="#7c868c" stroke-width="0.4"/>
<rect x="921.6" y="508" width="2.2" height="2.6" fill="none" stroke="#7c868c" stroke-width="0.4"/>
<rect x="921.6" y="565.6" width="2.2" height="2.4" fill="none" stroke="#7c868c" stroke-width="0.4"/>
<rect x="921.6" y="512" width="2.2" height="2.6" fill="none" stroke="#7c868c" stroke-width="0.4"/>
<rect x="921.6" y="569.2" width="2.2" height="2.4" fill="none" stroke="#7c868c" stroke-width="0.4"/>
<rect x="911.1" y="489.55" width="6.4" height="0.9" fill="#2a2d30"/>
<rect x="913.85" y="486.8" width="0.9" height="6.4" fill="#2a2d30"/>
<rect x="911.1" y="565.55" width="6.4" height="0.9" fill="#2a2d30"/>
<rect x="913.85" y="562.8" width="0.9" height="6.4" fill="#2a2d30"/>
<path d="M887.2 528 Q888 525 891 523.4 L902 522.6 L930 523.8 L958 526.4 L961 528 L958 529.6 L930 532.2 L902 533.4 L891 532.6 Q888 531 887.2 528Z" fill="#cbd5da" stroke="#7c868c" stroke-width="0.6" stroke-linejoin="round"/>
<rect x="893" y="524" width="7" height="8" fill="none" stroke="#3a3f44" stroke-width="0.6"/>
<rect x="902" y="525" width="6" height="6" fill="none" stroke="#3a3f44" stroke-width="0.5"/>
<rect x="912" y="523.6" width="8" height="8.8" fill="none" stroke="#7c868c" stroke-width="0.5"/>
<path d="M912 523.6 L920 532.4" fill="none" stroke="#7c868c" stroke-width="0.4"/>
<path d="M920 523.6 L912 532.4" fill="none" stroke="#7c868c" stroke-width="0.4"/>
<rect x="922" y="523" width="2" height="3" fill="#3a3f44"/>
<rect x="922" y="530" width="2" height="3" fill="#3a3f44"/>
<path d="M890 517.6 L890 539.4" fill="none" stroke="#24272a" stroke-width="0.8"/>
<path d="M890 517.6 L903 517.2" fill="none" stroke="#24272a" stroke-width="0.5"/>
<path d="M890 539.4 L903 539.8" fill="none" stroke="#24272a" stroke-width="0.5"/>
<circle cx="887.4" cy="528" r="1.1" fill="#d9dcde" stroke="#24272a" stroke-width="0.4"/>
<path d="M881 653.6 L884 651.9 L892 651.3 L940 651.2 L942.6 652.4 L941 654 L930 655.4 L914 658.2 L896 658.4 L886 657.2Z" fill="#525a44" stroke="#1f241c" stroke-width="0.8" stroke-linejoin="round"/>
<path d="M886 653 L912 652.4 L926 653 L910 655.6 L890 656Z" fill="#8a9066" opacity="0.85"/>
<path d="M914 652 L930 652 L922 656 L912 657.6Z" fill="#3e4536" opacity="0.7"/>
<circle cx="942" cy="652.6" r="1.5" fill="#4a5240" stroke="#1f241c" stroke-width="0.5"/>
<path d="M909 643 L905.2 651.6" fill="none" stroke="#33382f" stroke-width="1.0"/>
<path d="M909 643 L921.7 651.6" fill="none" stroke="#33382f" stroke-width="1.0"/>
<path d="M922 643 L921.7 651.6" fill="none" stroke="#33382f" stroke-width="1.0"/>
<path d="M953.2 634.8 L956.6 626 L958.4 622.6 L961.3 621.3 L964.4 624.4 L966.3 630.9 L966.4 637Z" fill="#69714f" stroke="#1f241c" stroke-width="0.8" stroke-linejoin="round"/>
<path d="M959 622.4 L961.3 621.3 L964.4 624.4 L965.6 629 L960 629.6Z" fill="#4a5240" opacity="0.8"/>
<path d="M956 629 L960 630 L959 635 L954.6 635Z" fill="#8a9066" opacity="0.8"/>
<path d="M888.6 637.3 L890.4 634.2 L894 632.9 L907.4 632.6 L928 633.6 L953.6 634.7 L966.4 636.6 L970.6 637.4 L966 638.4 L947 641.5 L922.8 643.1 L900 642.6 L892 641.6 L889.4 639.6Z" fill="#656d4c" stroke="#1f241c" stroke-width="0.8" stroke-linejoin="round"/>
<path d="M894 633 L904 632.7 L902 642.6 L893 641.8Z" fill="#4a5240" opacity="0.85"/>
<path d="M927 634 L940 634.4 L938 641.6 L926 642.6Z" fill="#8a9066" opacity="0.8"/>
<path d="M941 634.6 L952 635 L950 640.6 L940 641.6Z" fill="#4a5240" opacity="0.8"/>
<path d="M907 638.4 L926 638.8 L926 640.2 L907 639.8Z" fill="#dfe3e5"/>
<path d="M917 637.6 L923 637.8 L924 642 L918 642Z" fill="#c9d0d6" opacity="0.9"/>
<rect x="939.8" y="637" width="4.4" height="1.6" fill="#f0f1f0"/>
<rect x="941.2" y="635.6" width="1.6" height="4.4" fill="#f0f1f0"/>
<rect x="940.4" y="637.5" width="3.2" height="0.6" fill="#22261f"/>
<rect x="941.7" y="636.2" width="0.6" height="3.2" fill="#22261f"/>
<path d="M907.4 633 L909.8 630.2 L912 629.6 L925 629.8 L927.4 633.4Z" fill="#dfe6e8" stroke="#1d201c" stroke-width="0.8" stroke-linejoin="round"/>
<path d="M913.4 629.8 L913.4 633.2" fill="none" stroke="#1d201c" stroke-width="0.6"/>
<path d="M918.6 629.8 L918.6 633.2" fill="none" stroke="#1d201c" stroke-width="0.6"/>
<path d="M923 629.8 L923 633.2" fill="none" stroke="#1d201c" stroke-width="0.6"/>
<path d="M909.8 630.2 L925 629.8" fill="none" stroke="#1d201c" stroke-width="1.0"/>
<path d="M890.4 626 L890.4 643.8" fill="none" stroke="#1d201c" stroke-width="1.1"/>
<path d="M890 635.8 L886.8 637.3 L890 638.8Z" fill="#c9cdd0" stroke="#1d201c" stroke-width="0.4" stroke-linejoin="round"/>
<path d="M883 637.3 L887 637.3" fill="none" stroke="#555" stroke-width="0.4"/>
<path d="M970.1 755.1 L967.1 753.4 L959.1 752.8 L911.1 752.7 L908.5 753.9 L910.1 755.5 L921.1 756.9 L937.1 759.7 L955.1 759.9 L965.1 758.7Z" fill="#525a44" stroke="#1f241c" stroke-width="0.8" stroke-linejoin="round"/>
<path d="M965.1 754.5 L939.1 753.9 L925.1 754.5 L941.1 757.1 L961.1 757.5Z" fill="#8a9066" opacity="0.85"/>
<path d="M937.1 753.5 L921.1 753.5 L929.1 757.5 L939.1 759.1Z" fill="#3e4536" opacity="0.7"/>
<circle cx="909.1" cy="754.1" r="1.5" fill="#4a5240" stroke="#1f241c" stroke-width="0.5"/>
<path d="M942.1 744.5 L945.9 753.1" fill="none" stroke="#33382f" stroke-width="1.0"/>
<path d="M942.1 744.5 L929.4 753.1" fill="none" stroke="#33382f" stroke-width="1.0"/>
<path d="M929.1 744.5 L929.4 753.1" fill="none" stroke="#33382f" stroke-width="1.0"/>
<path d="M897.9 736.3 L894.5 727.5 L892.7 724.1 L889.8 722.8 L886.7 725.9 L884.8 732.4 L884.7 738.5Z" fill="#69714f" stroke="#1f241c" stroke-width="0.8" stroke-linejoin="round"/>
<path d="M892.1 723.9 L889.8 722.8 L886.7 725.9 L885.5 730.5 L891.1 731.1Z" fill="#4a5240" opacity="0.8"/>
<path d="M895.1 730.5 L891.1 731.5 L892.1 736.5 L896.5 736.5Z" fill="#8a9066" opacity="0.8"/>
<path d="M962.5 738.8 L960.7 735.7 L957.1 734.4 L943.7 734.1 L923.1 735.1 L897.5 736.2 L884.7 738.1 L880.5 738.9 L885.1 739.9 L904.1 743 L928.3 744.6 L951.1 744.1 L959.1 743.1 L961.7 741.1Z" fill="#656d4c" stroke="#1f241c" stroke-width="0.8" stroke-linejoin="round"/>
<path d="M957.1 734.5 L947.1 734.2 L949.1 744.1 L958.1 743.3Z" fill="#4a5240" opacity="0.85"/>
<path d="M924.1 735.5 L911.1 735.9 L913.1 743.1 L925.1 744.1Z" fill="#8a9066" opacity="0.8"/>
<path d="M910.1 736.1 L899.1 736.5 L901.1 742.1 L911.1 743.1Z" fill="#4a5240" opacity="0.8"/>
<path d="M944.1 739.9 L925.1 740.3 L925.1 741.7 L944.1 741.3Z" fill="#dfe3e5"/>
<path d="M934.1 739.1 L928.1 739.3 L927.1 743.5 L933.1 743.5Z" fill="#c9d0d6" opacity="0.9"/>
<rect x="906.9" y="738.5" width="4.4" height="1.6" fill="#f0f1f0"/>
<rect x="908.3" y="737.1" width="1.6" height="4.4" fill="#f0f1f0"/>
<rect x="907.5" y="739" width="3.2" height="0.6" fill="#22261f"/>
<rect x="908.8" y="737.7" width="0.6" height="3.2" fill="#22261f"/>
<path d="M943.7 734.5 L941.3 731.7 L939.1 731.1 L926.1 731.3 L923.7 734.9Z" fill="#dfe6e8" stroke="#1d201c" stroke-width="0.8" stroke-linejoin="round"/>
<path d="M937.7 731.3 L937.7 734.7" fill="none" stroke="#1d201c" stroke-width="0.6"/>
<path d="M932.5 731.3 L932.5 734.7" fill="none" stroke="#1d201c" stroke-width="0.6"/>
<path d="M928.1 731.3 L928.1 734.7" fill="none" stroke="#1d201c" stroke-width="0.6"/>
<path d="M941.3 731.7 L926.1 731.3" fill="none" stroke="#1d201c" stroke-width="1.0"/>
<path d="M960.7 727.5 L960.7 745.3" fill="none" stroke="#1d201c" stroke-width="1.1"/>
<path d="M961.1 737.3 L964.3 738.8 L961.1 740.3Z" fill="#c9cdd0" stroke="#1d201c" stroke-width="0.4" stroke-linejoin="round"/>
<path d="M968.1 738.8 L964.1 738.8" fill="none" stroke="#555" stroke-width="0.4"/></g>
<text x="75.0" y="361.1" font-size="12.9" text-anchor="end" fill="#111" stroke="#111" stroke-width="0.43">H</text><rect x="76.2" y="350.3" width="30.8" height="11.4" fill="#111"/><rect x="77.10" y="351.20" width="14.50" height="9.60" fill="#fff"/><text x="84.4" y="359.5" font-size="9.8" class="b" text-anchor="middle" fill="#111" stroke="#111" stroke-width="0.34" textLength="12.6" lengthAdjust="spacingAndGlyphs">331</text><text x="99.1" y="359.5" font-size="9.8" class="b" text-anchor="middle" fill="#fff" stroke="#fff" stroke-width="0.34" textLength="12.6" lengthAdjust="spacingAndGlyphs">331</text>
<path d="M91.6 365.2 L91.6 406.8" fill="none" stroke="#5a5a5a" stroke-width="0.75"/>
<text x="57.1" y="369.0" font-size="8.6" text-anchor="middle" fill="#111" stroke="#111" stroke-width="0.4" textLength="8.4" lengthAdjust="spacingAndGlyphs">11</text>
<path d="M57.4 372.0 L57.4 399.0" fill="none" stroke="#5a5a5a" stroke-width="0.75"/>
<text x="329.0" y="316.1" font-size="12.9" text-anchor="end" fill="#111" stroke="#111" stroke-width="0.43">H</text><rect x="330.2" y="305.3" width="30.8" height="11.4" fill="#111"/><rect x="331.10" y="306.20" width="14.50" height="9.60" fill="#fff"/><text x="338.4" y="314.5" font-size="9.8" class="b" text-anchor="middle" fill="#111" stroke="#111" stroke-width="0.34" textLength="8.8" lengthAdjust="spacingAndGlyphs">12</text><text x="353.1" y="314.5" font-size="9.8" class="b" text-anchor="middle" fill="#fff" stroke="#fff" stroke-width="0.34" textLength="8.8" lengthAdjust="spacingAndGlyphs">33</text>
<path d="M344.0 321.0 L327.5 340.0 L327.5 354.0" fill="none" stroke="#5a5a5a" stroke-width="0.75"/>
<text x="588.4" y="346.6" font-size="12.9" text-anchor="end" fill="#111" stroke="#111" stroke-width="0.43">H</text><rect x="589.6" y="335.8" width="30.8" height="11.4" fill="#111"/><rect x="590.50" y="336.70" width="14.50" height="9.60" fill="#fff"/><text x="597.8" y="345.0" font-size="9.8" class="b" text-anchor="middle" fill="#111" stroke="#111" stroke-width="0.34" textLength="12.6" lengthAdjust="spacingAndGlyphs">337</text><text x="612.5" y="345.0" font-size="9.8" class="b" text-anchor="middle" fill="#fff" stroke="#fff" stroke-width="0.34" textLength="12.6" lengthAdjust="spacingAndGlyphs">337</text>
<path d="M604.4 350.0 L604.4 382.0" fill="none" stroke="#5a5a5a" stroke-width="0.75"/>
<text x="687.0" y="354.0" font-size="12.9" text-anchor="end" fill="#111" stroke="#111" stroke-width="0.43">H</text><rect x="688.2" y="343.2" width="30.8" height="11.4" fill="#111"/><rect x="689.10" y="344.10" width="14.50" height="9.60" fill="#fff"/><text x="696.4" y="352.4" font-size="9.8" class="b" text-anchor="middle" fill="#111" stroke="#111" stroke-width="0.34" textLength="8.8" lengthAdjust="spacingAndGlyphs">12</text><text x="711.1" y="352.4" font-size="9.8" class="b" text-anchor="middle" fill="#fff" stroke="#fff" stroke-width="0.34" textLength="8.8" lengthAdjust="spacingAndGlyphs">33</text>
<path d="M703.2 358.3 L703.2 421.0" fill="none" stroke="#5a5a5a" stroke-width="0.75"/>
<text x="760.8" y="352.6" font-size="12.9" text-anchor="end" fill="#111" stroke="#111" stroke-width="0.43">H</text><rect x="762.0" y="341.8" width="30.8" height="11.4" fill="#111"/><rect x="762.90" y="342.70" width="14.50" height="9.60" fill="#fff"/><text x="770.2" y="351.0" font-size="9.8" class="b" text-anchor="middle" fill="#111" stroke="#111" stroke-width="0.34" textLength="12.6" lengthAdjust="spacingAndGlyphs">324</text><text x="784.9" y="351.0" font-size="9.8" class="b" text-anchor="middle" fill="#fff" stroke="#fff" stroke-width="0.34" textLength="12.6" lengthAdjust="spacingAndGlyphs">324</text>
<path d="M777.8 357.0 L777.8 391.0" fill="none" stroke="#5a5a5a" stroke-width="0.75"/>
<text x="746.4" y="476.8" font-size="12.9" text-anchor="end" fill="#111" stroke="#111" stroke-width="0.43">H</text><rect x="747.6" y="466.0" width="30.8" height="11.4" fill="#111"/><rect x="748.50" y="466.90" width="14.50" height="9.60" fill="#fff"/><text x="755.8" y="475.2" font-size="9.8" class="b" text-anchor="middle" fill="#111" stroke="#111" stroke-width="0.34" textLength="8.8" lengthAdjust="spacingAndGlyphs">17</text><text x="770.5" y="475.2" font-size="9.8" class="b" text-anchor="middle" fill="#fff" stroke="#fff" stroke-width="0.34" textLength="8.8" lengthAdjust="spacingAndGlyphs">29</text>
<path d="M763.5 432.0 L763.5 461.7" fill="none" stroke="#5a5a5a" stroke-width="0.75"/>
<text x="69.2" y="475.0" font-size="12.9" text-anchor="end" fill="#111" stroke="#111" stroke-width="0.43">H</text><rect x="70.4" y="464.2" width="30.8" height="11.4" fill="#111"/><rect x="71.30" y="465.10" width="14.50" height="9.60" fill="#fff"/><text x="78.6" y="473.4" font-size="9.8" class="b" text-anchor="middle" fill="#111" stroke="#111" stroke-width="0.34" textLength="8.8" lengthAdjust="spacingAndGlyphs">10</text><text x="93.3" y="473.4" font-size="9.8" class="b" text-anchor="middle" fill="#fff" stroke="#fff" stroke-width="0.34" textLength="8.8" lengthAdjust="spacingAndGlyphs">10</text>
<path d="M86.2 443.0 L86.2 460.0" fill="none" stroke="#5a5a5a" stroke-width="0.75"/>
<text x="114.9" y="495.7" font-size="10.5" text-anchor="middle" fill="#111" stroke="#111" stroke-width="0.4" textLength="16.4" lengthAdjust="spacingAndGlyphs">3+7</text>
<path d="M115.2 497.2 L115.2 528.0" fill="none" stroke="#5a5a5a" stroke-width="0.75"/>
<text x="40.0" y="577.4" font-size="12.9" text-anchor="end" fill="#111" stroke="#111" stroke-width="0.43">H</text><rect x="41.2" y="566.6" width="30.8" height="11.4" fill="#111"/><rect x="42.10" y="567.50" width="14.50" height="9.60" fill="#fff"/><text x="49.4" y="575.8" font-size="9.8" class="b" text-anchor="middle" fill="#111" stroke="#111" stroke-width="0.34" textLength="8.8" lengthAdjust="spacingAndGlyphs">18</text><text x="64.1" y="575.8" font-size="9.8" class="b" text-anchor="middle" fill="#fff" stroke="#fff" stroke-width="0.34" textLength="8.8" lengthAdjust="spacingAndGlyphs">28</text>
<path d="M57.0 536.0 L57.0 562.0" fill="none" stroke="#5a5a5a" stroke-width="0.75"/>
<text x="109.8" y="604.2" font-size="12.9" text-anchor="end" fill="#111" stroke="#111" stroke-width="0.43">H</text><rect x="111.0" y="593.4" width="30.8" height="11.4" fill="#111"/><rect x="111.90" y="594.30" width="14.50" height="9.60" fill="#fff"/><text x="119.2" y="602.6" font-size="9.8" class="b" text-anchor="middle" fill="#111" stroke="#111" stroke-width="0.34" textLength="4.4" lengthAdjust="spacingAndGlyphs">3</text><text x="133.9" y="602.6" font-size="9.8" class="b" text-anchor="middle" fill="#fff" stroke="#fff" stroke-width="0.34" textLength="4.4" lengthAdjust="spacingAndGlyphs">3</text>
<path d="M123.7 553.0 L123.7 589.0" fill="none" stroke="#5a5a5a" stroke-width="0.75"/>
<text x="237.3" y="611.2" font-size="12.9" text-anchor="end" fill="#111" stroke="#111" stroke-width="0.43">H</text><rect x="238.5" y="600.4" width="30.8" height="11.4" fill="#111"/><rect x="239.40" y="601.30" width="14.50" height="9.60" fill="#fff"/><text x="246.7" y="609.6" font-size="9.8" class="b" text-anchor="middle" fill="#111" stroke="#111" stroke-width="0.34" textLength="4.4" lengthAdjust="spacingAndGlyphs">3</text><text x="261.4" y="609.6" font-size="9.8" class="b" text-anchor="middle" fill="#fff" stroke="#fff" stroke-width="0.34" textLength="4.4" lengthAdjust="spacingAndGlyphs">3</text>
<path d="M252.5 550.0 L252.5 595.5" fill="none" stroke="#5a5a5a" stroke-width="0.75"/>
<text x="333.2" y="609.4" font-size="12.9" text-anchor="end" fill="#111" stroke="#111" stroke-width="0.43">H</text><rect x="334.4" y="598.6" width="30.8" height="11.4" fill="#111"/><rect x="335.30" y="599.50" width="14.50" height="9.60" fill="#fff"/><text x="342.6" y="607.8" font-size="9.8" class="b" text-anchor="middle" fill="#111" stroke="#111" stroke-width="0.34" textLength="12.6" lengthAdjust="spacingAndGlyphs">324</text><text x="357.3" y="607.8" font-size="9.8" class="b" text-anchor="middle" fill="#fff" stroke="#fff" stroke-width="0.34" textLength="12.6" lengthAdjust="spacingAndGlyphs">324</text>
<path d="M350.0 556.0 L350.0 595.0" fill="none" stroke="#5a5a5a" stroke-width="0.75"/>
<text x="522.4" y="470.2" font-size="12.9" text-anchor="end" fill="#111" stroke="#111" stroke-width="0.43">H</text><rect x="523.6" y="459.4" width="30.8" height="11.4" fill="#111"/><rect x="524.50" y="460.30" width="14.50" height="9.60" fill="#fff"/><text x="531.8" y="468.6" font-size="9.8" class="b" text-anchor="middle" fill="#111" stroke="#111" stroke-width="0.34" textLength="12.6" lengthAdjust="spacingAndGlyphs">331</text><text x="546.5" y="468.6" font-size="9.8" class="b" text-anchor="middle" fill="#fff" stroke="#fff" stroke-width="0.34" textLength="12.6" lengthAdjust="spacingAndGlyphs">331</text>
<path d="M538.4 474.0 L538.4 502.0" fill="none" stroke="#5a5a5a" stroke-width="0.75"/>
<text x="435.4" y="609.1" font-size="12.9" text-anchor="end" fill="#111" stroke="#111" stroke-width="0.43">H</text><rect x="436.6" y="598.3" width="30.8" height="11.4" fill="#111"/><rect x="437.50" y="599.20" width="14.50" height="9.60" fill="#fff"/><text x="444.8" y="607.5" font-size="9.8" class="b" text-anchor="middle" fill="#111" stroke="#111" stroke-width="0.34" textLength="8.8" lengthAdjust="spacingAndGlyphs">72</text><text x="459.5" y="607.5" font-size="9.8" class="b" text-anchor="middle" fill="#fff" stroke="#fff" stroke-width="0.34" textLength="8.8" lengthAdjust="spacingAndGlyphs">22</text>
<path d="M449.4 556.0 L449.4 594.0" fill="none" stroke="#5a5a5a" stroke-width="0.75"/>
<text x="497.0" y="609.1" font-size="12.9" text-anchor="end" fill="#111" stroke="#111" stroke-width="0.43">H</text><rect x="498.2" y="598.3" width="30.8" height="11.4" fill="#111"/><rect x="499.10" y="599.20" width="14.50" height="9.60" fill="#fff"/><text x="506.4" y="607.5" font-size="9.8" class="b" text-anchor="middle" fill="#111" stroke="#111" stroke-width="0.34" textLength="8.8" lengthAdjust="spacingAndGlyphs">12</text><text x="521.1" y="607.5" font-size="9.8" class="b" text-anchor="middle" fill="#fff" stroke="#fff" stroke-width="0.34" textLength="8.8" lengthAdjust="spacingAndGlyphs">33</text>
<path d="M514.0 595.0 L529.0 583.0 L529.0 546.0" fill="none" stroke="#5a5a5a" stroke-width="0.75"/>
<text x="656.0" y="604.3" font-size="12.9" text-anchor="end" fill="#111" stroke="#111" stroke-width="0.43">H</text><rect x="657.2" y="593.5" width="30.8" height="11.4" fill="#111"/><rect x="658.10" y="594.40" width="14.50" height="9.60" fill="#fff"/><text x="665.4" y="602.7" font-size="9.8" class="b" text-anchor="middle" fill="#111" stroke="#111" stroke-width="0.34" textLength="8.8" lengthAdjust="spacingAndGlyphs">72</text><text x="680.1" y="602.7" font-size="9.8" class="b" text-anchor="middle" fill="#fff" stroke="#fff" stroke-width="0.34" textLength="8.8" lengthAdjust="spacingAndGlyphs">22</text>
<path d="M673.6 556.0 L673.6 589.0" fill="none" stroke="#5a5a5a" stroke-width="0.75"/>
<text x="690" y="603.3" font-size="10.4" class="b" fill="#111" stroke="#111" stroke-width="0.2" textLength="17.6" lengthAdjust="spacingAndGlyphs">70%</text>
<text x="673.3" y="615.2" font-size="9.4" class="b" text-anchor="middle" fill="#111" stroke="#111" stroke-width="0.3">+</text>
<text x="656.0" y="628.7" font-size="12.9" text-anchor="end" fill="#111" stroke="#111" stroke-width="0.43">H</text><rect x="657.2" y="617.9" width="30.8" height="11.4" fill="#111"/><rect x="658.10" y="618.80" width="14.50" height="9.60" fill="#fff"/><text x="665.4" y="627.1" font-size="9.8" class="b" text-anchor="middle" fill="#111" stroke="#111" stroke-width="0.34" textLength="8.8" lengthAdjust="spacingAndGlyphs">79</text><text x="680.1" y="627.1" font-size="9.8" class="b" text-anchor="middle" fill="#fff" stroke="#fff" stroke-width="0.34" textLength="8.8" lengthAdjust="spacingAndGlyphs">39</text>
<text x="690" y="627.4" font-size="10.4" class="b" fill="#111" stroke="#111" stroke-width="0.2" textLength="17.6" lengthAdjust="spacingAndGlyphs">30%</text>
<text x="745.6" y="596.0" font-size="12.9" text-anchor="end" fill="#111" stroke="#111" stroke-width="0.43">H</text><rect x="746.8" y="585.2" width="30.8" height="11.4" fill="#111"/><rect x="747.70" y="586.10" width="14.50" height="9.60" fill="#fff"/><text x="755.0" y="594.4" font-size="9.8" class="b" text-anchor="middle" fill="#111" stroke="#111" stroke-width="0.34" textLength="8.8" lengthAdjust="spacingAndGlyphs">18</text><text x="769.7" y="594.4" font-size="9.8" class="b" text-anchor="middle" fill="#fff" stroke="#fff" stroke-width="0.34" textLength="8.8" lengthAdjust="spacingAndGlyphs">28</text>
<path d="M761.5 556.0 L761.5 581.0" fill="none" stroke="#5a5a5a" stroke-width="0.75"/>
<text x="776.6" y="495.7" font-size="10.5" text-anchor="middle" fill="#111" stroke="#111" stroke-width="0.4" textLength="16.4" lengthAdjust="spacingAndGlyphs">4+9</text>
<path d="M776.6 497.5 L776.6 523.0" fill="none" stroke="#5a5a5a" stroke-width="0.75"/>
<text x="60.0" y="708.2" font-size="12.9" text-anchor="end" fill="#111" stroke="#111" stroke-width="0.43">H</text><rect x="61.2" y="697.4" width="30.8" height="11.4" fill="#111"/><rect x="62.10" y="698.30" width="14.50" height="9.60" fill="#fff"/><text x="69.4" y="706.6" font-size="9.8" class="b" text-anchor="middle" fill="#111" stroke="#111" stroke-width="0.34" textLength="12.6" lengthAdjust="spacingAndGlyphs">324</text><text x="84.1" y="706.6" font-size="9.8" class="b" text-anchor="middle" fill="#fff" stroke="#fff" stroke-width="0.34" textLength="12.6" lengthAdjust="spacingAndGlyphs">324</text>
<path d="M78.0 713.0 L78.0 742.0" fill="none" stroke="#5a5a5a" stroke-width="0.75"/>
<text x="159.0" y="714.8" font-size="12.9" text-anchor="end" fill="#111" stroke="#111" stroke-width="0.43">H</text><rect x="160.2" y="704.0" width="30.8" height="11.4" fill="#111"/><rect x="161.10" y="704.90" width="14.50" height="9.60" fill="#fff"/><text x="168.4" y="713.2" font-size="9.8" class="b" text-anchor="middle" fill="#111" stroke="#111" stroke-width="0.34" textLength="8.8" lengthAdjust="spacingAndGlyphs">17</text><text x="183.1" y="713.2" font-size="9.8" class="b" text-anchor="middle" fill="#fff" stroke="#fff" stroke-width="0.34" textLength="8.8" lengthAdjust="spacingAndGlyphs">29</text>
<path d="M175.6 718.5 L175.6 783.0" fill="none" stroke="#5a5a5a" stroke-width="0.75"/>
<text x="300.8" y="690.8" font-size="12.9" text-anchor="end" fill="#111" stroke="#111" stroke-width="0.43">H</text><rect x="302.0" y="680.0" width="30.8" height="11.4" fill="#111"/><rect x="302.90" y="680.90" width="14.50" height="9.60" fill="#fff"/><text x="310.2" y="689.2" font-size="9.8" class="b" text-anchor="middle" fill="#111" stroke="#111" stroke-width="0.34" textLength="12.6" lengthAdjust="spacingAndGlyphs">337</text><text x="324.9" y="689.2" font-size="9.8" class="b" text-anchor="middle" fill="#fff" stroke="#fff" stroke-width="0.34" textLength="12.6" lengthAdjust="spacingAndGlyphs">337</text>
<path d="M317.4 694.0 L317.4 718.0" fill="none" stroke="#5a5a5a" stroke-width="0.75"/>
<text x="428.6" y="663.2" font-size="12.9" text-anchor="end" fill="#111" stroke="#111" stroke-width="0.43">H</text><rect x="429.8" y="652.4" width="30.8" height="11.4" fill="#111"/><rect x="430.70" y="653.30" width="14.50" height="9.60" fill="#fff"/><text x="438.0" y="661.6" font-size="9.8" class="b" text-anchor="middle" fill="#111" stroke="#111" stroke-width="0.34" textLength="8.8" lengthAdjust="spacingAndGlyphs">12</text><text x="452.7" y="661.6" font-size="9.8" class="b" text-anchor="middle" fill="#fff" stroke="#fff" stroke-width="0.34" textLength="8.8" lengthAdjust="spacingAndGlyphs">33</text>
<path d="M445.0 667.0 L445.0 687.0 L425.0 700.0" fill="none" stroke="#5a5a5a" stroke-width="0.75"/>
<text x="677.8" y="712.8" font-size="12.9" text-anchor="end" fill="#111" stroke="#111" stroke-width="0.43">H</text><rect x="679.0" y="702.0" width="30.8" height="11.4" fill="#111"/><rect x="679.90" y="702.90" width="14.50" height="9.60" fill="#fff"/><text x="687.2" y="711.2" font-size="9.8" class="b" text-anchor="middle" fill="#111" stroke="#111" stroke-width="0.34" textLength="12.6" lengthAdjust="spacingAndGlyphs">331</text><text x="701.9" y="711.2" font-size="9.8" class="b" text-anchor="middle" fill="#fff" stroke="#fff" stroke-width="0.34" textLength="12.6" lengthAdjust="spacingAndGlyphs">331</text>
<path d="M694.0 716.0 L694.0 759.0" fill="none" stroke="#5a5a5a" stroke-width="0.75"/>
<text x="747.6" y="712.8" font-size="12.9" text-anchor="end" fill="#111" stroke="#111" stroke-width="0.43">H</text><rect x="748.8" y="702.0" width="30.8" height="11.4" fill="#111"/><rect x="749.70" y="702.90" width="14.50" height="9.60" fill="#fff"/><text x="757.0" y="711.2" font-size="9.8" class="b" text-anchor="middle" fill="#111" stroke="#111" stroke-width="0.34" textLength="8.8" lengthAdjust="spacingAndGlyphs">12</text><text x="771.7" y="711.2" font-size="9.8" class="b" text-anchor="middle" fill="#fff" stroke="#fff" stroke-width="0.34" textLength="8.8" lengthAdjust="spacingAndGlyphs">33</text>
<path d="M764.5 716.0 L764.5 772.0" fill="none" stroke="#5a5a5a" stroke-width="0.75"/>
<text x="797.0" y="721.1" font-size="8.6" text-anchor="middle" fill="#111" stroke="#111" stroke-width="0.4" textLength="8.4" lengthAdjust="spacingAndGlyphs">11</text>
<path d="M797.5 724.5 L797.5 750.0" fill="none" stroke="#5a5a5a" stroke-width="0.75"/>
<text x="819.8" y="801.2" font-size="12.9" text-anchor="end" fill="#111" stroke="#111" stroke-width="0.43">H</text><rect x="821.0" y="790.4" width="30.8" height="11.4" fill="#111"/><rect x="821.90" y="791.30" width="14.50" height="9.60" fill="#fff"/><text x="829.2" y="799.6" font-size="9.8" class="b" text-anchor="middle" fill="#111" stroke="#111" stroke-width="0.34" textLength="8.8" lengthAdjust="spacingAndGlyphs">10</text><text x="843.9" y="799.6" font-size="9.8" class="b" text-anchor="middle" fill="#fff" stroke="#fff" stroke-width="0.34" textLength="8.8" lengthAdjust="spacingAndGlyphs">10</text>
<path d="M811.0 796.5 L776.0 796.5 L769.0 790.0" fill="none" stroke="#5a5a5a" stroke-width="0.75"/>
<text x="889.8" y="340.5" font-size="10.4" class="b" fill="#1b7ac6" textLength="44.5" lengthAdjust="spacingAndGlyphs">Ar196 x2</text>
<text x="844.2" y="374.4" font-size="12.9" text-anchor="end" fill="#111" stroke="#111" stroke-width="0.43">H</text><rect x="845.4" y="363.6" width="30.8" height="11.4" fill="#111"/><rect x="846.30" y="364.50" width="14.50" height="9.60" fill="#fff"/><text x="853.6" y="372.8" font-size="9.8" class="b" text-anchor="middle" fill="#111" stroke="#111" stroke-width="0.34" textLength="4.4" lengthAdjust="spacingAndGlyphs">1</text><text x="868.3" y="372.8" font-size="9.8" class="b" text-anchor="middle" fill="#fff" stroke="#fff" stroke-width="0.34" textLength="4.4" lengthAdjust="spacingAndGlyphs">1</text>
<path d="M860.0 377.4 L875.6 401.8 L887.0 401.8" fill="none" stroke="#5a5a5a" stroke-width="0.75"/>
<text x="890.7" y="368.5" font-size="10.4" text-anchor="middle" fill="#111" stroke="#111" stroke-width="0.4" textLength="10.2" lengthAdjust="spacingAndGlyphs">12</text>
<path d="M897.5 364.5 L910.0 364.5" fill="none" stroke="#5a5a5a" stroke-width="0.75"/>
<text x="944.6" y="374.8" font-size="12.9" text-anchor="end" fill="#111" stroke="#111" stroke-width="0.43">H</text><rect x="945.8" y="364.0" width="30.8" height="11.4" fill="#111"/><rect x="946.70" y="364.90" width="14.50" height="9.60" fill="#fff"/><text x="954.0" y="373.2" font-size="9.8" class="b" text-anchor="middle" fill="#111" stroke="#111" stroke-width="0.34" textLength="8.8" lengthAdjust="spacingAndGlyphs">65</text><text x="968.7" y="373.2" font-size="9.8" class="b" text-anchor="middle" fill="#fff" stroke="#fff" stroke-width="0.34" textLength="8.8" lengthAdjust="spacingAndGlyphs">18</text>
<path d="M920.4 369.0 L936.0 369.0" fill="none" stroke="#5a5a5a" stroke-width="0.75"/>
<text x="850.0" y="440.4" font-size="12.9" text-anchor="end" fill="#111" stroke="#111" stroke-width="0.43">H</text><rect x="851.2" y="429.6" width="30.8" height="11.4" fill="#111"/><rect x="852.10" y="430.50" width="14.50" height="9.60" fill="#fff"/><text x="859.4" y="438.8" font-size="9.8" class="b" text-anchor="middle" fill="#111" stroke="#111" stroke-width="0.34" textLength="8.8" lengthAdjust="spacingAndGlyphs">64</text><text x="874.1" y="438.8" font-size="9.8" class="b" text-anchor="middle" fill="#fff" stroke="#fff" stroke-width="0.34" textLength="8.8" lengthAdjust="spacingAndGlyphs">17</text>
<path d="M888.0 434.3 L909.0 434.3" fill="none" stroke="#5a5a5a" stroke-width="0.75"/>
<text x="948.0" y="442.7" font-size="10.4" text-anchor="middle" fill="#111" stroke="#111" stroke-width="0.4" textLength="10.2" lengthAdjust="spacingAndGlyphs">12</text>
<path d="M920.4 439.0 L941.0 439.0" fill="none" stroke="#5a5a5a" stroke-width="0.75"/>
<text x="883.6" y="492.6" font-size="10.4" text-anchor="middle" fill="#111" stroke="#111" stroke-width="0.4" textLength="10.2" lengthAdjust="spacingAndGlyphs">12</text>
<path d="M891.0 489.0 L910.0 489.0" fill="none" stroke="#5a5a5a" stroke-width="0.75"/>
<text x="945.8" y="502.0" font-size="12.9" text-anchor="end" fill="#111" stroke="#111" stroke-width="0.43">H</text><rect x="947.0" y="491.2" width="30.8" height="11.4" fill="#111"/><rect x="947.90" y="492.10" width="14.50" height="9.60" fill="#fff"/><text x="969.9" y="500.4" font-size="9.8" class="b" text-anchor="middle" fill="#fff" stroke="#fff" stroke-width="0.34" textLength="12.6" lengthAdjust="spacingAndGlyphs">118</text>
<path d="M923.0 496.4 L937.0 496.4" fill="none" stroke="#5a5a5a" stroke-width="0.75"/>
<text x="844.4" y="511.2" font-size="12.9" text-anchor="end" fill="#111" stroke="#111" stroke-width="0.43">H</text><rect x="845.6" y="500.4" width="30.8" height="11.4" fill="#111"/><rect x="846.50" y="501.30" width="14.50" height="9.60" fill="#fff"/><text x="853.8" y="509.6" font-size="9.8" class="b" text-anchor="middle" fill="#111" stroke="#111" stroke-width="0.34" textLength="8.8" lengthAdjust="spacingAndGlyphs">12</text><text x="868.5" y="509.6" font-size="9.8" class="b" text-anchor="middle" fill="#fff" stroke="#fff" stroke-width="0.34" textLength="8.8" lengthAdjust="spacingAndGlyphs">33</text>
<path d="M862.0 514.0 L875.0 532.0 L887.4 532.0" fill="none" stroke="#5a5a5a" stroke-width="0.75"/>
<text x="886.5" y="570.7" font-size="10.4" text-anchor="middle" fill="#111" stroke="#111" stroke-width="0.4" textLength="10.2" lengthAdjust="spacingAndGlyphs">12</text>
<path d="M894.0 567.0 L910.0 567.0" fill="none" stroke="#5a5a5a" stroke-width="0.75"/>
<text x="888.4" y="612.2" font-size="12.9" text-anchor="end" fill="#111" stroke="#111" stroke-width="0.43">H</text><rect x="889.6" y="601.4" width="30.8" height="11.4" fill="#111"/><rect x="890.50" y="602.30" width="14.50" height="9.60" fill="#fff"/><text x="897.8" y="610.6" font-size="9.8" class="b" text-anchor="middle" fill="#111" stroke="#111" stroke-width="0.34" textLength="8.8" lengthAdjust="spacingAndGlyphs">64</text><text x="912.5" y="610.6" font-size="9.8" class="b" text-anchor="middle" fill="#fff" stroke="#fff" stroke-width="0.34" textLength="8.8" lengthAdjust="spacingAndGlyphs">17</text>
<path d="M905.3 615.0 L905.3 630.0" fill="none" stroke="#5a5a5a" stroke-width="0.75"/>
<text x="941.7" y="614.7" font-size="10.4" text-anchor="middle" fill="#111" stroke="#111" stroke-width="0.4" textLength="10.2" lengthAdjust="spacingAndGlyphs">12</text>
<path d="M941.7 617.0 L941.7 634.0" fill="none" stroke="#5a5a5a" stroke-width="0.75"/>
<text x="962.0" y="605.3" font-size="10.4" text-anchor="middle" fill="#111" stroke="#111" stroke-width="0.4" textLength="10.2" lengthAdjust="spacingAndGlyphs">10</text>
<path d="M962.3 608.0 L962.3 623.0" fill="none" stroke="#5a5a5a" stroke-width="0.75"/>
<text x="838.8" y="643.8" font-size="12.9" text-anchor="end" fill="#111" stroke="#111" stroke-width="0.43">H</text><rect x="840.0" y="633.0" width="30.8" height="11.4" fill="#111"/><rect x="840.90" y="633.90" width="14.50" height="9.60" fill="#fff"/><text x="848.2" y="642.2" font-size="9.8" class="b" text-anchor="middle" fill="#111" stroke="#111" stroke-width="0.34" textLength="4.4" lengthAdjust="spacingAndGlyphs">1</text><text x="862.9" y="642.2" font-size="9.8" class="b" text-anchor="middle" fill="#fff" stroke="#fff" stroke-width="0.34" textLength="4.4" lengthAdjust="spacingAndGlyphs">1</text>
<path d="M873.0 638.0 L888.0 638.0" fill="none" stroke="#5a5a5a" stroke-width="0.75"/>
<text x="870.8" y="687.8" font-size="12.9" text-anchor="end" fill="#111" stroke="#111" stroke-width="0.43">H</text><rect x="872.0" y="677.0" width="30.8" height="11.4" fill="#111"/><rect x="872.90" y="677.90" width="14.50" height="9.60" fill="#fff"/><text x="894.9" y="686.2" font-size="9.8" class="b" text-anchor="middle" fill="#fff" stroke="#fff" stroke-width="0.34" textLength="12.6" lengthAdjust="spacingAndGlyphs">118</text>
<path d="M886.4 660.0 L886.4 675.0" fill="none" stroke="#5a5a5a" stroke-width="0.75"/>
<text x="938.6" y="679.1" font-size="12.9" text-anchor="end" fill="#111" stroke="#111" stroke-width="0.43">H</text><rect x="939.8" y="668.3" width="30.8" height="11.4" fill="#111"/><rect x="940.70" y="669.20" width="14.50" height="9.60" fill="#fff"/><text x="948.0" y="677.5" font-size="9.8" class="b" text-anchor="middle" fill="#111" stroke="#111" stroke-width="0.34" textLength="8.8" lengthAdjust="spacingAndGlyphs">65</text><text x="962.7" y="677.5" font-size="9.8" class="b" text-anchor="middle" fill="#fff" stroke="#fff" stroke-width="0.34" textLength="8.8" lengthAdjust="spacingAndGlyphs">18</text>
<path d="M955.2 643.4 L955.2 664.0" fill="none" stroke="#5a5a5a" stroke-width="0.75"/>
<text x="905.8" y="716.0" font-size="10.4" text-anchor="middle" fill="#111" stroke="#111" stroke-width="0.4" textLength="10.2" lengthAdjust="spacingAndGlyphs">12</text>
<path d="M907.4 718.5 L907.4 742.0" fill="none" stroke="#5a5a5a" stroke-width="0.75"/>
<text x="928.4" y="715.4" font-size="12.9" text-anchor="end" fill="#111" stroke="#111" stroke-width="0.43">H</text><rect x="929.6" y="704.6" width="30.8" height="11.4" fill="#111"/><rect x="930.50" y="705.50" width="14.50" height="9.60" fill="#fff"/><text x="937.8" y="713.8" font-size="9.8" class="b" text-anchor="middle" fill="#111" stroke="#111" stroke-width="0.34" textLength="8.8" lengthAdjust="spacingAndGlyphs">64</text><text x="952.5" y="713.8" font-size="9.8" class="b" text-anchor="middle" fill="#fff" stroke="#fff" stroke-width="0.34" textLength="8.8" lengthAdjust="spacingAndGlyphs">17</text>
<path d="M945.7 718.0 L945.7 734.0" fill="none" stroke="#5a5a5a" stroke-width="0.75"/>
<text x="889.0" y="762.4" font-size="10.4" text-anchor="middle" fill="#111" stroke="#111" stroke-width="0.4" textLength="10.2" lengthAdjust="spacingAndGlyphs">10</text>
<path d="M889.0 740.6 L889.0 752.0" fill="none" stroke="#5a5a5a" stroke-width="0.75"/>
<text x="932.8" y="792.6" font-size="12.9" text-anchor="end" fill="#111" stroke="#111" stroke-width="0.43">H</text><rect x="934.0" y="781.8" width="30.8" height="11.4" fill="#111"/><rect x="934.90" y="782.70" width="14.50" height="9.60" fill="#fff"/><text x="942.2" y="791.0" font-size="9.8" class="b" text-anchor="middle" fill="#111" stroke="#111" stroke-width="0.34" textLength="8.8" lengthAdjust="spacingAndGlyphs">65</text><text x="956.9" y="791.0" font-size="9.8" class="b" text-anchor="middle" fill="#fff" stroke="#fff" stroke-width="0.34" textLength="8.8" lengthAdjust="spacingAndGlyphs">18</text>
<path d="M950.3 760.3 L950.3 778.0" fill="none" stroke="#5a5a5a" stroke-width="0.75"/>
<text x="612" y="821.2" font-size="11.5" fill="#111">H</text>
<rect x="622.3" y="813.8" width="6" height="6.6" fill="#fff" stroke="#111" stroke-width="0.8"/><path d="M626.8 815.6l-2.4 1.5 2.4 1.5z" fill="none" stroke="#111" stroke-width="0.5"/>
<text x="635" y="821.2" font-size="11" class="b" fill="#111" textLength="134" lengthAdjust="spacingAndGlyphs">AQUEOUS HOBBY COLOR</text>
<rect x="783" y="813.6" width="6.4" height="7" fill="#111"/><path d="M784.5 815.2l3.4 3.8m0-3.8l-3.4 3.8" stroke="#fff" stroke-width="0.7"/>
<text x="797" y="821.2" font-size="11" class="b" fill="#111" textLength="56" lengthAdjust="spacingAndGlyphs">Mr. COLOR</text>
<text x="862" y="821.2" font-size="11.5" fill="#111">N</text>
<rect x="872.3" y="813.8" width="6" height="6.6" fill="#fff" stroke="#111" stroke-width="0.8"/><path d="M874 815.6l2.4 1.5-2.4 1.5z" fill="none" stroke="#111" stroke-width="0.5"/>
<text x="884" y="821.2" font-size="11" class="b" fill="#111" textLength="93" lengthAdjust="spacingAndGlyphs">ACRYSION COLOR</text>
</svg>
</body></html>
